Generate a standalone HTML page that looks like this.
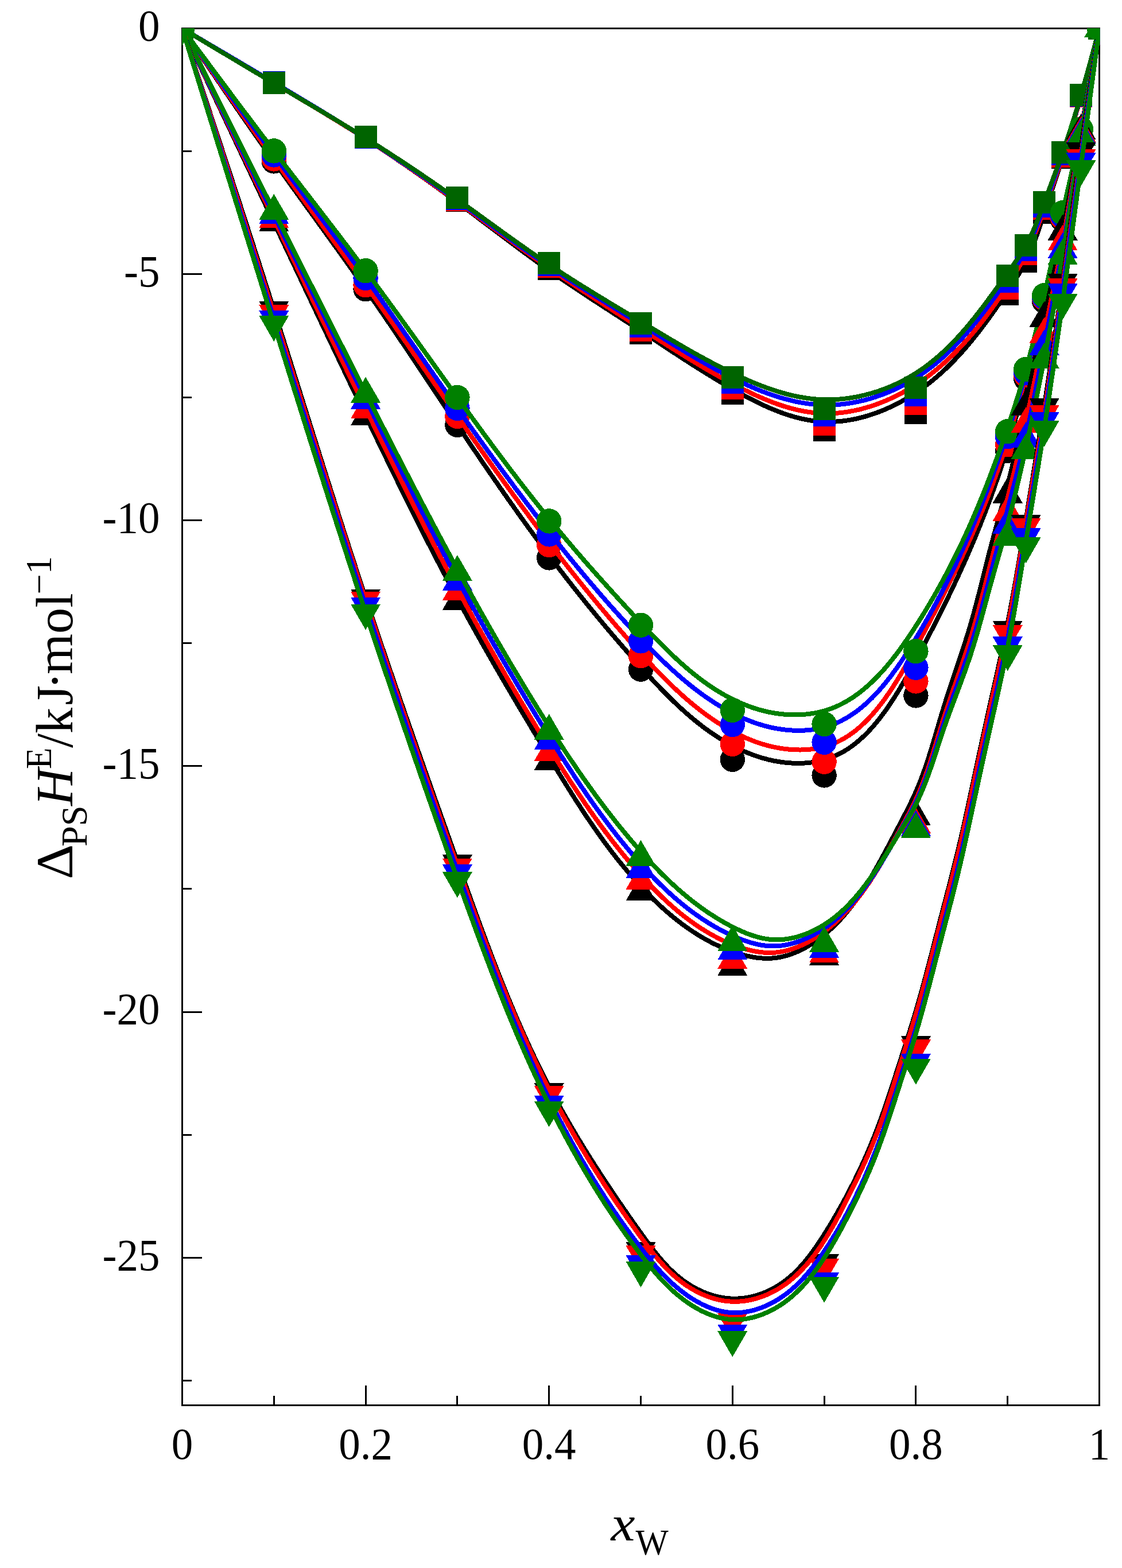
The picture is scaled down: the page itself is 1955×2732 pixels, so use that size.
<!DOCTYPE html>
<html lang="en"><head><meta charset="utf-8"><title>Excess enthalpy plot</title>
<style>html,body{margin:0;padding:0;background:#fff}body{width:1955px;height:2732px;overflow:hidden}svg{display:block}text{font-family:"Liberation Serif","DejaVu Serif",serif;fill:#000}</style></head><body>
<svg role="img" aria-label="Excess enthalpy versus mole fraction of water" width="1955" height="2732" viewBox="0 0 1955 2732">
<rect x="0" y="0" width="1955" height="2732" fill="#fff"/>
<defs><clipPath id="plot"><rect x="317" y="49" width="1599.5" height="2400"/></clipPath></defs>
<g id="axes" stroke="#000" stroke-width="3" fill="none" shape-rendering="crispEdges">
<rect x="317.5" y="49.5" width="1598" height="2399"/>
<line x1="317.5" y1="263.7" x2="334.3" y2="263.7"/>
<line x1="317.5" y1="477.89" x2="352" y2="477.89"/>
<line x1="317.5" y1="692.09" x2="334.3" y2="692.09"/>
<line x1="317.5" y1="906.29" x2="352" y2="906.29"/>
<line x1="317.5" y1="1120.48" x2="334.3" y2="1120.48"/>
<line x1="317.5" y1="1334.68" x2="352" y2="1334.68"/>
<line x1="317.5" y1="1548.88" x2="334.3" y2="1548.88"/>
<line x1="317.5" y1="1763.07" x2="352" y2="1763.07"/>
<line x1="317.5" y1="1977.27" x2="334.3" y2="1977.27"/>
<line x1="317.5" y1="2191.46" x2="352" y2="2191.46"/>
<line x1="317.5" y1="2405.66" x2="334.3" y2="2405.66"/>
<line x1="477.3" y1="2448.5" x2="477.3" y2="2431.7"/>
<line x1="637.1" y1="2448.5" x2="637.1" y2="2414"/>
<line x1="796.9" y1="2448.5" x2="796.9" y2="2431.7"/>
<line x1="956.7" y1="2448.5" x2="956.7" y2="2414"/>
<line x1="1116.5" y1="2448.5" x2="1116.5" y2="2431.7"/>
<line x1="1276.3" y1="2448.5" x2="1276.3" y2="2414"/>
<line x1="1436.1" y1="2448.5" x2="1436.1" y2="2431.7"/>
<line x1="1595.9" y1="2448.5" x2="1595.9" y2="2414"/>
<line x1="1755.7" y1="2448.5" x2="1755.7" y2="2431.7"/>
</g>
<g id="yticks" font-size="78">
<text x="241" y="70.9" textLength="37.5" lengthAdjust="spacingAndGlyphs">0</text>
<text x="216.03" y="499.29" textLength="62.47" lengthAdjust="spacingAndGlyphs">-5</text>
<text x="178.53" y="927.69" textLength="99.97" lengthAdjust="spacingAndGlyphs">-10</text>
<text x="178.53" y="1356.08" textLength="99.97" lengthAdjust="spacingAndGlyphs">-15</text>
<text x="178.53" y="1784.47" textLength="99.97" lengthAdjust="spacingAndGlyphs">-20</text>
<text x="178.53" y="2212.86" textLength="99.97" lengthAdjust="spacingAndGlyphs">-25</text>
</g>
<g id="xticks" font-size="78">
<text x="298.75" y="2541.7" textLength="37.5" lengthAdjust="spacingAndGlyphs">0</text>
<text x="590.23" y="2541.7" textLength="93.75" lengthAdjust="spacingAndGlyphs">0.2</text>
<text x="909.83" y="2541.7" textLength="93.75" lengthAdjust="spacingAndGlyphs">0.4</text>
<text x="1229.43" y="2541.7" textLength="93.75" lengthAdjust="spacingAndGlyphs">0.6</text>
<text x="1549.03" y="2541.7" textLength="93.75" lengthAdjust="spacingAndGlyphs">0.8</text>
<text x="1896.75" y="2541.7" textLength="37.5" lengthAdjust="spacingAndGlyphs">1</text>
</g>
<g id="xlabel">
<text transform="translate(1064.6,2683.8) scale(1.1000,1)" font-size="86" font-style="italic">x</text>
<text transform="translate(1107.5,2708.8) scale(0.9700,1)" font-size="62.5">W</text>
</g>
<g id="ylabel" transform="translate(125.6,1528.5) rotate(-90)">
<text transform="translate(-3.6,0) scale(1.0300,1)" font-size="92">Δ</text>
<text transform="translate(53.4,25.3) scale(1.0300,1)" font-size="62.5">PS</text>
<text transform="translate(124.5,0) scale(0.9800,1)" font-size="92" font-style="italic">H</text>
<text transform="translate(188.5,-36.9) scale(0.9800,1)" font-size="62.5">E</text>
<text transform="translate(225.5,0) scale(0.9800,1)" font-size="92">/k</text>
<text transform="translate(300,0) scale(0.9600,1)" font-size="92">J</text>
<text transform="translate(327,0) scale(1.0000,1)" font-size="92">·</text>
<text transform="translate(353.5,0) scale(0.9900,1)" font-size="92">mol</text>
<text transform="translate(493,-36.9) scale(1.0000,1)" font-size="62.5">−1</text>
</g>
<g id="data" clip-path="url(#plot)" shape-rendering="crispEdges">
<g id="sq-K">
<polyline points="317.5,49.5 320.66,51.4 323.83,53.29 326.99,55.19 330.16,57.08 333.32,58.98 336.48,60.87 339.65,62.77 342.81,64.66 345.98,66.56 349.14,68.45 352.3,70.35 355.47,72.24 358.63,74.14 361.8,76.03 364.96,77.93 368.13,79.82 371.29,81.72 374.46,83.61 377.62,85.5 380.79,87.4 383.95,89.29 387.12,91.18 390.29,93.08 393.45,94.97 396.62,96.86 399.78,98.75 402.95,100.64 406.12,102.54 409.28,104.43 412.45,106.32 415.62,108.21 418.79,110.1 421.95,111.99 425.12,113.88 428.29,115.76 431.46,117.65 434.63,119.54 437.8,121.43 440.97,123.32 444.14,125.2 447.31,127.09 450.48,128.97 453.65,130.86 456.82,132.74 459.99,134.63 463.16,136.51 466.34,138.4 469.51,140.28 472.68,142.16 475.85,144.04 479.03,145.92 482.2,147.8 485.38,149.68 488.55,151.56 491.72,153.44 494.9,155.32 498.07,157.2 501.25,159.08 504.42,160.96 507.6,162.84 510.77,164.72 513.94,166.6 517.12,168.49 520.29,170.37 523.46,172.25 526.63,174.14 529.8,176.02 532.97,177.91 536.14,179.8 539.31,181.69 542.48,183.58 545.65,185.47 548.81,187.37 551.98,189.26 555.14,191.16 558.3,193.06 561.46,194.96 564.62,196.87 567.78,198.78 570.93,200.69 574.09,202.6 577.24,204.51 580.39,206.43 583.54,208.35 586.69,210.28 589.83,212.2 592.97,214.13 596.12,216.07 599.25,218 602.39,219.94 605.52,221.89 608.66,223.84 611.79,225.79 614.91,227.75 618.04,229.71 621.16,231.67 624.28,233.64 627.39,235.61 630.51,237.59 633.62,239.57 636.72,241.56 639.83,243.55 642.93,245.55 646.03,247.55 649.12,249.56 652.21,251.57 655.3,253.58 658.39,255.6 661.47,257.63 664.55,259.66 667.63,261.69 670.7,263.73 673.78,265.77 676.84,267.82 679.91,269.87 682.97,271.93 686.03,273.99 689.09,276.06 692.14,278.13 695.2,280.2 698.24,282.28 701.29,284.36 704.33,286.45 707.37,288.54 710.41,290.63 713.45,292.73 716.48,294.83 719.51,296.94 722.53,299.05 725.56,301.16 728.58,303.28 731.6,305.4 734.62,307.53 737.63,309.65 740.64,311.79 743.65,313.92 746.65,316.06 749.66,318.21 752.66,320.35 755.66,322.5 758.65,324.66 761.65,326.81 764.64,328.97 767.63,331.14 770.61,333.31 773.59,335.48 776.58,337.65 779.55,339.83 782.53,342.01 785.5,344.19 788.48,346.38 791.45,348.57 794.41,350.76 797.38,352.95 800.34,355.15 803.3,357.35 806.26,359.56 809.21,361.76 812.17,363.97 815.12,366.18 818.07,368.39 821.02,370.61 823.97,372.82 826.92,375.04 829.86,377.26 832.81,379.48 835.76,381.7 838.7,383.92 841.64,386.14 844.59,388.36 847.53,390.59 850.47,392.81 853.41,395.03 856.36,397.26 859.3,399.48 862.24,401.7 865.19,403.92 868.13,406.14 871.08,408.36 874.02,410.58 876.97,412.8 879.92,415.01 882.87,417.23 885.82,419.44 888.77,421.65 891.73,423.86 894.68,426.06 897.64,428.27 900.6,430.47 903.56,432.67 906.53,434.86 909.49,437.05 912.46,439.24 915.43,441.43 918.41,443.61 921.39,445.79 924.37,447.96 927.35,450.13 930.34,452.3 933.33,454.46 936.32,456.62 939.32,458.77 942.32,460.92 945.32,463.06 948.33,465.2 951.35,467.33 954.36,469.46 957.38,471.58 960.41,473.69 963.44,475.8 966.48,477.91 969.51,480.01 972.56,482.1 975.6,484.19 978.65,486.27 981.71,488.35 984.76,490.43 987.82,492.5 990.89,494.56 993.95,496.62 997.02,498.68 1000.09,500.74 1003.17,502.79 1006.25,504.83 1009.32,506.87 1012.41,508.91 1015.49,510.95 1018.57,512.98 1021.66,515.01 1024.75,517.04 1027.84,519.06 1030.93,521.08 1034.02,523.1 1037.12,525.12 1040.21,527.14 1043.31,529.15 1046.4,531.16 1049.5,533.17 1052.59,535.18 1055.69,537.18 1058.79,539.19 1061.88,541.19 1064.98,543.2 1068.08,545.2 1071.17,547.2 1074.27,549.2 1077.36,551.2 1080.46,553.2 1083.55,555.2 1086.64,557.2 1089.73,559.2 1092.82,561.2 1095.91,563.2 1098.99,565.2 1102.08,567.2 1105.16,569.21 1108.24,571.21 1111.32,573.22 1114.39,575.22 1117.46,577.23 1120.53,579.24 1123.6,581.25 1126.67,583.26 1129.73,585.27 1132.79,587.29 1135.86,589.3 1138.92,591.31 1141.98,593.33 1145.03,595.34 1148.09,597.36 1151.15,599.37 1154.21,601.38 1157.27,603.4 1160.33,605.41 1163.39,607.42 1166.46,609.43 1169.52,611.44 1172.59,613.45 1175.65,615.45 1178.72,617.46 1181.8,619.46 1184.87,621.46 1187.95,623.46 1191.03,625.46 1194.12,627.45 1197.21,629.44 1200.3,631.43 1203.4,633.42 1206.5,635.4 1209.61,637.38 1212.72,639.35 1215.84,641.32 1218.96,643.29 1222.09,645.25 1225.22,647.21 1228.37,649.17 1231.51,651.12 1234.67,653.06 1237.83,655.01 1241,656.94 1244.17,658.87 1247.36,660.8 1250.55,662.72 1253.75,664.63 1256.96,666.54 1260.18,668.45 1263.41,670.34 1266.64,672.23 1269.89,674.12 1273.15,675.99 1276.41,677.86 1279.69,679.73 1282.97,681.58 1286.27,683.43 1289.58,685.26 1292.9,687.08 1296.22,688.89 1299.56,690.69 1302.9,692.46 1306.26,694.22 1309.63,695.96 1313,697.68 1316.38,699.38 1319.78,701.06 1323.18,702.71 1326.59,704.33 1330.01,705.93 1333.44,707.5 1336.88,709.05 1340.32,710.56 1343.78,712.03 1347.24,713.48 1350.71,714.89 1354.19,716.26 1357.68,717.6 1361.17,718.9 1364.67,720.15 1368.18,721.37 1371.7,722.54 1375.23,723.67 1378.76,724.75 1382.3,725.79 1385.85,726.77 1389.41,727.71 1392.97,728.6 1396.54,729.44 1400.12,730.22 1403.7,730.95 1407.29,731.62 1410.89,732.23 1414.49,732.78 1418.1,733.28 1421.71,733.71 1425.34,734.08 1428.96,734.39 1432.6,734.63 1436.24,734.81 1439.88,734.91 1443.53,734.95 1447.19,734.92 1450.85,734.83 1454.51,734.68 1458.17,734.45 1461.84,734.17 1465.5,733.83 1469.17,733.42 1472.83,732.95 1476.49,732.42 1480.15,731.84 1483.81,731.19 1487.46,730.49 1491.11,729.74 1494.75,728.92 1498.39,728.06 1502.02,727.14 1505.64,726.16 1509.25,725.14 1512.86,724.06 1516.45,722.93 1520.03,721.76 1523.6,720.53 1527.16,719.26 1530.71,717.94 1534.24,716.57 1537.76,715.16 1541.26,713.7 1544.75,712.2 1548.22,710.66 1551.67,709.08 1555.11,707.45 1558.52,705.78 1561.92,704.08 1565.3,702.34 1568.65,700.55 1571.98,698.73 1575.29,696.88 1578.58,694.99 1581.84,693.07 1585.08,691.11 1588.29,689.12 1591.47,687.09 1594.63,685.04 1597.76,682.96 1600.86,680.84 1603.93,678.7 1606.98,676.53 1610,674.33 1612.99,672.1 1615.96,669.85 1618.9,667.56 1621.82,665.26 1624.71,662.92 1627.57,660.56 1630.41,658.18 1633.23,655.77 1636.02,653.33 1638.79,650.88 1641.54,648.39 1644.26,645.89 1646.97,643.36 1649.65,640.81 1652.31,638.24 1654.94,635.65 1657.56,633.04 1660.16,630.41 1662.74,627.76 1665.29,625.09 1667.83,622.39 1670.35,619.69 1672.85,616.96 1675.33,614.21 1677.8,611.45 1680.25,608.68 1682.68,605.88 1685.09,603.07 1687.49,600.25 1689.87,597.4 1692.23,594.55 1694.58,591.68 1696.92,588.8 1699.24,585.9 1701.55,582.99 1703.84,580.07 1706.12,577.14 1708.39,574.2 1710.64,571.24 1712.89,568.28 1715.12,565.3 1717.33,562.32 1719.54,559.33 1721.74,556.33 1723.92,553.31 1726.1,550.3 1728.27,547.27 1730.42,544.24 1732.57,541.2 1734.71,538.16 1736.84,535.11 1738.97,532.05 1741.08,528.99 1743.19,525.93 1745.29,522.86 1747.39,519.79 1749.48,516.71 1751.56,513.64 1753.64,510.56 1755.71,507.48 1757.78,504.4 1759.84,501.32 1761.9,498.23 1763.94,495.14 1765.96,492.04 1767.97,488.93 1769.96,485.82 1771.93,482.69 1773.87,479.56 1775.79,476.41 1777.68,473.24 1779.54,470.06 1781.36,466.87 1783.15,463.66 1784.89,460.42 1786.6,457.17 1788.26,453.9 1789.88,450.6 1791.46,447.28 1793,443.94 1794.5,440.59 1795.96,437.21 1797.38,433.82 1798.78,430.41 1800.14,426.99 1801.48,423.55 1802.79,420.1 1804.07,416.64 1805.34,413.17 1806.58,409.68 1807.8,406.19 1809.01,402.7 1810.21,399.19 1811.39,395.68 1812.56,392.17 1813.72,388.65 1814.88,385.13 1816.03,381.61 1817.18,378.08 1818.32,374.56 1819.48,371.04 1820.63,367.53 1821.79,364.01 1822.95,360.5 1824.11,356.99 1825.28,353.49 1826.45,349.98 1827.62,346.48 1828.79,342.98 1829.96,339.48 1831.14,335.98 1832.31,332.48 1833.48,328.99 1834.66,325.49 1835.83,322 1837.01,318.5 1838.18,315.01 1839.35,311.52 1840.52,308.02 1841.68,304.53 1842.85,301.03 1844.01,297.53 1845.17,294.04 1846.32,290.54 1847.47,287.04 1848.62,283.54 1849.76,280.04 1850.89,276.53 1852.02,273.02 1853.15,269.51 1854.27,266 1855.38,262.49 1856.49,258.97 1857.6,255.46 1858.69,251.94 1859.79,248.42 1860.88,244.89 1861.96,241.37 1863.04,237.84 1864.12,234.31 1865.19,230.78 1866.25,227.25 1867.31,223.72 1868.37,220.18 1869.42,216.65 1870.47,213.11 1871.51,209.57 1872.55,206.03 1873.59,202.49 1874.62,198.94 1875.65,195.4 1876.67,191.85 1877.69,188.31 1878.71,184.76 1879.72,181.21 1880.73,177.66 1881.73,174.11 1882.74,170.56 1883.74,167.01 1884.73,163.45 1885.72,159.9 1886.71,156.34 1887.7,152.79 1888.69,149.23 1889.67,145.68 1890.65,142.12 1891.62,138.56 1892.6,135.01 1893.57,131.45 1894.54,127.89 1895.51,124.33 1896.47,120.77 1897.43,117.21 1898.4,113.65 1899.36,110.08 1900.31,106.52 1901.27,102.96 1902.23,99.4 1903.18,95.84 1904.13,92.27 1905.08,88.71 1906.03,85.15 1906.98,81.58 1907.93,78.02 1908.88,74.45 1909.83,70.89 1910.77,67.32 1911.72,63.76 1912.66,60.19 1913.61,56.63 1914.55,53.06 1915.5,49.5" fill="none" stroke="#000000" stroke-width="8" stroke-linejoin="round"/>
<rect x="298" y="30" width="39" height="39" fill="#000000"/>
<rect x="457.8" y="125.4" width="39" height="39" fill="#000000"/>
<rect x="617.6" y="220.3" width="39" height="39" fill="#000000"/>
<rect x="777.4" y="330.1" width="39" height="39" fill="#000000"/>
<rect x="937.2" y="449" width="39" height="39" fill="#000000"/>
<rect x="1097" y="560.6" width="39" height="39" fill="#000000"/>
<rect x="1256.8" y="665.9" width="39" height="39" fill="#000000"/>
<rect x="1416.6" y="730.3" width="39" height="39" fill="#000000"/>
<rect x="1576.4" y="699.7" width="39" height="39" fill="#000000"/>
<rect x="1736.2" y="493" width="39" height="39" fill="#000000"/>
<rect x="1768.16" y="435.6" width="39" height="39" fill="#000000"/>
<rect x="1800.12" y="351.1" width="39" height="39" fill="#000000"/>
<rect x="1832.08" y="254.9" width="39" height="39" fill="#000000"/>
<rect x="1864.04" y="148.2" width="39" height="39" fill="#000000"/>
<rect x="1896" y="30" width="39" height="39" fill="#000000"/>
</g>
<g id="sq-R">
<polyline points="317.5,49.5 320.64,51.38 323.77,53.26 326.91,55.14 330.04,57.01 333.18,58.89 336.32,60.77 339.45,62.65 342.59,64.53 345.73,66.41 348.86,68.28 352,70.16 355.13,72.04 358.27,73.92 361.41,75.8 364.54,77.67 367.68,79.55 370.82,81.43 373.96,83.3 377.09,85.18 380.23,87.06 383.37,88.93 386.51,90.81 389.64,92.69 392.78,94.56 395.92,96.44 399.06,98.31 402.2,100.19 405.34,102.06 408.47,103.94 411.61,105.81 414.75,107.68 417.89,109.56 421.03,111.43 424.17,113.3 427.31,115.17 430.45,117.05 433.59,118.92 436.73,120.79 439.88,122.66 443.02,124.53 446.16,126.4 449.3,128.27 452.44,130.14 455.59,132.01 458.73,133.88 461.87,135.74 465.02,137.61 468.16,139.48 471.3,141.34 474.45,143.21 477.59,145.07 480.74,146.94 483.89,148.8 487.03,150.67 490.18,152.53 493.32,154.39 496.47,156.26 499.62,158.12 502.76,159.99 505.91,161.85 509.05,163.71 512.2,165.58 515.34,167.44 518.49,169.31 521.63,171.18 524.78,173.05 527.92,174.91 531.06,176.78 534.2,178.66 537.34,180.53 540.48,182.4 543.62,184.28 546.76,186.15 549.9,188.03 553.03,189.91 556.17,191.8 559.3,193.68 562.43,195.57 565.56,197.46 568.69,199.35 571.82,201.24 574.94,203.14 578.07,205.04 581.19,206.94 584.31,208.84 587.43,210.75 590.55,212.66 593.66,214.57 596.77,216.49 599.88,218.41 602.99,220.34 606.1,222.26 609.2,224.19 612.3,226.13 615.4,228.07 618.5,230.01 621.59,231.95 624.69,233.91 627.78,235.86 630.86,237.82 633.94,239.78 637.02,241.75 640.1,243.72 643.18,245.7 646.25,247.68 649.32,249.67 652.38,251.66 655.45,253.66 658.51,255.66 661.56,257.66 664.62,259.67 667.67,261.68 670.72,263.7 673.77,265.72 676.81,267.75 679.85,269.78 682.89,271.81 685.93,273.85 688.96,275.89 691.99,277.93 695.02,279.98 698.05,282.03 701.07,284.09 704.09,286.15 707.11,288.21 710.13,290.27 713.14,292.34 716.16,294.42 719.17,296.49 722.17,298.57 725.18,300.66 728.18,302.74 731.18,304.83 734.18,306.92 737.18,309.02 740.18,311.12 743.17,313.22 746.16,315.32 749.15,317.43 752.14,319.54 755.12,321.65 758.11,323.77 761.09,325.88 764.07,328 767.04,330.13 770.02,332.25 772.99,334.38 775.97,336.51 778.94,338.64 781.91,340.77 784.87,342.91 787.84,345.05 790.8,347.19 793.77,349.33 796.73,351.48 799.69,353.62 802.65,355.77 805.6,357.92 808.56,360.07 811.51,362.23 814.47,364.38 817.42,366.54 820.37,368.69 823.32,370.85 826.27,373.01 829.22,375.17 832.17,377.33 835.12,379.49 838.07,381.65 841.01,383.81 843.96,385.97 846.91,388.13 849.86,390.3 852.8,392.46 855.75,394.62 858.7,396.78 861.65,398.94 864.6,401.1 867.55,403.26 870.5,405.42 873.45,407.57 876.4,409.73 879.35,411.88 882.31,414.04 885.26,416.19 888.22,418.34 891.17,420.49 894.13,422.64 897.09,424.78 900.05,426.93 903.02,429.07 905.98,431.21 908.95,433.34 911.92,435.48 914.89,437.61 917.86,439.74 920.83,441.87 923.81,443.99 926.79,446.11 929.77,448.23 932.76,450.34 935.74,452.45 938.73,454.56 941.72,456.66 944.72,458.76 947.72,460.86 950.72,462.95 953.72,465.04 956.73,467.12 959.74,469.2 962.76,471.28 965.77,473.35 968.79,475.42 971.82,477.48 974.84,479.54 977.87,481.59 980.9,483.65 983.94,485.69 986.98,487.74 990.01,489.78 993.06,491.82 996.1,493.85 999.15,495.88 1002.19,497.91 1005.24,499.94 1008.3,501.96 1011.35,503.98 1014.41,505.99 1017.46,508.01 1020.52,510.02 1023.58,512.03 1026.65,514.03 1029.71,516.03 1032.77,518.04 1035.84,520.03 1038.9,522.03 1041.97,524.02 1045.04,526.02 1048.11,528.01 1051.18,530 1054.25,531.98 1057.32,533.97 1060.39,535.95 1063.46,537.93 1066.54,539.91 1069.61,541.89 1072.68,543.87 1075.75,545.84 1078.83,547.82 1081.9,549.79 1084.97,551.77 1088.04,553.74 1091.11,555.71 1094.18,557.68 1097.25,559.65 1100.32,561.62 1103.39,563.59 1106.46,565.56 1109.53,567.52 1112.59,569.49 1115.66,571.46 1118.72,573.42 1121.78,575.39 1124.84,577.36 1127.9,579.32 1130.96,581.29 1134.02,583.25 1137.08,585.22 1140.14,587.18 1143.2,589.14 1146.27,591.1 1149.33,593.06 1152.39,595.01 1155.46,596.97 1158.52,598.92 1161.59,600.87 1164.66,602.81 1167.73,604.75 1170.81,606.7 1173.89,608.63 1176.97,610.57 1180.05,612.5 1183.14,614.42 1186.23,616.35 1189.33,618.27 1192.42,620.18 1195.53,622.09 1198.63,624 1201.75,625.9 1204.86,627.8 1207.99,629.69 1211.11,631.58 1214.25,633.46 1217.39,635.34 1220.53,637.21 1223.68,639.07 1226.84,640.93 1230.01,642.78 1233.18,644.63 1236.36,646.47 1239.54,648.31 1242.74,650.13 1245.94,651.95 1249.15,653.76 1252.37,655.57 1255.59,657.37 1258.83,659.16 1262.07,660.94 1265.33,662.71 1268.59,664.48 1271.86,666.24 1275.14,667.99 1278.44,669.73 1281.74,671.46 1285.05,673.18 1288.37,674.89 1291.71,676.58 1295.05,678.27 1298.4,679.93 1301.76,681.58 1305.13,683.21 1308.51,684.83 1311.89,686.42 1315.29,687.99 1318.69,689.54 1322.11,691.06 1325.53,692.56 1328.96,694.04 1332.4,695.48 1335.84,696.9 1339.3,698.29 1342.76,699.65 1346.23,700.98 1349.7,702.27 1353.19,703.53 1356.68,704.75 1360.18,705.94 1363.68,707.08 1367.19,708.19 1370.71,709.26 1374.24,710.29 1377.77,711.28 1381.31,712.22 1384.85,713.11 1388.4,713.96 1391.96,714.77 1395.52,715.52 1399.09,716.22 1402.66,716.88 1406.24,717.48 1409.82,718.03 1413.41,718.52 1417.01,718.96 1420.6,719.34 1424.21,719.66 1427.82,719.93 1431.43,720.13 1435.04,720.27 1438.67,720.35 1442.29,720.37 1445.92,720.32 1449.55,720.21 1453.18,720.05 1456.81,719.82 1460.45,719.54 1464.08,719.19 1467.71,718.79 1471.34,718.33 1474.97,717.82 1478.6,717.25 1482.22,716.63 1485.84,715.95 1489.45,715.22 1493.06,714.44 1496.66,713.61 1500.26,712.73 1503.85,711.79 1507.43,710.81 1511,709.78 1514.56,708.7 1518.12,707.57 1521.66,706.4 1525.19,705.18 1528.71,703.92 1532.21,702.61 1535.71,701.26 1539.19,699.87 1542.65,698.43 1546.1,696.96 1549.54,695.44 1552.95,693.89 1556.35,692.29 1559.74,690.66 1563.1,688.99 1566.45,687.28 1569.77,685.54 1573.08,683.76 1576.36,681.95 1579.62,680.11 1582.86,678.23 1586.08,676.32 1589.28,674.38 1592.44,672.4 1595.59,670.4 1598.71,668.37 1601.8,666.31 1604.87,664.22 1607.92,662.1 1610.93,659.96 1613.93,657.79 1616.9,655.59 1619.85,653.36 1622.77,651.11 1625.67,648.83 1628.55,646.53 1631.4,644.21 1634.23,641.85 1637.04,639.48 1639.83,637.08 1642.6,634.66 1645.34,632.21 1648.06,629.74 1650.76,627.26 1653.44,624.74 1656.1,622.21 1658.74,619.66 1661.36,617.08 1663.96,614.49 1666.54,611.88 1669.1,609.24 1671.65,606.59 1674.17,603.92 1676.67,601.23 1679.16,598.53 1681.63,595.8 1684.08,593.06 1686.51,590.3 1688.93,587.53 1691.33,584.74 1693.71,581.94 1696.07,579.12 1698.42,576.28 1700.76,573.43 1703.07,570.57 1705.38,567.7 1707.66,564.81 1709.93,561.91 1712.19,558.99 1714.43,556.07 1716.66,553.13 1718.87,550.18 1721.08,547.22 1723.26,544.25 1725.44,541.27 1727.6,538.29 1729.74,535.29 1731.88,532.28 1734,529.27 1736.11,526.25 1738.21,523.22 1740.3,520.18 1742.38,517.14 1744.45,514.09 1746.5,511.03 1748.55,507.97 1750.58,504.9 1752.6,501.83 1754.62,498.76 1756.63,495.68 1758.62,492.59 1760.61,489.5 1762.58,486.41 1764.53,483.31 1766.48,480.2 1768.4,477.08 1770.31,473.96 1772.19,470.83 1774.06,467.68 1775.9,464.52 1777.72,461.36 1779.51,458.18 1781.27,454.98 1783.01,451.77 1784.71,448.55 1786.39,445.31 1788.03,442.06 1789.64,438.78 1791.22,435.5 1792.76,432.19 1794.28,428.87 1795.77,425.54 1797.23,422.19 1798.67,418.84 1800.08,415.47 1801.47,412.09 1802.85,408.69 1804.2,405.29 1805.53,401.89 1806.85,398.47 1808.15,395.05 1809.44,391.62 1810.72,388.18 1811.99,384.75 1813.25,381.3 1814.5,377.86 1815.74,374.41 1816.98,370.96 1818.22,367.51 1819.46,364.06 1820.69,360.61 1821.92,357.16 1823.16,353.71 1824.39,350.27 1825.62,346.82 1826.85,343.37 1828.08,339.93 1829.31,336.48 1830.53,333.03 1831.75,329.59 1832.97,326.14 1834.19,322.7 1835.41,319.25 1836.62,315.8 1837.83,312.35 1839.03,308.9 1840.23,305.45 1841.43,302 1842.62,298.55 1843.81,295.09 1844.99,291.64 1846.17,288.18 1847.35,284.72 1848.52,281.26 1849.68,277.8 1850.84,274.33 1851.99,270.86 1853.14,267.39 1854.28,263.92 1855.41,260.45 1856.54,256.97 1857.66,253.49 1858.78,250.01 1859.89,246.53 1860.99,243.05 1862.09,239.56 1863.19,236.07 1864.27,232.58 1865.36,229.09 1866.44,225.6 1867.51,222.1 1868.58,218.6 1869.64,215.1 1870.7,211.6 1871.75,208.1 1872.8,204.6 1873.84,201.09 1874.88,197.59 1875.92,194.08 1876.95,190.57 1877.97,187.06 1878.99,183.55 1880.01,180.03 1881.02,176.52 1882.03,173 1883.03,169.49 1884.03,165.97 1885.03,162.45 1886.02,158.93 1887.01,155.41 1887.99,151.89 1888.97,148.37 1889.95,144.84 1890.92,141.32 1891.89,137.79 1892.86,134.27 1893.83,130.74 1894.79,127.21 1895.75,123.69 1896.71,120.16 1897.66,116.63 1898.61,113.1 1899.56,109.57 1900.51,106.04 1901.46,102.51 1902.4,98.98 1903.34,95.44 1904.29,91.91 1905.23,88.38 1906.16,84.84 1907.1,81.31 1908.04,77.78 1908.97,74.24 1909.91,70.71 1910.84,67.17 1911.77,63.64 1912.7,60.1 1913.64,56.57 1914.57,53.03 1915.5,49.5" fill="none" stroke="#ff0000" stroke-width="8" stroke-linejoin="round"/>
<rect x="298" y="30" width="39" height="39" fill="#ff0000"/>
<rect x="457.8" y="125.4" width="39" height="39" fill="#ff0000"/>
<rect x="617.6" y="220.3" width="39" height="39" fill="#ff0000"/>
<rect x="777.4" y="329.1" width="39" height="39" fill="#ff0000"/>
<rect x="937.2" y="445" width="39" height="39" fill="#ff0000"/>
<rect x="1097" y="556" width="39" height="39" fill="#ff0000"/>
<rect x="1256.8" y="656.7" width="39" height="39" fill="#ff0000"/>
<rect x="1416.6" y="719.5" width="39" height="39" fill="#ff0000"/>
<rect x="1576.4" y="683.7" width="39" height="39" fill="#ff0000"/>
<rect x="1736.2" y="482.6" width="39" height="39" fill="#ff0000"/>
<rect x="1768.16" y="423.3" width="39" height="39" fill="#ff0000"/>
<rect x="1800.12" y="344.1" width="39" height="39" fill="#ff0000"/>
<rect x="1832.08" y="252.6" width="39" height="39" fill="#ff0000"/>
<rect x="1864.04" y="148.2" width="39" height="39" fill="#ff0000"/>
<rect x="1896" y="30" width="39" height="39" fill="#ff0000"/>
</g>
<g id="sq-B">
<polyline points="317.5,49.5 320.62,51.34 323.75,53.18 326.87,55.02 329.99,56.86 333.12,58.7 336.24,60.54 339.36,62.38 342.49,64.22 345.61,66.07 348.73,67.91 351.85,69.75 354.98,71.59 358.1,73.43 361.22,75.27 364.35,77.11 367.47,78.95 370.59,80.79 373.71,82.64 376.84,84.48 379.96,86.32 383.08,88.16 386.2,90 389.33,91.85 392.45,93.69 395.57,95.53 398.69,97.38 401.81,99.22 404.94,101.06 408.06,102.91 411.18,104.75 414.3,106.59 417.42,108.44 420.54,110.28 423.66,112.13 426.78,113.97 429.9,115.82 433.02,117.66 436.15,119.51 439.27,121.36 442.39,123.2 445.5,125.05 448.62,126.9 451.74,128.75 454.86,130.59 457.98,132.44 461.1,134.29 464.22,136.14 467.34,137.99 470.46,139.84 473.57,141.69 476.69,143.54 479.81,145.39 482.93,147.24 486.04,149.09 489.16,150.95 492.28,152.8 495.39,154.65 498.51,156.51 501.62,158.36 504.74,160.22 507.85,162.08 510.97,163.93 514.08,165.79 517.19,167.65 520.3,169.51 523.41,171.38 526.52,173.24 529.63,175.11 532.74,176.97 535.85,178.84 538.95,180.71 542.06,182.58 545.17,184.45 548.27,186.33 551.37,188.2 554.47,190.08 557.57,191.96 560.67,193.84 563.77,195.73 566.87,197.61 569.96,199.5 573.06,201.39 576.15,203.28 579.24,205.17 582.33,207.07 585.42,208.97 588.51,210.87 591.59,212.77 594.68,214.68 597.76,216.59 600.84,218.5 603.92,220.41 606.99,222.33 610.07,224.25 613.14,226.17 616.22,228.1 619.28,230.02 622.35,231.96 625.42,233.89 628.48,235.83 631.55,237.77 634.61,239.71 637.66,241.66 640.72,243.61 643.77,245.56 646.82,247.52 649.87,249.48 652.92,251.45 655.97,253.41 659.01,255.38 662.05,257.36 665.09,259.34 668.13,261.32 671.16,263.3 674.19,265.29 677.22,267.28 680.25,269.27 683.28,271.27 686.3,273.27 689.32,275.27 692.34,277.28 695.36,279.29 698.38,281.3 701.39,283.32 704.4,285.34 707.41,287.36 710.42,289.38 713.42,291.41 716.43,293.45 719.43,295.48 722.43,297.52 725.42,299.56 728.42,301.61 731.41,303.65 734.4,305.7 737.39,307.76 740.37,309.81 743.36,311.87 746.34,313.94 749.32,316 752.3,318.07 755.27,320.14 758.25,322.22 761.22,324.3 764.19,326.38 767.16,328.46 770.12,330.55 773.08,332.64 776.05,334.73 779,336.83 781.96,338.93 784.92,341.03 787.87,343.13 790.82,345.24 793.77,347.35 796.71,349.47 799.66,351.58 802.6,353.7 805.54,355.82 808.48,357.95 811.42,360.07 814.35,362.2 817.29,364.33 820.22,366.46 823.15,368.6 826.08,370.73 829.01,372.87 831.94,375.01 834.87,377.14 837.8,379.28 840.72,381.42 843.65,383.56 846.58,385.7 849.51,387.84 852.43,389.98 855.36,392.12 858.29,394.26 861.21,396.4 864.14,398.54 867.07,400.68 870,402.81 872.93,404.95 875.86,407.08 878.8,409.21 881.73,411.34 884.67,413.47 887.6,415.59 890.54,417.72 893.48,419.84 896.42,421.96 899.37,424.07 902.31,426.18 905.26,428.29 908.21,430.4 911.16,432.5 914.12,434.6 917.08,436.7 920.04,438.79 923,440.88 925.97,442.96 928.94,445.04 931.91,447.11 934.89,449.18 937.87,451.24 940.85,453.3 943.84,455.36 946.83,457.4 949.83,459.45 952.83,461.48 955.83,463.51 958.84,465.54 961.85,467.56 964.87,469.57 967.89,471.58 970.91,473.58 973.94,475.58 976.97,477.57 980.01,479.55 983.05,481.53 986.09,483.51 989.14,485.48 992.18,487.44 995.24,489.41 998.29,491.36 1001.35,493.32 1004.41,495.27 1007.47,497.21 1010.53,499.16 1013.6,501.1 1016.67,503.03 1019.74,504.96 1022.81,506.89 1025.89,508.82 1028.96,510.74 1032.04,512.66 1035.12,514.58 1038.2,516.5 1041.28,518.41 1044.36,520.33 1047.45,522.24 1050.53,524.15 1053.62,526.05 1056.7,527.96 1059.79,529.87 1062.87,531.77 1065.96,533.67 1069.04,535.57 1072.13,537.48 1075.22,539.38 1078.3,541.28 1081.39,543.18 1084.47,545.08 1087.56,546.98 1090.64,548.88 1093.72,550.79 1096.8,552.69 1099.88,554.59 1102.96,556.5 1106.04,558.4 1109.11,560.31 1112.19,562.22 1115.26,564.13 1118.33,566.04 1121.4,567.95 1124.47,569.87 1127.53,571.78 1130.6,573.7 1133.66,575.62 1136.72,577.53 1139.79,579.45 1142.85,581.37 1145.91,583.28 1148.98,585.2 1152.04,587.11 1155.11,589.02 1158.17,590.94 1161.24,592.84 1164.31,594.75 1167.38,596.65 1170.45,598.56 1173.53,600.45 1176.61,602.35 1179.69,604.24 1182.77,606.13 1185.86,608.01 1188.95,609.89 1192.04,611.76 1195.14,613.63 1198.24,615.49 1201.35,617.35 1204.46,619.2 1207.58,621.04 1210.7,622.88 1213.83,624.71 1216.96,626.54 1220.1,628.35 1223.24,630.16 1226.4,631.97 1229.56,633.76 1232.72,635.54 1235.89,637.32 1239.07,639.09 1242.26,640.85 1245.46,642.59 1248.66,644.33 1251.87,646.06 1255.09,647.78 1258.32,649.49 1261.56,651.18 1264.81,652.87 1268.06,654.54 1271.33,656.21 1274.61,657.86 1277.9,659.49 1281.19,661.12 1284.5,662.73 1287.82,664.32 1291.15,665.9 1294.49,667.47 1297.83,669.01 1301.19,670.54 1304.56,672.05 1307.93,673.54 1311.32,675 1314.71,676.44 1318.12,677.86 1321.53,679.26 1324.95,680.63 1328.38,681.98 1331.81,683.29 1335.26,684.58 1338.71,685.85 1342.17,687.08 1345.64,688.28 1349.12,689.45 1352.6,690.58 1356.09,691.69 1359.59,692.75 1363.09,693.79 1366.6,694.78 1370.12,695.74 1373.65,696.66 1377.18,697.54 1380.72,698.39 1384.26,699.19 1387.81,699.95 1391.37,700.66 1394.93,701.33 1398.5,701.96 1402.07,702.54 1405.65,703.08 1409.24,703.56 1412.83,704 1416.42,704.39 1420.02,704.73 1423.62,705.02 1427.23,705.25 1430.85,705.43 1434.46,705.56 1438.08,705.63 1441.71,705.65 1445.34,705.61 1448.97,705.52 1452.6,705.38 1456.23,705.18 1459.87,704.93 1463.5,704.62 1467.13,704.27 1470.76,703.86 1474.39,703.4 1478.01,702.89 1481.63,702.34 1485.25,701.73 1488.86,701.07 1492.47,700.37 1496.07,699.62 1499.66,698.82 1503.25,697.97 1506.82,697.08 1510.39,696.14 1513.95,695.16 1517.49,694.13 1521.03,693.05 1524.55,691.94 1528.06,690.78 1531.56,689.57 1535.05,688.33 1538.51,687.04 1541.97,685.71 1545.41,684.34 1548.83,682.93 1552.23,681.48 1555.62,679.99 1558.99,678.46 1562.34,676.89 1565.67,675.29 1568.98,673.64 1572.26,671.96 1575.53,670.25 1578.77,668.49 1581.99,666.7 1585.18,664.88 1588.35,663.02 1591.5,661.13 1594.62,659.21 1597.71,657.25 1600.78,655.26 1603.82,653.23 1606.83,651.18 1609.82,649.09 1612.78,646.98 1615.71,644.83 1618.63,642.65 1621.51,640.45 1624.38,638.22 1627.22,635.96 1630.03,633.67 1632.83,631.35 1635.6,629.01 1638.35,626.64 1641.07,624.25 1643.78,621.83 1646.46,619.39 1649.13,616.92 1651.77,614.43 1654.39,611.92 1656.99,609.39 1659.58,606.83 1662.14,604.25 1664.68,601.65 1667.21,599.04 1669.72,596.4 1672.21,593.74 1674.68,591.06 1677.14,588.37 1679.58,585.66 1682,582.93 1684.41,580.18 1686.8,577.42 1689.17,574.64 1691.53,571.85 1693.88,569.04 1696.21,566.22 1698.53,563.39 1700.83,560.54 1703.12,557.68 1705.4,554.81 1707.66,551.92 1709.92,549.03 1712.16,546.12 1714.39,543.21 1716.61,540.28 1718.81,537.35 1721.01,534.41 1723.2,531.46 1725.37,528.5 1727.54,525.53 1729.7,522.56 1731.85,519.59 1733.99,516.61 1736.12,513.62 1738.25,510.63 1740.36,507.63 1742.47,504.63 1744.58,501.63 1746.67,498.63 1748.77,495.63 1750.85,492.62 1752.93,489.61 1755.01,486.61 1757.08,483.6 1759.14,480.59 1761.2,477.58 1763.24,474.57 1765.28,471.56 1767.3,468.53 1769.3,465.5 1771.29,462.47 1773.25,459.42 1775.19,456.36 1777.11,453.29 1779,450.2 1780.86,447.1 1782.69,443.99 1784.48,440.85 1786.24,437.7 1787.97,434.53 1789.65,431.33 1791.3,428.12 1792.91,424.88 1794.49,421.63 1796.03,418.36 1797.55,415.07 1799.03,411.76 1800.49,408.45 1801.92,405.12 1803.33,401.77 1804.72,398.42 1806.08,395.05 1807.43,391.67 1808.75,388.29 1810.06,384.9 1811.36,381.5 1812.64,378.09 1813.91,374.68 1815.18,371.27 1816.43,367.86 1817.68,364.44 1818.92,361.02 1820.16,357.6 1821.4,354.18 1822.64,350.77 1823.87,347.35 1825.1,343.93 1826.33,340.52 1827.56,337.1 1828.78,333.68 1830,330.27 1831.22,326.85 1832.43,323.44 1833.64,320.02 1834.85,316.6 1836.06,313.19 1837.26,309.77 1838.46,306.35 1839.66,302.93 1840.85,299.51 1842.04,296.09 1843.22,292.67 1844.41,289.25 1845.59,285.82 1846.76,282.4 1847.93,278.97 1849.1,275.54 1850.26,272.11 1851.42,268.68 1852.57,265.24 1853.72,261.81 1854.87,258.37 1856.01,254.93 1857.15,251.49 1858.28,248.05 1859.41,244.6 1860.54,241.16 1861.66,237.71 1862.77,234.26 1863.88,230.81 1864.99,227.36 1866.09,223.9 1867.19,220.45 1868.28,216.99 1869.37,213.53 1870.45,210.07 1871.53,206.61 1872.6,203.14 1873.67,199.67 1874.73,196.21 1875.79,192.74 1876.84,189.27 1877.88,185.8 1878.93,182.32 1879.96,178.85 1880.99,175.37 1882.02,171.89 1883.04,168.41 1884.06,164.93 1885.06,161.45 1886.07,157.96 1887.07,154.48 1888.06,150.99 1889.05,147.5 1890.04,144.01 1891.02,140.52 1891.99,137.03 1892.97,133.54 1893.93,130.05 1894.9,126.55 1895.86,123.06 1896.82,119.56 1897.77,116.06 1898.72,112.56 1899.67,109.06 1900.62,105.56 1901.56,102.06 1902.5,98.56 1903.44,95.06 1904.37,91.56 1905.31,88.05 1906.24,84.55 1907.17,81.05 1908.1,77.54 1909.03,74.04 1909.95,70.53 1910.88,67.03 1911.81,63.52 1912.73,60.02 1913.65,56.51 1914.58,53.01 1915.5,49.5" fill="none" stroke="#0000ff" stroke-width="8" stroke-linejoin="round"/>
<rect x="298" y="30" width="39" height="39" fill="#0000ff"/>
<rect x="457.8" y="124.4" width="39" height="39" fill="#0000ff"/>
<rect x="617.6" y="219.8" width="39" height="39" fill="#0000ff"/>
<rect x="777.4" y="327.1" width="39" height="39" fill="#0000ff"/>
<rect x="937.2" y="442" width="39" height="39" fill="#0000ff"/>
<rect x="1097" y="548.9" width="39" height="39" fill="#0000ff"/>
<rect x="1256.8" y="646.8" width="39" height="39" fill="#0000ff"/>
<rect x="1416.6" y="704.1" width="39" height="39" fill="#0000ff"/>
<rect x="1576.4" y="668.9" width="39" height="39" fill="#0000ff"/>
<rect x="1736.2" y="471.1" width="39" height="39" fill="#0000ff"/>
<rect x="1768.16" y="415.6" width="39" height="39" fill="#0000ff"/>
<rect x="1800.12" y="339.6" width="39" height="39" fill="#0000ff"/>
<rect x="1832.08" y="248.7" width="39" height="39" fill="#0000ff"/>
<rect x="1864.04" y="147.2" width="39" height="39" fill="#0000ff"/>
<rect x="1896" y="30" width="39" height="39" fill="#0000ff"/>
</g>
<g id="sq-G">
<polyline points="317.5,49.5 320.59,51.35 323.68,53.21 326.77,55.06 329.86,56.91 332.95,58.77 336.04,60.62 339.13,62.47 342.23,64.33 345.32,66.18 348.41,68.03 351.5,69.88 354.59,71.74 357.68,73.59 360.77,75.44 363.86,77.29 366.96,79.15 370.05,81 373.14,82.85 376.23,84.7 379.32,86.55 382.42,88.4 385.51,90.25 388.6,92.1 391.69,93.95 394.79,95.8 397.88,97.65 400.97,99.5 404.07,101.35 407.16,103.19 410.26,105.04 413.35,106.89 416.45,108.73 419.54,110.58 422.64,112.43 425.73,114.27 428.83,116.12 431.92,117.96 435.02,119.8 438.12,121.65 441.21,123.49 444.31,125.33 447.41,127.17 450.51,129.02 453.61,130.86 456.71,132.7 459.81,134.53 462.9,136.37 466.01,138.21 469.11,140.05 472.21,141.89 475.31,143.72 478.41,145.56 481.51,147.39 484.61,149.23 487.72,151.06 490.82,152.89 493.92,154.72 497.03,156.56 500.13,158.39 503.24,160.22 506.34,162.05 509.44,163.89 512.55,165.72 515.65,167.55 518.75,169.38 521.86,171.22 524.96,173.05 528.06,174.89 531.16,176.72 534.26,178.56 537.37,180.39 540.47,182.23 543.57,184.07 546.66,185.91 549.76,187.75 552.86,189.59 555.96,191.44 559.05,193.28 562.15,195.13 565.24,196.98 568.34,198.83 571.43,200.68 574.52,202.53 577.61,204.39 580.7,206.25 583.78,208.11 586.87,209.97 589.95,211.83 593.04,213.7 596.12,215.57 599.2,217.44 602.27,219.31 605.35,221.19 608.43,223.07 611.5,224.95 614.57,226.83 617.64,228.72 620.71,230.61 623.77,232.51 626.84,234.41 629.9,236.31 632.96,238.21 636.01,240.12 639.07,242.03 642.12,243.95 645.17,245.87 648.22,247.79 651.27,249.72 654.31,251.65 657.35,253.58 660.39,255.52 663.43,257.46 666.46,259.4 669.49,261.35 672.52,263.3 675.55,265.25 678.58,267.21 681.6,269.17 684.62,271.14 687.64,273.11 690.66,275.08 693.67,277.05 696.69,279.03 699.7,281.01 702.71,283 705.71,284.99 708.72,286.98 711.72,288.98 714.72,290.98 717.71,292.98 720.71,294.98 723.7,296.99 726.69,299 729.68,301.02 732.67,303.04 735.65,305.06 738.63,307.09 741.61,309.11 744.59,311.15 747.57,313.18 750.54,315.22 753.51,317.26 756.48,319.3 759.44,321.35 762.41,323.4 765.37,325.46 768.33,327.51 771.29,329.57 774.25,331.64 777.2,333.7 780.15,335.77 783.1,337.84 786.05,339.92 788.99,342 791.94,344.08 794.88,346.16 797.82,348.25 800.75,350.34 803.69,352.43 806.62,354.53 809.55,356.63 812.48,358.73 815.41,360.83 818.33,362.93 821.26,365.04 824.18,367.15 827.11,369.26 830.03,371.37 832.95,373.48 835.87,375.59 838.79,377.7 841.71,379.82 844.63,381.93 847.55,384.05 850.47,386.16 853.39,388.28 856.3,390.39 859.22,392.5 862.14,394.62 865.06,396.73 867.98,398.84 870.91,400.95 873.83,403.06 876.75,405.17 879.68,407.28 882.6,409.38 885.53,411.48 888.46,413.58 891.39,415.68 894.32,417.78 897.25,419.87 900.19,421.96 903.12,424.05 906.06,426.14 909,428.22 911.95,430.3 914.89,432.37 917.84,434.44 920.79,436.51 923.75,438.57 926.71,440.63 929.67,442.68 932.63,444.73 935.6,446.78 938.57,448.82 941.54,450.85 944.52,452.88 947.5,454.91 950.49,456.93 953.48,458.94 956.47,460.95 959.47,462.95 962.47,464.94 965.48,466.93 968.49,468.92 971.5,470.89 974.52,472.87 977.54,474.83 980.57,476.8 983.59,478.75 986.63,480.71 989.66,482.65 992.7,484.59 995.74,486.53 998.78,488.47 1001.83,490.39 1004.88,492.32 1007.93,494.24 1010.99,496.16 1014.05,498.07 1017.11,499.98 1020.17,501.88 1023.23,503.78 1026.3,505.68 1029.37,507.58 1032.44,509.47 1035.51,511.36 1038.59,513.24 1041.66,515.13 1044.74,517.01 1047.82,518.89 1050.9,520.76 1053.98,522.63 1057.06,524.5 1060.14,526.37 1063.22,528.24 1066.31,530.11 1069.39,531.97 1072.48,533.83 1075.56,535.69 1078.65,537.55 1081.74,539.41 1084.82,541.27 1087.91,543.12 1091,544.98 1094.08,546.83 1097.17,548.69 1100.26,550.54 1103.34,552.39 1106.43,554.25 1109.51,556.1 1112.59,557.95 1115.68,559.81 1118.76,561.66 1121.84,563.51 1124.92,565.37 1128,567.22 1131.08,569.07 1134.16,570.92 1137.24,572.77 1140.32,574.62 1143.4,576.47 1146.48,578.32 1149.56,580.16 1152.65,582.01 1155.73,583.85 1158.82,585.68 1161.91,587.52 1165,589.35 1168.09,591.18 1171.18,593.01 1174.28,594.83 1177.38,596.65 1180.48,598.46 1183.59,600.27 1186.7,602.08 1189.81,603.88 1192.93,605.67 1196.05,607.46 1199.17,609.25 1202.3,611.03 1205.43,612.8 1208.57,614.57 1211.71,616.33 1214.86,618.09 1218.01,619.83 1221.17,621.57 1224.33,623.31 1227.5,625.03 1230.68,626.75 1233.86,628.46 1237.05,630.17 1240.24,631.86 1243.44,633.55 1246.65,635.23 1249.87,636.89 1253.09,638.55 1256.32,640.2 1259.56,641.84 1262.8,643.47 1266.06,645.1 1269.32,646.71 1272.59,648.31 1275.87,649.89 1279.16,651.47 1282.46,653.04 1285.77,654.59 1289.08,656.13 1292.41,657.66 1295.74,659.17 1299.08,660.66 1302.43,662.14 1305.79,663.59 1309.16,665.03 1312.53,666.45 1315.91,667.85 1319.3,669.22 1322.7,670.58 1326.11,671.91 1329.52,673.21 1332.94,674.49 1336.37,675.74 1339.81,676.97 1343.25,678.16 1346.7,679.33 1350.16,680.47 1353.62,681.57 1357.09,682.64 1360.57,683.69 1364.06,684.69 1367.55,685.66 1371.05,686.6 1374.56,687.5 1378.07,688.36 1381.59,689.18 1385.11,689.97 1388.64,690.71 1392.18,691.41 1395.72,692.07 1399.27,692.69 1402.82,693.26 1406.38,693.79 1409.95,694.27 1413.52,694.7 1417.1,695.09 1420.68,695.43 1424.27,695.71 1427.86,695.95 1431.46,696.14 1435.06,696.27 1438.67,696.35 1442.28,696.38 1445.9,696.35 1449.52,696.28 1453.14,696.14 1456.76,695.96 1460.39,695.73 1464.01,695.45 1467.63,695.11 1471.26,694.73 1474.87,694.29 1478.49,693.81 1482.1,693.28 1485.71,692.7 1489.32,692.07 1492.91,691.39 1496.51,690.67 1500.09,689.9 1503.67,689.08 1507.23,688.22 1510.79,687.31 1514.34,686.36 1517.88,685.37 1521.4,684.32 1524.92,683.24 1528.42,682.11 1531.9,680.94 1535.37,679.72 1538.83,678.47 1542.27,677.17 1545.7,675.83 1549.1,674.45 1552.49,673.03 1555.86,671.57 1559.21,670.06 1562.54,668.52 1565.85,666.94 1569.14,665.33 1572.4,663.67 1575.64,661.98 1578.86,660.25 1582.05,658.48 1585.22,656.67 1588.36,654.83 1591.47,652.96 1594.56,651.05 1597.62,649.1 1600.65,647.12 1603.65,645.11 1606.62,643.06 1609.57,640.98 1612.49,638.87 1615.39,636.73 1618.25,634.55 1621.1,632.35 1623.92,630.11 1626.71,627.85 1629.48,625.56 1632.23,623.24 1634.95,620.9 1637.65,618.52 1640.33,616.13 1642.98,613.7 1645.62,611.25 1648.23,608.78 1650.83,606.28 1653.4,603.76 1655.95,601.22 1658.49,598.66 1661,596.07 1663.5,593.46 1665.98,590.84 1668.44,588.19 1670.89,585.52 1673.31,582.84 1675.73,580.14 1678.12,577.42 1680.5,574.68 1682.87,571.93 1685.22,569.16 1687.56,566.38 1689.88,563.58 1692.19,560.77 1694.49,557.95 1696.78,555.11 1699.05,552.27 1701.31,549.41 1703.56,546.54 1705.81,543.66 1708.04,540.77 1710.26,537.87 1712.47,534.96 1714.67,532.04 1716.87,529.12 1719.06,526.19 1721.24,523.26 1723.41,520.31 1725.58,517.37 1727.74,514.42 1729.89,511.46 1732.04,508.51 1734.19,505.55 1736.33,502.58 1738.46,499.62 1740.59,496.66 1742.72,493.69 1744.85,490.73 1746.97,487.77 1749.1,484.8 1751.22,481.85 1753.34,478.89 1755.46,475.94 1757.58,472.99 1759.7,470.04 1761.81,467.09 1763.91,464.14 1766,461.19 1768.08,458.23 1770.14,455.27 1772.18,452.3 1774.2,449.31 1776.2,446.31 1778.16,443.3 1780.09,440.27 1781.99,437.23 1783.86,434.16 1785.68,431.07 1787.46,427.96 1789.19,424.82 1790.88,421.66 1792.53,418.47 1794.14,415.26 1795.71,412.03 1797.25,408.78 1798.75,405.51 1800.22,402.22 1801.66,398.92 1803.07,395.6 1804.46,392.27 1805.83,388.93 1807.17,385.57 1808.5,382.21 1809.81,378.84 1811.1,375.46 1812.39,372.07 1813.66,368.68 1814.93,365.29 1816.19,361.89 1817.44,358.5 1818.7,355.1 1819.95,351.71 1821.21,348.32 1822.46,344.93 1823.72,341.54 1824.98,338.16 1826.25,334.77 1827.51,331.39 1828.77,328.01 1830.03,324.63 1831.29,321.25 1832.55,317.88 1833.8,314.5 1835.06,311.12 1836.31,307.75 1837.56,304.37 1838.81,300.99 1840.05,297.61 1841.29,294.24 1842.53,290.86 1843.76,287.47 1844.99,284.09 1846.21,280.71 1847.42,277.32 1848.63,273.93 1849.84,270.54 1851.04,267.15 1852.23,263.75 1853.41,260.35 1854.59,256.95 1855.76,253.54 1856.92,250.13 1858.08,246.72 1859.23,243.31 1860.37,239.89 1861.51,236.47 1862.64,233.05 1863.77,229.62 1864.88,226.2 1865.99,222.77 1867.1,219.34 1868.2,215.9 1869.29,212.47 1870.38,209.03 1871.46,205.59 1872.53,202.15 1873.6,198.71 1874.67,195.26 1875.72,191.81 1876.78,188.36 1877.82,184.91 1878.86,181.46 1879.9,178.01 1880.93,174.55 1881.95,171.09 1882.97,167.64 1883.99,164.18 1884.99,160.71 1886,157.25 1887,153.79 1887.99,150.32 1888.98,146.86 1889.97,143.39 1890.95,139.92 1891.93,136.45 1892.9,132.98 1893.87,129.51 1894.84,126.04 1895.8,122.57 1896.76,119.09 1897.71,115.62 1898.67,112.14 1899.62,108.67 1900.57,105.19 1901.51,101.71 1902.45,98.23 1903.4,94.75 1904.33,91.28 1905.27,87.8 1906.21,84.32 1907.14,80.84 1908.07,77.35 1909,73.87 1909.93,70.39 1910.86,66.91 1911.79,63.43 1912.72,59.95 1913.65,56.46 1914.57,52.98 1915.5,49.5" fill="none" stroke="#006400" stroke-width="8" stroke-linejoin="round"/>
<rect x="298" y="30" width="39" height="39" fill="#006400"/>
<rect x="457.8" y="125.4" width="39" height="39" fill="#006400"/>
<rect x="617.6" y="219.3" width="39" height="39" fill="#006400"/>
<rect x="777.4" y="325.1" width="39" height="39" fill="#006400"/>
<rect x="937.2" y="439" width="39" height="39" fill="#006400"/>
<rect x="1097" y="544.3" width="39" height="39" fill="#006400"/>
<rect x="1256.8" y="638.2" width="39" height="39" fill="#006400"/>
<rect x="1416.6" y="693.3" width="39" height="39" fill="#006400"/>
<rect x="1576.4" y="655.7" width="39" height="39" fill="#006400"/>
<rect x="1736.2" y="461.1" width="39" height="39" fill="#006400"/>
<rect x="1768.16" y="408.1" width="39" height="39" fill="#006400"/>
<rect x="1800.12" y="333.1" width="39" height="39" fill="#006400"/>
<rect x="1832.08" y="246.1" width="39" height="39" fill="#006400"/>
<rect x="1864.04" y="146.2" width="39" height="39" fill="#006400"/>
<rect x="1896" y="30" width="39" height="39" fill="#006400"/>
</g>
<g id="ci-K">
<polyline points="317.5,49.5 320.44,53.82 323.38,58.15 326.33,62.47 329.27,66.8 332.21,71.12 335.16,75.44 338.1,79.77 341.04,84.09 343.99,88.41 346.93,92.73 349.88,97.06 352.82,101.38 355.77,105.7 358.72,110.02 361.67,114.34 364.62,118.66 367.57,122.97 370.52,127.29 373.47,131.61 376.43,135.92 379.38,140.24 382.34,144.55 385.3,148.87 388.26,153.18 391.22,157.49 394.18,161.8 397.14,166.11 400.11,170.42 403.08,174.72 406.04,179.03 409.01,183.33 411.99,187.64 414.96,191.94 417.94,196.24 420.92,200.54 423.9,204.83 426.88,209.13 429.87,213.42 432.86,217.72 435.85,222.01 438.84,226.3 441.83,230.58 444.83,234.87 447.83,239.15 450.84,243.44 453.84,247.72 456.85,251.99 459.86,256.27 462.88,260.54 465.89,264.81 468.92,269.08 471.94,273.35 474.97,277.62 478,281.88 481.03,286.14 484.07,290.4 487.11,294.66 490.15,298.91 493.2,303.16 496.24,307.41 499.29,311.66 502.35,315.91 505.4,320.16 508.46,324.4 511.51,328.65 514.57,332.89 517.63,337.13 520.7,341.37 523.76,345.61 526.83,349.85 529.89,354.09 532.96,358.33 536.02,362.56 539.09,366.8 542.16,371.04 545.22,375.28 548.29,379.51 551.36,383.75 554.42,387.99 557.49,392.23 560.56,396.46 563.62,400.7 566.68,404.94 569.75,409.18 572.81,413.42 575.87,417.66 578.92,421.91 581.98,426.15 585.03,430.4 588.09,434.64 591.14,438.89 594.18,443.14 597.23,447.39 600.27,451.65 603.31,455.9 606.35,460.16 609.38,464.42 612.41,468.68 615.44,472.94 618.46,477.21 621.48,481.48 624.5,485.75 627.51,490.02 630.51,494.3 633.52,498.58 636.51,502.86 639.51,507.15 642.5,511.44 645.48,515.73 648.46,520.02 651.44,524.32 654.41,528.62 657.38,532.93 660.34,537.23 663.3,541.54 666.26,545.85 669.21,550.17 672.16,554.48 675.11,558.8 678.05,563.12 680.99,567.44 683.93,571.77 686.86,576.09 689.79,580.42 692.72,584.75 695.65,589.08 698.57,593.42 701.5,597.75 704.42,602.09 707.33,606.43 710.25,610.77 713.17,615.11 716.08,619.45 718.99,623.8 721.9,628.14 724.81,632.49 727.72,636.83 730.62,641.18 733.53,645.53 736.43,649.88 739.34,654.23 742.24,658.58 745.15,662.93 748.05,667.28 750.95,671.64 753.86,675.99 756.76,680.34 759.66,684.69 762.57,689.05 765.47,693.4 768.37,697.75 771.28,702.1 774.19,706.46 777.09,710.81 780,715.16 782.91,719.51 785.82,723.86 788.73,728.21 791.65,732.56 794.56,736.91 797.48,741.26 800.4,745.61 803.32,749.95 806.24,754.3 809.16,758.64 812.09,762.99 815.02,767.33 817.95,771.67 820.88,776.01 823.82,780.34 826.76,784.68 829.7,789.01 832.65,793.34 835.59,797.67 838.54,802 841.5,806.32 844.45,810.65 847.41,814.97 850.38,819.28 853.34,823.6 856.31,827.91 859.29,832.22 862.26,836.53 865.25,840.83 868.23,845.13 871.22,849.43 874.21,853.72 877.21,858.01 880.21,862.3 883.21,866.59 886.22,870.87 889.24,875.14 892.26,879.41 895.28,883.68 898.31,887.95 901.34,892.21 904.37,896.46 907.42,900.71 910.46,904.96 913.52,909.2 916.57,913.44 919.64,917.67 922.7,921.9 925.78,926.13 928.85,930.34 931.94,934.56 935.03,938.76 938.12,942.97 941.23,947.16 944.33,951.36 947.45,955.54 950.57,959.72 953.69,963.9 956.82,968.06 959.96,972.23 963.11,976.38 966.26,980.53 969.42,984.68 972.58,988.82 975.75,992.95 978.93,997.08 982.12,1001.2 985.31,1005.32 988.51,1009.43 991.71,1013.53 994.93,1017.63 998.15,1021.73 1001.38,1025.81 1004.61,1029.9 1007.86,1033.98 1011.11,1038.05 1014.37,1042.12 1017.64,1046.18 1020.91,1050.24 1024.2,1054.29 1027.49,1058.33 1030.79,1062.38 1034.1,1066.41 1037.42,1070.45 1040.74,1074.47 1044.08,1078.5 1047.42,1082.51 1050.78,1086.53 1054.14,1090.54 1057.51,1094.54 1060.89,1098.54 1064.28,1102.54 1067.67,1106.53 1071.08,1110.51 1074.5,1114.49 1077.93,1118.47 1081.36,1122.45 1084.81,1126.41 1088.26,1130.38 1091.73,1134.34 1095.21,1138.3 1098.69,1142.25 1102.19,1146.2 1105.7,1150.14 1109.21,1154.08 1112.74,1158.02 1116.28,1161.95 1119.83,1165.88 1123.39,1169.81 1126.96,1173.72 1130.55,1177.63 1134.14,1181.53 1137.76,1185.42 1141.39,1189.29 1145.03,1193.15 1148.69,1196.99 1152.37,1200.81 1156.07,1204.61 1159.79,1208.39 1163.53,1212.14 1167.28,1215.87 1171.06,1219.58 1174.87,1223.25 1178.69,1226.9 1182.54,1230.51 1186.41,1234.09 1190.31,1237.63 1194.24,1241.14 1198.19,1244.6 1202.17,1248.03 1206.18,1251.42 1210.21,1254.76 1214.28,1258.06 1218.38,1261.3 1222.51,1264.51 1226.67,1267.66 1230.87,1270.75 1235.1,1273.8 1239.36,1276.79 1243.66,1279.72 1248,1282.6 1252.37,1285.41 1256.78,1288.16 1261.23,1290.85 1265.72,1293.47 1270.25,1296.03 1274.82,1298.52 1279.43,1300.93 1284.09,1303.28 1288.78,1305.54 1293.52,1307.73 1298.3,1309.84 1303.13,1311.85 1307.99,1313.78 1312.9,1315.62 1317.84,1317.36 1322.84,1319 1327.87,1320.54 1332.94,1321.97 1338.06,1323.3 1343.22,1324.51 1348.42,1325.61 1353.66,1326.58 1358.94,1327.44 1364.24,1328.17 1369.57,1328.77 1374.9,1329.24 1380.25,1329.58 1385.58,1329.78 1390.91,1329.84 1396.23,1329.76 1401.52,1329.53 1406.77,1329.15 1411.99,1328.62 1417.16,1327.93 1422.28,1327.09 1427.33,1326.08 1432.32,1324.91 1437.23,1323.57 1442.06,1322.07 1446.82,1320.4 1451.49,1318.56 1456.08,1316.58 1460.61,1314.43 1465.05,1312.14 1469.43,1309.71 1473.73,1307.13 1477.96,1304.42 1482.13,1301.57 1486.22,1298.6 1490.26,1295.5 1494.23,1292.28 1498.13,1288.95 1501.98,1285.5 1505.76,1281.94 1509.49,1278.28 1513.16,1274.52 1516.77,1270.66 1520.34,1266.7 1523.84,1262.66 1527.3,1258.54 1530.71,1254.33 1534.07,1250.05 1537.38,1245.7 1540.65,1241.28 1543.88,1236.79 1547.06,1232.24 1550.2,1227.64 1553.3,1222.98 1556.36,1218.28 1559.39,1213.53 1562.38,1208.74 1565.34,1203.92 1568.27,1199.06 1571.16,1194.17 1574.03,1189.27 1576.86,1184.34 1579.67,1179.39 1582.46,1174.43 1585.22,1169.47 1587.96,1164.5 1590.68,1159.52 1593.38,1154.56 1596.06,1149.6 1598.73,1144.65 1601.38,1139.72 1604.01,1134.79 1606.62,1129.88 1609.22,1124.97 1611.81,1120.08 1614.37,1115.2 1616.92,1110.32 1619.46,1105.46 1621.97,1100.6 1624.48,1095.76 1626.96,1090.92 1629.43,1086.09 1631.88,1081.27 1634.32,1076.45 1636.74,1071.64 1639.14,1066.84 1641.53,1062.05 1643.91,1057.26 1646.26,1052.48 1648.6,1047.7 1650.93,1042.93 1653.24,1038.16 1655.53,1033.4 1657.81,1028.64 1660.07,1023.89 1662.32,1019.14 1664.55,1014.39 1666.76,1009.65 1668.96,1004.91 1671.14,1000.17 1673.31,995.43 1675.47,990.7 1677.6,985.97 1679.72,981.24 1681.83,976.51 1683.92,971.78 1686,967.05 1688.06,962.32 1690.1,957.59 1692.13,952.86 1694.14,948.14 1696.14,943.4 1698.13,938.67 1700.09,933.94 1702.05,929.2 1703.99,924.46 1705.91,919.72 1707.82,914.98 1709.71,910.23 1711.59,905.48 1713.45,900.72 1715.3,895.97 1717.13,891.2 1718.95,886.43 1720.76,881.66 1722.55,876.88 1724.32,872.1 1726.08,867.31 1727.83,862.51 1729.56,857.71 1731.27,852.9 1732.97,848.08 1734.66,843.25 1736.33,838.42 1737.99,833.58 1739.63,828.73 1741.26,823.87 1742.88,819 1744.48,814.13 1746.06,809.24 1747.63,804.34 1749.19,799.44 1750.73,794.52 1752.26,789.59 1753.78,784.65 1755.28,779.7 1756.76,774.74 1758.24,769.77 1759.7,764.78 1761.14,759.78 1762.58,754.78 1764,749.76 1765.41,744.74 1766.8,739.71 1768.19,734.67 1769.56,729.62 1770.93,724.57 1772.28,719.51 1773.63,714.44 1774.96,709.37 1776.29,704.3 1777.61,699.22 1778.92,694.14 1780.22,689.05 1781.51,683.96 1782.8,678.87 1784.08,673.78 1785.35,668.69 1786.62,663.6 1787.88,658.51 1789.14,653.41 1790.39,648.32 1791.63,643.23 1792.88,638.14 1794.11,633.06 1795.34,627.97 1796.57,622.88 1797.8,617.79 1799.01,612.7 1800.23,607.62 1801.44,602.53 1802.65,597.44 1803.86,592.36 1805.06,587.27 1806.26,582.18 1807.45,577.09 1808.65,572.01 1809.84,566.92 1811.03,561.83 1812.21,556.74 1813.4,551.66 1814.58,546.57 1815.76,541.48 1816.94,536.39 1818.12,531.3 1819.3,526.21 1820.47,521.11 1821.65,516.02 1822.82,510.93 1823.99,505.83 1825.16,500.74 1826.33,495.64 1827.5,490.55 1828.67,485.45 1829.83,480.35 1831,475.25 1832.16,470.15 1833.32,465.05 1834.47,459.95 1835.63,454.85 1836.78,449.75 1837.92,444.64 1839.07,439.54 1840.21,434.43 1841.35,429.33 1842.49,424.22 1843.62,419.11 1844.75,414.01 1845.87,408.9 1847,403.79 1848.11,398.68 1849.23,393.57 1850.34,388.45 1851.44,383.34 1852.54,378.23 1853.64,373.11 1854.73,368 1855.82,362.88 1856.9,357.76 1857.98,352.64 1859.06,347.53 1860.13,342.41 1861.2,337.29 1862.26,332.16 1863.32,327.04 1864.37,321.92 1865.42,316.8 1866.47,311.67 1867.51,306.55 1868.55,301.42 1869.58,296.29 1870.61,291.17 1871.64,286.04 1872.66,280.91 1873.68,275.78 1874.69,270.65 1875.7,265.52 1876.71,260.39 1877.71,255.25 1878.71,250.12 1879.7,244.99 1880.69,239.85 1881.68,234.72 1882.67,229.58 1883.65,224.44 1884.62,219.3 1885.6,214.17 1886.57,209.03 1887.53,203.89 1888.49,198.75 1889.45,193.61 1890.41,188.46 1891.36,183.32 1892.32,178.18 1893.26,173.04 1894.21,167.89 1895.15,162.75 1896.09,157.6 1897.03,152.46 1897.97,147.31 1898.9,142.17 1899.84,137.02 1900.77,131.88 1901.7,126.73 1902.62,121.58 1903.55,116.43 1904.48,111.29 1905.4,106.14 1906.32,100.99 1907.24,95.84 1908.16,90.69 1909.08,85.54 1910,80.4 1910.92,75.25 1911.83,70.1 1912.75,64.95 1913.67,59.8 1914.58,54.65 1915.5,49.5" fill="none" stroke="#000000" stroke-width="8" stroke-linejoin="round"/>
<circle cx="317.5" cy="49.5" r="21.7" fill="#000000"/>
<circle cx="477.3" cy="280.9" r="21.7" fill="#000000"/>
<circle cx="637.1" cy="503.7" r="21.7" fill="#000000"/>
<circle cx="796.9" cy="740.4" r="21.7" fill="#000000"/>
<circle cx="956.7" cy="971.9" r="21.7" fill="#000000"/>
<circle cx="1116.5" cy="1166.2" r="21.7" fill="#000000"/>
<circle cx="1276.3" cy="1323.3" r="21.7" fill="#000000"/>
<circle cx="1436.1" cy="1350.9" r="21.7" fill="#000000"/>
<circle cx="1595.9" cy="1211.9" r="21.7" fill="#000000"/>
<circle cx="1755.7" cy="785.3" r="21.7" fill="#000000"/>
<circle cx="1787.66" cy="659.4" r="21.7" fill="#000000"/>
<circle cx="1819.62" cy="524.8" r="21.7" fill="#000000"/>
<circle cx="1851.58" cy="382.7" r="21.7" fill="#000000"/>
<circle cx="1883.54" cy="225" r="21.7" fill="#000000"/>
<circle cx="1915.5" cy="49.5" r="21.7" fill="#000000"/>
</g>
<g id="ci-R">
<polyline points="317.5,49.5 320.44,53.74 323.39,57.98 326.33,62.22 329.27,66.46 332.22,70.7 335.16,74.94 338.1,79.18 341.05,83.42 343.99,87.66 346.94,91.9 349.88,96.13 352.83,100.37 355.78,104.61 358.73,108.85 361.67,113.08 364.62,117.32 367.57,121.56 370.52,125.79 373.48,130.02 376.43,134.26 379.38,138.49 382.34,142.72 385.29,146.95 388.25,151.18 391.21,155.41 394.17,159.64 397.13,163.87 400.09,168.1 403.05,172.32 406.02,176.55 408.99,180.77 411.95,184.99 414.92,189.21 417.89,193.43 420.87,197.65 423.84,201.87 426.82,206.09 429.8,210.3 432.78,214.52 435.76,218.73 438.75,222.94 441.73,227.15 444.72,231.36 447.71,235.56 450.71,239.77 453.7,243.97 456.7,248.17 459.7,252.37 462.7,256.57 465.71,260.77 468.72,264.96 471.73,269.15 474.74,273.34 477.76,277.53 480.77,281.72 483.8,285.9 486.82,290.09 489.84,294.27 492.87,298.45 495.9,302.63 498.94,306.81 501.97,310.98 505.01,315.16 508.04,319.33 511.08,323.5 514.12,327.67 517.17,331.84 520.21,336.01 523.25,340.18 526.3,344.35 529.34,348.52 532.39,352.68 535.44,356.85 538.49,361.01 541.53,365.18 544.58,369.35 547.63,373.51 550.68,377.68 553.73,381.84 556.78,386.01 559.83,390.17 562.88,394.34 565.92,398.5 568.97,402.67 572.02,406.84 575.06,411 578.1,415.17 581.15,419.34 584.19,423.51 587.23,427.68 590.27,431.85 593.31,436.03 596.34,440.2 599.38,444.38 602.41,448.55 605.44,452.73 608.47,456.91 611.49,461.09 614.51,465.27 617.53,469.46 620.55,473.64 623.57,477.83 626.58,482.02 629.59,486.21 632.6,490.4 635.6,494.6 638.6,498.8 641.6,503 644.59,507.2 647.58,511.41 650.57,515.61 653.55,519.82 656.53,524.04 659.51,528.25 662.49,532.46 665.46,536.68 668.43,540.9 671.4,545.12 674.37,549.34 677.33,553.56 680.29,557.79 683.25,562.01 686.21,566.24 689.17,570.47 692.12,574.7 695.08,578.93 698.03,583.16 700.98,587.4 703.93,591.63 706.88,595.87 709.82,600.1 712.77,604.34 715.71,608.58 718.66,612.82 721.6,617.06 724.54,621.29 727.49,625.53 730.43,629.78 733.37,634.02 736.31,638.26 739.25,642.5 742.2,646.74 745.14,650.98 748.08,655.22 751.02,659.47 753.96,663.71 756.91,667.95 759.85,672.19 762.8,676.43 765.74,680.67 768.69,684.91 771.63,689.15 774.58,693.39 777.53,697.63 780.48,701.87 783.43,706.11 786.39,710.34 789.34,714.58 792.3,718.81 795.26,723.05 798.22,727.28 801.18,731.51 804.14,735.75 807.11,739.98 810.08,744.2 813.05,748.43 816.02,752.66 818.99,756.88 821.97,761.11 824.95,765.33 827.93,769.55 830.92,773.77 833.9,777.98 836.89,782.2 839.88,786.41 842.88,790.62 845.87,794.83 848.87,799.04 851.88,803.24 854.88,807.44 857.89,811.64 860.9,815.84 863.91,820.04 866.93,824.23 869.95,828.42 872.97,832.61 876,836.79 879.03,840.97 882.06,845.15 885.09,849.33 888.13,853.5 891.17,857.67 894.22,861.84 897.27,866.01 900.32,870.17 903.38,874.33 906.44,878.48 909.5,882.63 912.57,886.78 915.64,890.93 918.71,895.07 921.79,899.21 924.87,903.34 927.95,907.47 931.04,911.6 934.14,915.72 937.24,919.84 940.34,923.95 943.44,928.06 946.55,932.17 949.67,936.27 952.79,940.37 955.91,944.46 959.04,948.55 962.17,952.64 965.3,956.72 968.44,960.79 971.59,964.87 974.74,968.93 977.9,973 981.06,977.05 984.23,981.11 987.4,985.16 990.58,989.2 993.76,993.24 996.95,997.27 1000.15,1001.3 1003.36,1005.33 1006.57,1009.35 1009.78,1013.37 1013.01,1017.38 1016.24,1021.39 1019.48,1025.39 1022.72,1029.39 1025.97,1033.38 1029.24,1037.36 1032.5,1041.35 1035.78,1045.33 1039.07,1049.3 1042.36,1053.27 1045.66,1057.23 1048.97,1061.19 1052.29,1065.14 1055.62,1069.09 1058.95,1073.03 1062.3,1076.97 1065.65,1080.9 1069.02,1084.83 1072.39,1088.75 1075.78,1092.67 1079.17,1096.58 1082.57,1100.49 1085.99,1104.39 1089.41,1108.29 1092.85,1112.18 1096.29,1116.06 1099.75,1119.94 1103.22,1123.82 1106.7,1127.69 1110.19,1131.55 1113.69,1135.41 1117.2,1139.27 1120.73,1143.12 1124.26,1146.96 1127.81,1150.79 1131.38,1154.61 1134.96,1158.42 1138.55,1162.22 1142.16,1166 1145.79,1169.77 1149.43,1173.52 1153.09,1177.25 1156.77,1180.96 1160.47,1184.65 1164.19,1188.32 1167.92,1191.96 1171.68,1195.58 1175.46,1199.17 1179.26,1202.72 1183.09,1206.25 1186.94,1209.75 1190.81,1213.21 1194.71,1216.64 1198.63,1220.04 1202.58,1223.39 1206.56,1226.71 1210.56,1229.98 1214.6,1233.21 1218.66,1236.4 1222.75,1239.55 1226.87,1242.65 1231.02,1245.7 1235.2,1248.7 1239.41,1251.65 1243.66,1254.55 1247.94,1257.39 1252.25,1260.18 1256.6,1262.91 1260.98,1265.58 1265.4,1268.2 1269.86,1270.75 1274.35,1273.25 1278.88,1275.67 1283.45,1278.03 1288.06,1280.32 1292.7,1282.54 1297.39,1284.69 1302.12,1286.75 1306.88,1288.73 1311.69,1290.62 1316.54,1292.43 1321.43,1294.14 1326.36,1295.75 1331.33,1297.27 1336.35,1298.68 1341.41,1299.99 1346.51,1301.19 1351.66,1302.28 1356.84,1303.25 1362.06,1304.1 1367.3,1304.83 1372.56,1305.43 1377.83,1305.9 1383.1,1306.25 1388.36,1306.45 1393.62,1306.52 1398.85,1306.44 1404.06,1306.22 1409.24,1305.85 1414.37,1305.33 1419.46,1304.66 1424.49,1303.82 1429.46,1302.82 1434.36,1301.66 1439.18,1300.33 1443.92,1298.83 1448.58,1297.17 1453.17,1295.35 1457.68,1293.37 1462.12,1291.24 1466.49,1288.97 1470.78,1286.55 1475.01,1283.99 1479.17,1281.3 1483.26,1278.47 1487.29,1275.52 1491.26,1272.45 1495.16,1269.25 1499,1265.95 1502.79,1262.53 1506.51,1259 1510.18,1255.37 1513.79,1251.64 1517.35,1247.81 1520.86,1243.9 1524.32,1239.89 1527.73,1235.8 1531.09,1231.64 1534.4,1227.4 1537.67,1223.09 1540.9,1218.71 1544.08,1214.26 1547.23,1209.76 1550.33,1205.2 1553.4,1200.6 1556.43,1195.94 1559.42,1191.24 1562.38,1186.5 1565.31,1181.73 1568.21,1176.93 1571.08,1172.1 1573.92,1167.24 1576.73,1162.37 1579.52,1157.48 1582.29,1152.58 1585.03,1147.68 1587.76,1142.77 1590.46,1137.86 1593.14,1132.95 1595.81,1128.06 1598.47,1123.18 1601.11,1118.31 1603.73,1113.45 1606.34,1108.6 1608.93,1103.77 1611.51,1098.95 1614.08,1094.14 1616.63,1089.34 1619.16,1084.55 1621.68,1079.76 1624.18,1074.99 1626.67,1070.23 1629.15,1065.48 1631.61,1060.74 1634.05,1056 1636.48,1051.28 1638.9,1046.56 1641.3,1041.84 1643.68,1037.14 1646.05,1032.44 1648.4,1027.75 1650.74,1023.06 1653.07,1018.38 1655.38,1013.71 1657.68,1009.04 1659.96,1004.37 1662.22,999.71 1664.47,995.05 1666.71,990.4 1668.93,985.75 1671.14,981.1 1673.33,976.46 1675.5,971.82 1677.67,967.18 1679.81,962.54 1681.95,957.9 1684.06,953.26 1686.17,948.63 1688.25,943.99 1690.33,939.36 1692.38,934.72 1694.43,930.08 1696.46,925.44 1698.47,920.8 1700.47,916.16 1702.45,911.52 1704.42,906.87 1706.38,902.22 1708.32,897.57 1710.24,892.92 1712.15,888.26 1714.05,883.6 1715.93,878.93 1717.8,874.26 1719.65,869.58 1721.49,864.9 1723.31,860.21 1725.12,855.51 1726.91,850.81 1728.69,846.1 1730.45,841.39 1732.2,836.66 1733.93,831.93 1735.65,827.19 1737.36,822.45 1739.05,817.69 1740.72,812.92 1742.38,808.15 1744.03,803.36 1745.66,798.57 1747.28,793.76 1748.88,788.95 1750.47,784.12 1752.04,779.28 1753.6,774.43 1755.14,769.56 1756.67,764.69 1758.19,759.8 1759.69,754.9 1761.18,749.99 1762.65,745.07 1764.11,740.14 1765.56,735.19 1766.99,730.24 1768.41,725.28 1769.82,720.32 1771.22,715.34 1772.61,710.36 1773.98,705.38 1775.35,700.38 1776.7,695.38 1778.05,690.38 1779.38,685.38 1780.7,680.37 1782.02,675.35 1783.32,670.34 1784.62,665.32 1785.9,660.3 1787.18,655.29 1788.45,650.27 1789.71,645.25 1790.97,640.23 1792.22,635.21 1793.46,630.19 1794.69,625.18 1795.92,620.16 1797.14,615.14 1798.36,610.12 1799.57,605.1 1800.78,600.08 1801.98,595.06 1803.17,590.05 1804.37,585.03 1805.56,580.01 1806.74,574.99 1807.92,569.97 1809.1,564.95 1810.28,559.93 1811.45,554.91 1812.62,549.89 1813.79,544.87 1814.96,539.84 1816.13,534.82 1817.3,529.8 1818.46,524.78 1819.63,519.75 1820.8,514.73 1821.96,509.71 1823.13,504.68 1824.29,499.66 1825.46,494.63 1826.62,489.6 1827.79,484.58 1828.95,479.55 1830.11,474.52 1831.27,469.49 1832.43,464.46 1833.59,459.43 1834.74,454.4 1835.9,449.37 1837.05,444.34 1838.2,439.3 1839.35,434.27 1840.49,429.24 1841.63,424.2 1842.77,419.17 1843.91,414.13 1845.04,409.09 1846.17,404.05 1847.3,399.02 1848.42,393.98 1849.54,388.94 1850.65,383.9 1851.77,378.85 1852.87,373.81 1853.98,368.77 1855.07,363.72 1856.17,358.68 1857.26,353.63 1858.35,348.59 1859.43,343.54 1860.5,338.49 1861.58,333.44 1862.65,328.39 1863.71,323.34 1864.77,318.29 1865.83,313.24 1866.88,308.19 1867.93,303.13 1868.97,298.08 1870.01,293.02 1871.04,287.96 1872.07,282.91 1873.1,277.85 1874.12,272.79 1875.14,267.73 1876.15,262.67 1877.16,257.61 1878.16,252.55 1879.16,247.48 1880.15,242.42 1881.15,237.35 1882.13,232.29 1883.11,227.22 1884.09,222.15 1885.06,217.08 1886.03,212.01 1886.99,206.94 1887.95,201.87 1888.91,196.8 1889.86,191.73 1890.81,186.65 1891.75,181.58 1892.69,176.51 1893.63,171.43 1894.57,166.36 1895.5,161.28 1896.43,156.2 1897.35,151.12 1898.28,146.05 1899.2,140.97 1900.12,135.89 1901.03,130.81 1901.95,125.73 1902.86,120.65 1903.77,115.57 1904.68,110.49 1905.59,105.41 1906.49,100.32 1907.4,95.24 1908.3,90.16 1909.2,85.08 1910.1,80 1911,74.91 1911.9,69.83 1912.8,64.75 1913.7,59.67 1914.6,54.58 1915.5,49.5" fill="none" stroke="#ff0000" stroke-width="8" stroke-linejoin="round"/>
<circle cx="317.5" cy="49.5" r="21.7" fill="#ff0000"/>
<circle cx="477.3" cy="276.9" r="21.7" fill="#ff0000"/>
<circle cx="637.1" cy="496.7" r="21.7" fill="#ff0000"/>
<circle cx="796.9" cy="725.4" r="21.7" fill="#ff0000"/>
<circle cx="956.7" cy="949.5" r="21.7" fill="#ff0000"/>
<circle cx="1116.5" cy="1142.5" r="21.7" fill="#ff0000"/>
<circle cx="1276.3" cy="1296.3" r="21.7" fill="#ff0000"/>
<circle cx="1436.1" cy="1327.2" r="21.7" fill="#ff0000"/>
<circle cx="1595.9" cy="1186.9" r="21.7" fill="#ff0000"/>
<circle cx="1755.7" cy="774.8" r="21.7" fill="#ff0000"/>
<circle cx="1787.66" cy="653.4" r="21.7" fill="#ff0000"/>
<circle cx="1819.62" cy="519.8" r="21.7" fill="#ff0000"/>
<circle cx="1851.58" cy="379.7" r="21.7" fill="#ff0000"/>
<circle cx="1883.54" cy="225" r="21.7" fill="#ff0000"/>
<circle cx="1915.5" cy="49.5" r="21.7" fill="#ff0000"/>
</g>
<g id="ci-B">
<polyline points="317.5,49.5 320.46,53.62 323.41,57.75 326.37,61.87 329.32,65.99 332.28,70.12 335.23,74.24 338.19,78.36 341.14,82.48 344.1,86.61 347.06,90.73 350.02,94.85 352.97,98.97 355.93,103.09 358.89,107.21 361.85,111.33 364.81,115.45 367.77,119.57 370.74,123.69 373.7,127.81 376.66,131.92 379.63,136.04 382.59,140.16 385.56,144.27 388.53,148.38 391.5,152.5 394.47,156.61 397.44,160.72 400.41,164.83 403.39,168.94 406.36,173.05 409.34,177.16 412.32,181.26 415.3,185.37 418.28,189.47 421.26,193.58 424.25,197.68 427.24,201.78 430.22,205.88 433.21,209.98 436.21,214.07 439.2,218.17 442.2,222.26 445.19,226.36 448.19,230.45 451.2,234.54 454.2,238.62 457.21,242.71 460.22,246.8 463.23,250.88 466.24,254.96 469.26,259.04 472.27,263.12 475.29,267.19 478.32,271.27 481.34,275.34 484.37,279.41 487.4,283.48 490.43,287.55 493.47,291.62 496.5,295.68 499.54,299.75 502.58,303.81 505.62,307.87 508.66,311.93 511.7,315.99 514.75,320.05 517.79,324.11 520.84,328.16 523.89,332.22 526.93,336.28 529.98,340.33 533.03,344.39 536.08,348.45 539.13,352.5 542.17,356.56 545.22,360.62 548.27,364.67 551.32,368.73 554.36,372.79 557.41,376.84 560.45,380.9 563.5,384.96 566.54,389.02 569.58,393.08 572.62,397.14 575.66,401.21 578.69,405.27 581.73,409.34 584.76,413.4 587.79,417.47 590.82,421.54 593.84,425.61 596.87,429.68 599.89,433.76 602.91,437.83 605.92,441.91 608.94,445.99 611.94,450.08 614.95,454.16 617.95,458.25 620.95,462.34 623.95,466.43 626.94,470.53 629.93,474.63 632.91,478.73 635.89,482.83 638.87,486.94 641.84,491.05 644.8,495.16 647.77,499.28 650.72,503.39 653.68,507.52 656.63,511.64 659.58,515.77 662.52,519.89 665.47,524.03 668.4,528.16 671.34,532.29 674.27,536.43 677.2,540.57 680.13,544.71 683.05,548.86 685.98,553 688.9,557.15 691.81,561.29 694.73,565.44 697.64,569.6 700.56,573.75 703.47,577.9 706.38,582.06 709.29,586.21 712.19,590.37 715.1,594.52 718,598.68 720.91,602.84 723.81,607 726.72,611.16 729.62,615.32 732.52,619.48 735.42,623.64 738.33,627.8 741.23,631.97 744.13,636.13 747.03,640.29 749.94,644.45 752.84,648.61 755.75,652.77 758.65,656.93 761.56,661.09 764.47,665.25 767.38,669.41 770.29,673.56 773.2,677.72 776.11,681.88 779.03,686.03 781.95,690.18 784.87,694.34 787.79,698.49 790.71,702.64 793.64,706.79 796.57,710.93 799.5,715.08 802.44,719.22 805.37,723.36 808.31,727.5 811.26,731.64 814.2,735.78 817.15,739.91 820.1,744.04 823.06,748.17 826.02,752.3 828.98,756.42 831.94,760.55 834.91,764.67 837.88,768.79 840.86,772.9 843.83,777.02 846.82,781.13 849.8,785.24 852.79,789.34 855.78,793.44 858.77,797.54 861.77,801.64 864.77,805.74 867.78,809.83 870.79,813.91 873.8,818 876.82,822.08 879.84,826.16 882.86,830.24 885.89,834.31 888.92,838.38 891.96,842.44 895,846.5 898.04,850.56 901.09,854.62 904.15,858.67 907.2,862.71 910.26,866.76 913.33,870.8 916.4,874.83 919.47,878.86 922.55,882.89 925.63,886.91 928.72,890.93 931.81,894.95 934.91,898.96 938.01,902.97 941.11,906.97 944.22,910.96 947.34,914.96 950.45,918.95 953.58,922.93 956.71,926.91 959.84,930.88 962.98,934.85 966.12,938.82 969.27,942.78 972.43,946.73 975.59,950.68 978.75,954.63 981.92,958.57 985.1,962.5 988.29,966.43 991.48,970.36 994.67,974.28 997.88,978.19 1001.09,982.1 1004.3,986.01 1007.53,989.9 1010.76,993.8 1014,997.69 1017.24,1001.57 1020.5,1005.45 1023.76,1009.32 1027.03,1013.18 1030.31,1017.04 1033.59,1020.9 1036.89,1024.75 1040.19,1028.59 1043.5,1032.43 1046.82,1036.26 1050.15,1040.09 1053.49,1043.91 1056.84,1047.73 1060.19,1051.54 1063.56,1055.34 1066.94,1059.14 1070.32,1062.93 1073.72,1066.71 1077.13,1070.49 1080.54,1074.27 1083.97,1078.03 1087.41,1081.79 1090.86,1085.55 1094.32,1089.3 1097.79,1093.04 1101.27,1096.78 1104.76,1100.5 1108.27,1104.23 1111.78,1107.94 1115.31,1111.66 1118.85,1115.36 1122.4,1119.06 1125.97,1122.74 1129.55,1126.42 1133.14,1130.09 1136.75,1133.74 1140.37,1137.38 1144.01,1141 1147.67,1144.61 1151.34,1148.19 1155.03,1151.76 1158.74,1155.31 1162.47,1158.83 1166.21,1162.33 1169.98,1165.81 1173.77,1169.25 1177.57,1172.67 1181.4,1176.06 1185.25,1179.42 1189.13,1182.75 1193.03,1186.04 1196.95,1189.3 1200.89,1192.53 1204.87,1195.71 1208.86,1198.86 1212.89,1201.96 1216.94,1205.02 1221.01,1208.04 1225.12,1211.02 1229.25,1213.95 1233.42,1216.83 1237.61,1219.67 1241.83,1222.45 1246.09,1225.18 1250.37,1227.86 1254.69,1230.48 1259.04,1233.05 1263.42,1235.56 1267.84,1238.02 1272.29,1240.41 1276.78,1242.75 1281.3,1245.02 1285.86,1247.22 1290.45,1249.35 1295.08,1251.42 1299.75,1253.41 1304.45,1255.32 1309.18,1257.14 1313.96,1258.89 1318.77,1260.54 1323.62,1262.11 1328.5,1263.58 1333.42,1264.96 1338.38,1266.23 1343.37,1267.4 1348.4,1268.47 1353.47,1269.42 1358.57,1270.27 1363.69,1271 1368.83,1271.61 1373.99,1272.1 1379.15,1272.47 1384.32,1272.71 1389.48,1272.83 1394.63,1272.81 1399.76,1272.67 1404.87,1272.38 1409.95,1271.96 1415,1271.39 1420,1270.68 1424.96,1269.83 1429.86,1268.82 1434.71,1267.66 1439.49,1266.35 1444.21,1264.89 1448.86,1263.27 1453.45,1261.51 1457.97,1259.61 1462.44,1257.56 1466.84,1255.39 1471.18,1253.08 1475.46,1250.64 1479.69,1248.08 1483.85,1245.4 1487.96,1242.61 1492.02,1239.69 1496.02,1236.67 1499.96,1233.55 1503.86,1230.32 1507.7,1226.99 1511.49,1223.57 1515.23,1220.06 1518.93,1216.45 1522.57,1212.77 1526.17,1209 1529.72,1205.16 1533.23,1201.24 1536.69,1197.25 1540.11,1193.2 1543.49,1189.08 1546.83,1184.91 1550.13,1180.68 1553.38,1176.4 1556.6,1172.07 1559.78,1167.69 1562.93,1163.28 1566.04,1158.83 1569.11,1154.34 1572.15,1149.83 1575.16,1145.29 1578.14,1140.72 1581.08,1136.14 1584,1131.54 1586.88,1126.93 1589.74,1122.31 1592.57,1117.69 1595.38,1113.06 1598.16,1108.44 1600.91,1103.82 1603.65,1099.21 1606.35,1094.6 1609.03,1089.99 1611.69,1085.38 1614.33,1080.78 1616.94,1076.17 1619.53,1071.57 1622.1,1066.98 1624.64,1062.38 1627.16,1057.79 1629.66,1053.2 1632.14,1048.61 1634.59,1044.02 1637.03,1039.43 1639.44,1034.84 1641.83,1030.26 1644.2,1025.67 1646.55,1021.09 1648.89,1016.5 1651.2,1011.92 1653.49,1007.34 1655.76,1002.76 1658.01,998.17 1660.25,993.59 1662.46,989.01 1664.66,984.43 1666.84,979.84 1669,975.26 1671.14,970.67 1673.27,966.09 1675.38,961.5 1677.47,956.91 1679.54,952.32 1681.6,947.73 1683.64,943.13 1685.67,938.54 1687.68,933.94 1689.68,929.34 1691.66,924.74 1693.62,920.14 1695.57,915.53 1697.51,910.92 1699.43,906.31 1701.33,901.69 1703.23,897.08 1705.11,892.45 1706.97,887.83 1708.83,883.2 1710.67,878.57 1712.5,873.93 1714.31,869.29 1716.12,864.65 1717.91,860 1719.69,855.35 1721.46,850.69 1723.22,846.03 1724.96,841.36 1726.7,836.69 1728.43,832.02 1730.14,827.33 1731.85,822.65 1733.55,817.95 1735.23,813.26 1736.91,808.55 1738.58,803.84 1740.24,799.13 1741.9,794.4 1743.54,789.67 1745.18,784.94 1746.8,780.2 1748.43,775.45 1750.04,770.69 1751.65,765.93 1753.25,761.16 1754.84,756.38 1756.43,751.6 1758.01,746.81 1759.59,742.01 1761.15,737.2 1762.71,732.39 1764.26,727.57 1765.81,722.74 1767.34,717.91 1768.87,713.07 1770.38,708.22 1771.88,703.37 1773.37,698.52 1774.85,693.66 1776.32,688.79 1777.78,683.92 1779.22,679.04 1780.65,674.16 1782.07,669.28 1783.47,664.39 1784.85,659.5 1786.22,654.6 1787.58,649.71 1788.91,644.8 1790.24,639.9 1791.54,634.99 1792.83,630.08 1794.11,625.17 1795.38,620.25 1796.63,615.33 1797.87,610.41 1799.09,605.49 1800.31,600.56 1801.52,595.63 1802.71,590.71 1803.9,585.77 1805.08,580.84 1806.25,575.91 1807.41,570.97 1808.57,566.03 1809.72,561.09 1810.86,556.15 1812,551.21 1813.14,546.27 1814.27,541.33 1815.4,536.38 1816.52,531.44 1817.65,526.49 1818.77,521.55 1819.89,516.6 1821.01,511.66 1822.13,506.71 1823.26,501.76 1824.38,496.82 1825.5,491.87 1826.62,486.92 1827.74,481.98 1828.86,477.03 1829.98,472.08 1831.09,467.13 1832.21,462.18 1833.33,457.24 1834.44,452.29 1835.56,447.34 1836.67,442.39 1837.79,437.44 1838.9,432.49 1840.01,427.54 1841.12,422.59 1842.23,417.64 1843.34,412.69 1844.45,407.74 1845.55,402.78 1846.66,397.83 1847.76,392.88 1848.86,387.93 1849.96,382.98 1851.06,378.02 1852.16,373.07 1853.26,368.12 1854.36,363.16 1855.45,358.21 1856.54,353.25 1857.63,348.3 1858.72,343.34 1859.8,338.38 1860.88,333.43 1861.96,328.47 1863.04,323.51 1864.11,318.55 1865.18,313.6 1866.25,308.64 1867.31,303.67 1868.37,298.71 1869.43,293.75 1870.48,288.79 1871.52,283.82 1872.57,278.86 1873.6,273.89 1874.64,268.93 1875.67,263.96 1876.69,258.99 1877.71,254.02 1878.72,249.05 1879.73,244.08 1880.73,239.11 1881.73,234.13 1882.72,229.16 1883.7,224.18 1884.68,219.21 1885.65,214.23 1886.62,209.25 1887.58,204.27 1888.53,199.29 1889.48,194.3 1890.43,189.32 1891.37,184.33 1892.3,179.35 1893.23,174.36 1894.16,169.37 1895.08,164.38 1895.99,159.4 1896.91,154.41 1897.82,149.41 1898.72,144.42 1899.63,139.43 1900.53,134.44 1901.42,129.45 1902.32,124.45 1903.21,119.46 1904.1,114.46 1904.98,109.47 1905.87,104.47 1906.75,99.47 1907.63,94.48 1908.51,89.48 1909.38,84.48 1910.26,79.49 1911.13,74.49 1912.01,69.49 1912.88,64.49 1913.76,59.5 1914.63,54.5 1915.5,49.5" fill="none" stroke="#0000ff" stroke-width="8" stroke-linejoin="round"/>
<circle cx="317.5" cy="49.5" r="21.7" fill="#0000ff"/>
<circle cx="477.3" cy="269.9" r="21.7" fill="#0000ff"/>
<circle cx="637.1" cy="484.5" r="21.7" fill="#0000ff"/>
<circle cx="796.9" cy="711.4" r="21.7" fill="#0000ff"/>
<circle cx="956.7" cy="930.9" r="21.7" fill="#0000ff"/>
<circle cx="1116.5" cy="1116.9" r="21.7" fill="#0000ff"/>
<circle cx="1276.3" cy="1262.5" r="21.7" fill="#0000ff"/>
<circle cx="1436.1" cy="1293.3" r="21.7" fill="#0000ff"/>
<circle cx="1595.9" cy="1163.2" r="21.7" fill="#0000ff"/>
<circle cx="1755.7" cy="760.8" r="21.7" fill="#0000ff"/>
<circle cx="1787.66" cy="649.4" r="21.7" fill="#0000ff"/>
<circle cx="1819.62" cy="517.8" r="21.7" fill="#0000ff"/>
<circle cx="1851.58" cy="375.7" r="21.7" fill="#0000ff"/>
<circle cx="1883.54" cy="225" r="21.7" fill="#0000ff"/>
<circle cx="1915.5" cy="49.5" r="21.7" fill="#0000ff"/>
</g>
<g id="ci-G">
<polyline points="317.5,49.5 320.48,53.51 323.45,57.53 326.43,61.54 329.4,65.56 332.38,69.57 335.36,73.58 338.33,77.6 341.31,81.61 344.29,85.62 347.27,89.64 350.25,93.65 353.22,97.66 356.2,101.67 359.18,105.68 362.16,109.69 365.14,113.7 368.13,117.71 371.11,121.72 374.09,125.73 377.07,129.74 380.06,133.75 383.04,137.76 386.03,141.76 389.02,145.77 392.01,149.77 395,153.78 397.99,157.78 400.98,161.78 403.97,165.79 406.96,169.79 409.96,173.79 412.95,177.79 415.95,181.78 418.95,185.78 421.95,189.78 424.95,193.77 427.96,197.77 430.96,201.76 433.97,205.75 436.97,209.74 439.98,213.73 442.99,217.72 446.01,221.71 449.02,225.69 452.04,229.68 455.05,233.66 458.07,237.64 461.1,241.62 464.12,245.6 467.14,249.58 470.17,253.56 473.2,257.53 476.23,261.5 479.27,265.48 482.3,269.45 485.34,273.41 488.38,277.38 491.42,281.35 494.47,285.31 497.51,289.27 500.56,293.24 503.6,297.2 506.65,301.16 509.7,305.12 512.75,309.08 515.8,313.04 518.86,316.99 521.91,320.95 524.96,324.91 528.02,328.87 531.07,332.82 534.12,336.78 537.18,340.74 540.23,344.69 543.28,348.65 546.34,352.61 549.39,356.56 552.44,360.52 555.49,364.48 558.54,368.44 561.59,372.4 564.64,376.36 567.69,380.32 570.73,384.28 573.78,388.24 576.82,392.2 579.86,396.17 582.9,400.14 585.94,404.1 588.98,408.07 592.01,412.04 595.04,416.01 598.07,419.99 601.1,423.96 604.12,427.94 607.15,431.92 610.16,435.9 613.18,439.88 616.19,443.86 619.2,447.85 622.21,451.84 625.21,455.83 628.21,459.83 631.21,463.82 634.2,467.82 637.19,471.82 640.18,475.83 643.16,479.84 646.14,483.85 649.11,487.86 652.08,491.87 655.05,495.89 658.01,499.91 660.97,503.93 663.93,507.96 666.88,511.99 669.83,516.02 672.78,520.05 675.73,524.08 678.67,528.11 681.61,532.15 684.55,536.19 687.49,540.23 690.42,544.27 693.35,548.32 696.28,552.36 699.21,556.41 702.14,560.46 705.06,564.51 707.99,568.56 710.91,572.61 713.83,576.67 716.75,580.72 719.66,584.78 722.58,588.83 725.5,592.89 728.41,596.95 731.32,601.01 734.24,605.07 737.15,609.13 740.06,613.19 742.98,617.25 745.89,621.31 748.8,625.38 751.71,629.44 754.62,633.5 757.53,637.57 760.45,641.63 763.36,645.69 766.27,649.76 769.18,653.82 772.1,657.88 775.01,661.95 777.93,666.01 780.85,670.07 783.76,674.14 786.68,678.2 789.6,682.26 792.52,686.32 795.45,690.38 798.37,694.44 801.3,698.5 804.23,702.56 807.16,706.62 810.09,710.67 813.02,714.73 815.96,718.78 818.9,722.83 821.84,726.88 824.78,730.93 827.73,734.98 830.68,739.03 833.63,743.07 836.58,747.11 839.54,751.15 842.5,755.18 845.46,759.22 848.43,763.25 851.4,767.28 854.37,771.3 857.34,775.33 860.32,779.35 863.31,783.36 866.3,787.37 869.29,791.38 872.28,795.39 875.28,799.39 878.28,803.39 881.29,807.39 884.3,811.38 887.32,815.36 890.34,819.35 893.37,823.32 896.4,827.3 899.43,831.27 902.47,835.23 905.52,839.19 908.57,843.15 911.62,847.1 914.68,851.04 917.75,854.98 920.82,858.91 923.9,862.84 926.98,866.76 930.07,870.68 933.16,874.59 936.26,878.5 939.37,882.4 942.48,886.29 945.6,890.18 948.72,894.06 951.85,897.93 954.99,901.8 958.13,905.66 961.28,909.51 964.44,913.36 967.61,917.2 970.78,921.03 973.95,924.86 977.14,928.68 980.33,932.5 983.53,936.31 986.73,940.11 989.94,943.91 993.16,947.71 996.38,951.49 999.61,955.28 1002.85,959.06 1006.09,962.83 1009.34,966.6 1012.6,970.36 1015.86,974.12 1019.13,977.88 1022.41,981.63 1025.69,985.38 1028.98,989.12 1032.28,992.86 1035.58,996.6 1038.89,1000.33 1042.21,1004.06 1045.53,1007.78 1048.86,1011.51 1052.19,1015.23 1055.54,1018.95 1058.89,1022.66 1062.24,1026.37 1065.6,1030.08 1068.97,1033.79 1072.35,1037.5 1075.73,1041.2 1079.12,1044.9 1082.51,1048.6 1085.91,1052.3 1089.32,1056 1092.74,1059.69 1096.16,1063.39 1099.58,1067.08 1103.02,1070.78 1106.46,1074.47 1109.91,1078.16 1113.36,1081.85 1116.82,1085.54 1120.29,1089.23 1123.76,1092.92 1127.24,1096.61 1130.74,1100.28 1134.24,1103.96 1137.75,1107.62 1141.27,1111.27 1144.81,1114.91 1148.36,1118.54 1151.93,1122.15 1155.5,1125.75 1159.1,1129.32 1162.71,1132.88 1166.34,1136.41 1169.99,1139.92 1173.65,1143.4 1177.34,1146.85 1181.04,1150.28 1184.77,1153.67 1188.52,1157.04 1192.3,1160.36 1196.1,1163.66 1199.92,1166.91 1203.77,1170.12 1207.65,1173.3 1211.55,1176.43 1215.48,1179.52 1219.44,1182.56 1223.43,1185.55 1227.45,1188.49 1231.51,1191.39 1235.59,1194.23 1239.71,1197.01 1243.86,1199.74 1248.05,1202.41 1252.28,1205.02 1256.54,1207.57 1260.83,1210.06 1265.17,1212.48 1269.55,1214.84 1273.96,1217.12 1278.42,1219.34 1282.91,1221.49 1287.45,1223.56 1292.03,1225.55 1296.64,1227.47 1301.3,1229.3 1305.99,1231.05 1310.71,1232.71 1315.47,1234.28 1320.27,1235.75 1325.1,1237.14 1329.96,1238.42 1334.86,1239.61 1339.79,1240.69 1344.74,1241.66 1349.73,1242.53 1354.75,1243.29 1359.79,1243.93 1364.84,1244.47 1369.91,1244.88 1374.99,1245.18 1380.07,1245.36 1385.15,1245.42 1390.22,1245.36 1395.28,1245.17 1400.32,1244.86 1405.34,1244.42 1410.33,1243.85 1415.28,1243.15 1420.2,1242.31 1425.08,1241.34 1429.9,1240.24 1434.68,1239 1439.4,1237.62 1444.05,1236.1 1448.65,1234.45 1453.19,1232.66 1457.68,1230.75 1462.1,1228.71 1466.48,1226.55 1470.79,1224.27 1475.06,1221.88 1479.27,1219.37 1483.42,1216.76 1487.53,1214.04 1491.58,1211.21 1495.59,1208.29 1499.54,1205.27 1503.45,1202.16 1507.31,1198.95 1511.12,1195.66 1514.89,1192.29 1518.61,1188.83 1522.28,1185.3 1525.91,1181.7 1529.5,1178.02 1533.05,1174.28 1536.55,1170.47 1540.02,1166.6 1543.44,1162.67 1546.82,1158.69 1550.17,1154.66 1553.47,1150.57 1556.74,1146.44 1559.98,1142.27 1563.17,1138.07 1566.34,1133.82 1569.47,1129.54 1572.56,1125.23 1575.62,1120.9 1578.66,1116.54 1581.66,1112.17 1584.63,1107.78 1587.57,1103.37 1590.48,1098.95 1593.36,1094.53 1596.22,1090.1 1599.05,1085.67 1601.86,1081.24 1604.64,1076.81 1607.39,1072.37 1610.12,1067.94 1612.82,1063.5 1615.5,1059.07 1618.15,1054.63 1620.78,1050.19 1623.38,1045.74 1625.96,1041.3 1628.52,1036.85 1631.05,1032.41 1633.57,1027.96 1636.05,1023.5 1638.52,1019.05 1640.96,1014.59 1643.39,1010.13 1645.79,1005.67 1648.17,1001.21 1650.52,996.74 1652.86,992.28 1655.18,987.8 1657.47,983.33 1659.75,978.85 1662.01,974.38 1664.24,969.89 1666.46,965.41 1668.66,960.92 1670.84,956.43 1673,951.94 1675.14,947.44 1677.27,942.94 1679.38,938.43 1681.47,933.93 1683.54,929.42 1685.6,924.9 1687.64,920.38 1689.66,915.86 1691.67,911.34 1693.66,906.81 1695.64,902.27 1697.6,897.74 1699.55,893.2 1701.48,888.65 1703.39,884.1 1705.3,879.55 1707.19,874.99 1709.06,870.43 1710.92,865.86 1712.77,861.29 1714.61,856.72 1716.43,852.14 1718.24,847.55 1720.04,842.96 1721.83,838.37 1723.6,833.77 1725.37,829.16 1727.12,824.55 1728.86,819.94 1730.6,815.32 1732.32,810.7 1734.03,806.07 1735.73,801.43 1737.43,796.79 1739.11,792.14 1740.79,787.49 1742.45,782.83 1744.11,778.17 1745.76,773.5 1747.4,768.83 1749.04,764.15 1750.67,759.46 1752.29,754.77 1753.9,750.07 1755.51,745.36 1757.11,740.65 1758.7,735.93 1760.29,731.21 1761.87,726.48 1763.44,721.75 1765.01,717.01 1766.56,712.26 1768.11,707.51 1769.64,702.75 1771.17,697.99 1772.68,693.22 1774.18,688.45 1775.68,683.67 1777.15,678.89 1778.62,674.11 1780.07,669.32 1781.51,664.52 1782.94,659.72 1784.35,654.92 1785.74,650.11 1787.12,645.3 1788.48,640.49 1789.83,635.67 1791.16,630.85 1792.48,626.03 1793.78,621.2 1795.07,616.37 1796.34,611.53 1797.6,606.7 1798.85,601.86 1800.08,597.01 1801.31,592.17 1802.52,587.32 1803.72,582.47 1804.92,577.62 1806.1,572.76 1807.27,567.91 1808.44,563.05 1809.59,558.19 1810.74,553.33 1811.89,548.46 1813.02,543.6 1814.15,538.73 1815.27,533.86 1816.39,528.99 1817.5,524.12 1818.61,519.25 1819.72,514.38 1820.82,509.51 1821.91,504.63 1823.01,499.76 1824.1,494.88 1825.19,490 1826.28,485.13 1827.37,480.25 1828.45,475.37 1829.53,470.49 1830.61,465.62 1831.69,460.74 1832.77,455.86 1833.84,450.98 1834.92,446.1 1835.99,441.22 1837.07,436.34 1838.14,431.46 1839.22,426.58 1840.29,421.7 1841.37,416.82 1842.44,411.94 1843.52,407.05 1844.59,402.17 1845.67,397.3 1846.75,392.42 1847.83,387.54 1848.92,382.66 1850,377.78 1851.09,372.9 1852.18,368.02 1853.27,363.15 1854.36,358.27 1855.46,353.39 1856.55,348.52 1857.65,343.64 1858.75,338.77 1859.85,333.89 1860.94,329.01 1862.04,324.14 1863.13,319.26 1864.23,314.39 1865.32,309.51 1866.41,304.63 1867.49,299.75 1868.58,294.88 1869.66,290 1870.74,285.12 1871.81,280.24 1872.88,275.36 1873.94,270.47 1875,265.59 1876.05,260.71 1877.1,255.82 1878.14,250.93 1879.18,246.04 1880.2,241.15 1881.22,236.26 1882.23,231.37 1883.24,226.48 1884.23,221.58 1885.22,216.68 1886.2,211.78 1887.17,206.88 1888.14,201.98 1889.09,197.08 1890.04,192.17 1890.98,187.26 1891.92,182.36 1892.85,177.45 1893.77,172.54 1894.68,167.62 1895.6,162.71 1896.5,157.8 1897.4,152.88 1898.29,147.97 1899.18,143.05 1900.07,138.13 1900.95,133.21 1901.83,128.29 1902.7,123.37 1903.57,118.45 1904.44,113.53 1905.3,108.6 1906.16,103.68 1907.02,98.76 1907.87,93.83 1908.73,88.91 1909.58,83.98 1910.43,79.06 1911.27,74.13 1912.12,69.21 1912.97,64.28 1913.81,59.35 1914.66,54.43 1915.5,49.5" fill="none" stroke="#008000" stroke-width="8" stroke-linejoin="round"/>
<circle cx="317.5" cy="49.5" r="21.7" fill="#008000"/>
<circle cx="477.3" cy="262.9" r="21.7" fill="#008000"/>
<circle cx="637.1" cy="471.7" r="21.7" fill="#008000"/>
<circle cx="796.9" cy="692.4" r="21.7" fill="#008000"/>
<circle cx="956.7" cy="907.9" r="21.7" fill="#008000"/>
<circle cx="1116.5" cy="1089.2" r="21.7" fill="#008000"/>
<circle cx="1276.3" cy="1237.3" r="21.7" fill="#008000"/>
<circle cx="1436.1" cy="1261.6" r="21.7" fill="#008000"/>
<circle cx="1595.9" cy="1134.6" r="21.7" fill="#008000"/>
<circle cx="1755.7" cy="751.8" r="21.7" fill="#008000"/>
<circle cx="1787.66" cy="643.4" r="21.7" fill="#008000"/>
<circle cx="1819.62" cy="514.8" r="21.7" fill="#008000"/>
<circle cx="1851.58" cy="370.7" r="21.7" fill="#008000"/>
<circle cx="1883.54" cy="225" r="21.7" fill="#008000"/>
<circle cx="1915.5" cy="49.5" r="21.7" fill="#008000"/>
</g>
<g id="ut-K">
<polyline points="317.5,49.5 320.16,55.13 322.82,60.77 325.48,66.4 328.14,72.03 330.79,77.67 333.45,83.3 336.11,88.93 338.77,94.57 341.43,100.2 344.09,105.83 346.75,111.46 349.41,117.1 352.07,122.73 354.72,128.36 357.38,134 360.04,139.63 362.7,145.26 365.36,150.9 368.02,156.53 370.68,162.16 373.34,167.79 376,173.43 378.66,179.06 381.32,184.69 383.97,190.33 386.63,195.96 389.29,201.59 391.95,207.22 394.61,212.86 397.27,218.49 399.93,224.12 402.59,229.75 405.25,235.39 407.91,241.02 410.57,246.65 413.23,252.28 415.89,257.92 418.55,263.55 421.21,269.18 423.87,274.81 426.53,280.44 429.19,286.08 431.85,291.71 434.51,297.34 437.17,302.97 439.83,308.6 442.49,314.24 445.15,319.87 447.81,325.5 450.47,331.13 453.13,336.76 455.79,342.39 458.46,348.03 461.12,353.66 463.78,359.29 466.44,364.92 469.1,370.55 471.76,376.18 474.42,381.81 477.08,387.44 479.75,393.07 482.41,398.71 485.07,404.34 487.73,409.97 490.39,415.6 493.06,421.23 495.72,426.86 498.38,432.49 501.04,438.12 503.71,443.75 506.37,449.38 509.03,455.01 511.7,460.64 514.36,466.27 517.03,471.9 519.69,477.53 522.36,483.15 525.02,488.78 527.69,494.41 530.36,500.04 533.02,505.67 535.69,511.3 538.36,516.93 541.03,522.55 543.69,528.18 546.36,533.81 549.03,539.44 551.7,545.06 554.37,550.69 557.05,556.32 559.72,561.94 562.39,567.57 565.06,573.19 567.74,578.82 570.41,584.44 573.09,590.07 575.76,595.69 578.44,601.32 581.12,606.94 583.79,612.57 586.47,618.19 589.15,623.81 591.83,629.44 594.51,635.06 597.19,640.68 599.88,646.31 602.56,651.93 605.24,657.55 607.93,663.17 610.61,668.79 613.3,674.41 615.99,680.03 618.68,685.65 621.37,691.27 624.06,696.89 626.75,702.51 629.44,708.13 632.13,713.75 634.83,719.37 637.52,724.98 640.22,730.6 642.92,736.22 645.62,741.83 648.32,747.45 651.02,753.06 653.72,758.68 656.43,764.29 659.14,769.9 661.85,775.51 664.56,781.12 667.27,786.73 669.99,792.34 672.71,797.95 675.43,803.55 678.15,809.16 680.88,814.76 683.61,820.36 686.35,825.96 689.08,831.56 691.82,837.16 694.57,842.75 697.31,848.34 700.07,853.93 702.82,859.52 705.58,865.11 708.34,870.69 711.11,876.27 713.88,881.85 716.66,887.43 719.44,893 722.23,898.58 725.02,904.15 727.82,909.71 730.62,915.28 733.42,920.84 736.24,926.4 739.05,931.95 741.88,937.5 744.7,943.05 747.54,948.6 750.38,954.14 753.23,959.68 756.08,965.22 758.94,970.75 761.8,976.28 764.68,981.8 767.56,987.32 770.44,992.84 773.34,998.36 776.24,1003.87 779.14,1009.37 782.06,1014.87 784.98,1020.37 787.91,1025.86 790.85,1031.35 793.8,1036.84 796.75,1042.32 799.71,1047.8 802.68,1053.27 805.66,1058.74 808.64,1064.2 811.64,1069.66 814.64,1075.11 817.65,1080.56 820.66,1086.01 823.68,1091.45 826.71,1096.89 829.75,1102.32 832.79,1107.76 835.85,1113.18 838.9,1118.61 841.97,1124.03 845.04,1129.44 848.12,1134.86 851.2,1140.27 854.29,1145.67 857.38,1151.08 860.49,1156.48 863.59,1161.87 866.71,1167.27 869.83,1172.66 872.95,1178.04 876.08,1183.43 879.22,1188.81 882.36,1194.19 885.5,1199.57 888.65,1204.94 891.81,1210.31 894.97,1215.68 898.14,1221.05 901.31,1226.41 904.48,1231.77 907.66,1237.13 910.84,1242.49 914.03,1247.85 917.22,1253.2 920.42,1258.55 923.61,1263.9 926.82,1269.25 930.02,1274.59 933.23,1279.94 936.45,1285.28 939.66,1290.62 942.88,1295.96 946.11,1301.3 949.33,1306.64 952.56,1311.97 955.79,1317.31 959.03,1322.64 962.27,1327.97 965.51,1333.3 968.76,1338.62 972.01,1343.95 975.27,1349.26 978.54,1354.58 981.82,1359.88 985.1,1365.18 988.4,1370.48 991.71,1375.76 995.04,1381.04 998.37,1386.31 1001.72,1391.56 1005.09,1396.81 1008.47,1402.05 1011.87,1407.27 1015.29,1412.48 1018.73,1417.68 1022.19,1422.86 1025.67,1428.03 1029.17,1433.19 1032.7,1438.32 1036.25,1443.44 1039.82,1448.55 1043.42,1453.63 1047.05,1458.7 1050.7,1463.75 1054.39,1468.77 1058.1,1473.78 1061.84,1478.76 1065.62,1483.73 1069.42,1488.67 1073.27,1493.58 1077.14,1498.47 1081.05,1503.34 1085,1508.18 1088.98,1513 1093.01,1517.78 1097.07,1522.54 1101.17,1527.27 1105.31,1531.98 1109.5,1536.65 1113.72,1541.29 1117.99,1545.9 1122.31,1550.48 1126.67,1555.02 1131.08,1559.53 1135.53,1563.99 1140.03,1568.41 1144.58,1572.78 1149.17,1577.1 1153.82,1581.36 1158.51,1585.57 1163.25,1589.72 1168.05,1593.81 1172.89,1597.83 1177.79,1601.78 1182.74,1605.66 1187.74,1609.46 1192.8,1613.19 1197.91,1616.84 1203.08,1620.4 1208.3,1623.88 1213.57,1627.26 1218.91,1630.55 1224.3,1633.75 1229.74,1636.85 1235.25,1639.84 1240.82,1642.74 1246.44,1645.52 1252.13,1648.19 1257.87,1650.75 1263.68,1653.19 1269.55,1655.51 1275.48,1657.71 1281.47,1659.78 1287.52,1661.71 1293.62,1663.47 1299.76,1665.06 1305.93,1666.46 1312.12,1667.64 1318.32,1668.59 1324.54,1669.28 1330.75,1669.72 1336.95,1669.86 1343.13,1669.7 1349.29,1669.22 1355.41,1668.41 1361.5,1667.28 1367.53,1665.84 1373.52,1664.11 1379.45,1662.11 1385.31,1659.85 1391.11,1657.35 1396.83,1654.61 1402.47,1651.66 1408.03,1648.51 1413.49,1645.17 1418.85,1641.66 1424.11,1637.99 1429.26,1634.19 1434.3,1630.26 1439.21,1626.21 1444.01,1622.07 1448.69,1617.82 1453.25,1613.48 1457.7,1609.05 1462.05,1604.53 1466.3,1599.93 1470.45,1595.25 1474.5,1590.49 1478.47,1585.66 1482.35,1580.76 1486.14,1575.8 1489.86,1570.78 1493.5,1565.71 1497.07,1560.58 1500.58,1555.41 1504.02,1550.19 1507.4,1544.93 1510.72,1539.64 1513.99,1534.31 1517.22,1528.96 1520.39,1523.58 1523.53,1518.19 1526.63,1512.77 1529.7,1507.34 1532.74,1501.9 1535.75,1496.45 1538.73,1490.98 1541.69,1485.5 1544.64,1480.02 1547.56,1474.52 1550.48,1469.02 1553.38,1463.52 1556.28,1458.01 1559.18,1452.49 1562.07,1446.98 1564.97,1441.46 1567.87,1435.94 1570.77,1430.42 1573.66,1424.89 1576.54,1419.36 1579.38,1413.81 1582.2,1408.25 1584.98,1402.67 1587.71,1397.07 1590.38,1391.45 1592.99,1385.81 1595.53,1380.13 1598,1374.43 1600.39,1368.69 1602.71,1362.93 1604.96,1357.14 1607.15,1351.32 1609.28,1345.48 1611.36,1339.62 1613.39,1333.73 1615.37,1327.83 1617.32,1321.92 1619.22,1315.98 1621.09,1310.04 1622.94,1304.08 1624.76,1298.11 1626.56,1292.14 1628.34,1286.15 1630.11,1280.16 1631.88,1274.17 1633.64,1268.18 1635.4,1262.19 1637.17,1256.19 1638.95,1250.21 1640.74,1244.22 1642.55,1238.25 1644.38,1232.28 1646.24,1226.32 1648.12,1220.37 1650.03,1214.43 1651.95,1208.5 1653.89,1202.57 1655.84,1196.65 1657.81,1190.73 1659.78,1184.82 1661.76,1178.91 1663.75,1173.01 1665.73,1167.1 1667.72,1161.2 1669.7,1155.29 1671.68,1149.39 1673.64,1143.48 1675.6,1137.57 1677.54,1131.66 1679.47,1125.74 1681.37,1119.82 1683.26,1113.89 1685.12,1107.95 1686.96,1102.01 1688.76,1096.05 1690.54,1090.09 1692.28,1084.12 1693.99,1078.13 1695.67,1072.14 1697.32,1066.14 1698.95,1060.13 1700.56,1054.12 1702.15,1048.1 1703.72,1042.07 1705.27,1036.04 1706.82,1030 1708.35,1023.96 1709.87,1017.92 1711.39,1011.88 1712.9,1005.83 1714.41,999.78 1715.92,993.74 1717.44,987.69 1718.96,981.65 1720.49,975.61 1722.03,969.57 1723.59,963.53 1725.15,957.5 1726.74,951.47 1728.34,945.45 1729.95,939.43 1731.58,933.42 1733.22,927.41 1734.87,921.4 1736.52,915.39 1738.17,909.39 1739.83,903.38 1741.49,897.38 1743.14,891.38 1744.79,885.37 1746.43,879.36 1748.06,873.35 1749.69,867.34 1751.3,861.32 1752.89,855.3 1754.46,849.28 1756.02,843.25 1757.56,837.21 1759.07,831.17 1760.57,825.13 1762.05,819.08 1763.51,813.03 1764.95,806.97 1766.37,800.9 1767.79,794.84 1769.18,788.77 1770.57,782.69 1771.94,776.62 1773.3,770.54 1774.65,764.45 1775.99,758.37 1777.31,752.28 1778.64,746.19 1779.95,740.1 1781.25,734.01 1782.56,727.92 1783.85,721.82 1785.14,715.73 1786.43,709.63 1787.72,703.54 1789,697.44 1790.28,691.34 1791.56,685.25 1792.84,679.15 1794.12,673.05 1795.4,666.96 1796.68,660.86 1797.96,654.76 1799.24,648.67 1800.52,642.57 1801.8,636.48 1803.08,630.38 1804.36,624.29 1805.65,618.19 1806.93,612.1 1808.22,606 1809.51,599.91 1810.8,593.82 1812.1,587.73 1813.4,581.63 1814.7,575.54 1816.01,569.45 1817.32,563.36 1818.63,557.28 1819.95,551.19 1821.27,545.1 1822.6,539.01 1823.92,532.93 1825.26,526.84 1826.59,520.76 1827.92,514.67 1829.25,508.59 1830.59,502.5 1831.92,496.42 1833.25,490.33 1834.58,484.25 1835.9,478.16 1837.22,472.07 1838.54,465.98 1839.85,459.89 1841.15,453.8 1842.45,447.71 1843.74,441.62 1845.02,435.52 1846.3,429.43 1847.56,423.33 1848.82,417.23 1850.06,411.12 1851.3,405.02 1852.52,398.91 1853.72,392.8 1854.92,386.69 1856.11,380.58 1857.28,374.46 1858.45,368.34 1859.61,362.22 1860.76,356.1 1861.9,349.98 1863.03,343.85 1864.15,337.73 1865.27,331.6 1866.38,325.47 1867.49,319.34 1868.59,313.21 1869.68,307.07 1870.77,300.94 1871.86,294.81 1872.94,288.67 1874.02,282.54 1875.1,276.4 1876.18,270.27 1877.25,264.13 1878.32,257.99 1879.4,251.86 1880.47,245.72 1881.54,239.59 1882.62,233.45 1883.7,227.31 1884.77,221.18 1885.85,215.04 1886.94,208.91 1888.02,202.77 1889.11,196.64 1890.19,190.51 1891.28,184.37 1892.37,178.24 1893.47,172.11 1894.56,165.98 1895.65,159.85 1896.75,153.71 1897.85,147.58 1898.94,141.45 1900.04,135.32 1901.14,129.19 1902.24,123.06 1903.35,116.93 1904.45,110.8 1905.55,104.67 1906.66,98.54 1907.76,92.41 1908.86,86.28 1909.97,80.15 1911.08,74.02 1912.18,67.89 1913.29,61.76 1914.39,55.63 1915.5,49.5" fill="none" stroke="#000000" stroke-width="8" stroke-linejoin="round"/>
<polygon points="317.5,19.5 343.5,64.5 291.5,64.5" fill="#000000"/>
<polygon points="477.3,357.9 503.3,402.9 451.3,402.9" fill="#000000"/>
<polygon points="637.1,696.1 663.1,741.1 611.1,741.1" fill="#000000"/>
<polygon points="796.9,1017.6 822.9,1062.6 770.9,1062.6" fill="#000000"/>
<polygon points="956.7,1296.8 982.7,1341.8 930.7,1341.8" fill="#000000"/>
<polygon points="1116.5,1524.3 1142.5,1569.3 1090.5,1569.3" fill="#000000"/>
<polygon points="1276.3,1655 1302.3,1700 1250.3,1700" fill="#000000"/>
<polygon points="1436.1,1636.8 1462.1,1681.8 1410.1,1681.8" fill="#000000"/>
<polygon points="1595.9,1393.3 1621.9,1438.3 1569.9,1438.3" fill="#000000"/>
<polygon points="1755.7,831.5 1781.7,876.5 1729.7,876.5" fill="#000000"/>
<polygon points="1787.66,678.8 1813.66,723.8 1761.66,723.8" fill="#000000"/>
<polygon points="1819.62,524.7 1845.62,569.7 1793.62,569.7" fill="#000000"/>
<polygon points="1851.58,373.6 1877.58,418.6 1825.58,418.6" fill="#000000"/>
<polygon points="1883.54,198.2 1909.54,243.2 1857.54,243.2" fill="#000000"/>
<polygon points="1915.5,19.5 1941.5,64.5 1889.5,64.5" fill="#000000"/>
</g>
<g id="ut-R">
<polyline points="317.5,49.5 320.19,55.09 322.88,60.68 325.56,66.27 328.25,71.86 330.94,77.45 333.63,83.04 336.31,88.63 339,94.22 341.69,99.81 344.38,105.39 347.07,110.98 349.75,116.57 352.44,122.16 355.13,127.75 357.82,133.34 360.5,138.93 363.19,144.52 365.88,150.11 368.57,155.7 371.25,161.29 373.94,166.88 376.63,172.47 379.32,178.06 382.01,183.65 384.69,189.24 387.38,194.83 390.07,200.42 392.75,206.01 395.44,211.6 398.13,217.19 400.82,222.78 403.5,228.36 406.19,233.95 408.88,239.54 411.57,245.13 414.25,250.72 416.94,256.31 419.63,261.9 422.31,267.49 425,273.08 427.69,278.67 430.38,284.26 433.06,289.85 435.75,295.44 438.44,301.03 441.12,306.62 443.81,312.21 446.5,317.8 449.18,323.39 451.87,328.98 454.56,334.57 457.24,340.16 459.93,345.75 462.62,351.34 465.3,356.93 467.99,362.52 470.67,368.11 473.36,373.7 476.05,379.29 478.73,384.88 481.42,390.47 484.11,396.06 486.79,401.65 489.48,407.24 492.16,412.83 494.85,418.42 497.54,424.01 500.22,429.6 502.91,435.19 505.6,440.78 508.28,446.37 510.97,451.96 513.66,457.55 516.35,463.14 519.03,468.73 521.72,474.32 524.41,479.91 527.1,485.5 529.79,491.09 532.48,496.67 535.17,502.26 537.86,507.85 540.56,513.44 543.25,519.02 545.94,524.61 548.64,530.2 551.33,535.78 554.03,541.37 556.72,546.95 559.42,552.54 562.12,558.12 564.81,563.71 567.51,569.29 570.21,574.88 572.91,580.46 575.62,586.04 578.32,591.62 581.02,597.2 583.73,602.79 586.43,608.37 589.14,613.95 591.85,619.53 594.56,625.11 597.27,630.68 599.98,636.26 602.69,641.84 605.41,647.42 608.12,652.99 610.84,658.57 613.55,664.14 616.27,669.72 618.99,675.29 621.72,680.87 624.44,686.44 627.16,692.01 629.89,697.58 632.62,703.15 635.35,708.72 638.08,714.29 640.81,719.86 643.54,725.43 646.28,730.99 649.02,736.56 651.75,742.12 654.5,747.69 657.24,753.25 659.98,758.81 662.73,764.37 665.48,769.93 668.23,775.49 670.99,781.05 673.75,786.6 676.51,792.16 679.27,797.71 682.03,803.26 684.8,808.81 687.57,814.36 690.35,819.91 693.12,825.46 695.9,831 698.69,836.54 701.47,842.09 704.26,847.63 707.06,853.16 709.85,858.7 712.65,864.23 715.46,869.77 718.26,875.3 721.08,880.82 723.89,886.35 726.71,891.88 729.53,897.4 732.36,902.92 735.19,908.44 738.03,913.95 740.87,919.47 743.71,924.98 746.56,930.49 749.41,936 752.27,941.5 755.13,947 758,952.5 760.87,958 763.75,963.49 766.63,968.99 769.52,974.48 772.41,979.96 775.31,985.45 778.21,990.93 781.12,996.41 784.04,1001.88 786.96,1007.36 789.88,1012.83 792.81,1018.29 795.75,1023.76 798.69,1029.22 801.64,1034.68 804.59,1040.13 807.55,1045.58 810.52,1051.03 813.49,1056.48 816.47,1061.92 819.45,1067.36 822.44,1072.8 825.43,1078.23 828.43,1083.66 831.44,1089.08 834.46,1094.51 837.48,1099.93 840.5,1105.34 843.53,1110.76 846.57,1116.16 849.62,1121.57 852.67,1126.97 855.72,1132.37 858.79,1137.77 861.85,1143.16 864.93,1148.55 868.01,1153.93 871.1,1159.31 874.19,1164.69 877.29,1170.06 880.4,1175.43 883.51,1180.8 886.63,1186.16 889.76,1191.52 892.89,1196.87 896.03,1202.22 899.17,1207.57 902.32,1212.91 905.48,1218.25 908.64,1223.59 911.82,1228.92 914.99,1234.24 918.18,1239.57 921.37,1244.89 924.56,1250.2 927.77,1255.51 930.98,1260.82 934.19,1266.12 937.42,1271.42 940.65,1276.71 943.88,1282 947.13,1287.29 950.38,1292.57 953.63,1297.85 956.9,1303.12 960.17,1308.39 963.45,1313.65 966.73,1318.91 970.03,1324.16 973.33,1329.41 976.64,1334.64 979.97,1339.88 983.3,1345.1 986.65,1350.32 990.01,1355.53 993.39,1360.73 996.77,1365.92 1000.18,1371.1 1003.6,1376.27 1007.03,1381.43 1010.48,1386.58 1013.95,1391.72 1017.43,1396.85 1020.93,1401.96 1024.46,1407.06 1028,1412.15 1031.56,1417.22 1035.15,1422.28 1038.75,1427.33 1042.38,1432.36 1046.03,1437.37 1049.71,1442.37 1053.41,1447.36 1057.13,1452.32 1060.88,1457.27 1064.66,1462.21 1068.46,1467.12 1072.29,1472.02 1076.15,1476.89 1080.04,1481.75 1083.95,1486.59 1087.9,1491.4 1091.88,1496.2 1095.89,1500.98 1099.93,1505.73 1104,1510.46 1108.11,1515.17 1112.25,1519.86 1116.43,1524.52 1120.64,1529.16 1124.89,1533.77 1129.18,1538.36 1133.5,1542.91 1137.86,1547.42 1142.27,1551.9 1146.71,1556.33 1151.2,1560.72 1155.73,1565.07 1160.31,1569.36 1164.93,1573.6 1169.59,1577.78 1174.31,1581.9 1179.07,1585.96 1183.88,1589.96 1188.75,1593.88 1193.66,1597.74 1198.63,1601.52 1203.65,1605.22 1208.72,1608.84 1213.85,1612.38 1219.04,1615.84 1224.28,1619.2 1229.58,1622.47 1234.94,1625.65 1240.37,1628.73 1245.85,1631.7 1251.4,1634.58 1257.01,1637.34 1262.68,1640 1268.42,1642.54 1274.22,1644.97 1280.1,1647.27 1286.03,1649.45 1292.02,1651.47 1298.06,1653.33 1304.14,1655 1310.25,1656.46 1316.39,1657.7 1322.54,1658.69 1328.71,1659.42 1334.87,1659.88 1341.03,1660.04 1347.18,1659.88 1353.3,1659.38 1359.4,1658.57 1365.46,1657.44 1371.49,1656.02 1377.47,1654.33 1383.4,1652.36 1389.27,1650.15 1395.08,1647.7 1400.82,1645.03 1406.49,1642.15 1412.07,1639.09 1417.57,1635.85 1422.97,1632.45 1428.28,1628.9 1433.48,1625.23 1438.57,1621.44 1443.54,1617.54 1448.41,1613.54 1453.17,1609.44 1457.83,1605.24 1462.38,1600.96 1466.84,1596.59 1471.2,1592.13 1475.47,1587.59 1479.64,1582.98 1483.74,1578.29 1487.74,1573.54 1491.67,1568.72 1495.52,1563.83 1499.29,1558.89 1502.99,1553.9 1506.62,1548.85 1510.19,1543.76 1513.69,1538.63 1517.13,1533.45 1520.51,1528.24 1523.84,1523 1527.11,1517.73 1530.34,1512.43 1533.52,1507.11 1536.67,1501.77 1539.78,1496.41 1542.87,1491.03 1545.93,1485.63 1548.96,1480.23 1551.99,1474.81 1555,1469.39 1558.01,1463.96 1561.01,1458.53 1564.02,1453.1 1567.04,1447.67 1570.06,1442.24 1573.07,1436.81 1576.07,1431.37 1579.04,1425.92 1581.98,1420.45 1584.88,1414.97 1587.73,1409.46 1590.51,1403.93 1593.23,1398.36 1595.87,1392.77 1598.42,1387.13 1600.9,1381.47 1603.29,1375.76 1605.61,1370.03 1607.86,1364.27 1610.05,1358.48 1612.18,1352.67 1614.26,1346.83 1616.29,1340.97 1618.27,1335.1 1620.21,1329.2 1622.12,1323.29 1624,1317.37 1625.86,1311.44 1627.69,1305.49 1629.51,1299.55 1631.32,1293.59 1633.12,1287.63 1634.92,1281.68 1636.73,1275.72 1638.54,1269.77 1640.37,1263.82 1642.22,1257.88 1644.09,1251.94 1645.98,1246.02 1647.91,1240.11 1649.85,1234.21 1651.82,1228.32 1653.8,1222.44 1655.81,1216.56 1657.82,1210.69 1659.85,1204.82 1661.88,1198.96 1663.92,1193.1 1665.96,1187.24 1668,1181.39 1670.03,1175.53 1672.07,1169.67 1674.09,1163.82 1676.1,1157.95 1678.1,1152.09 1680.08,1146.22 1682.04,1140.34 1683.99,1134.46 1685.9,1128.57 1687.79,1122.67 1689.65,1116.76 1691.48,1110.84 1693.28,1104.91 1695.04,1098.98 1696.78,1093.03 1698.49,1087.07 1700.17,1081.1 1701.83,1075.13 1703.47,1069.15 1705.09,1063.16 1706.69,1057.17 1708.28,1051.17 1709.85,1045.17 1711.41,1039.16 1712.96,1033.15 1714.5,1027.14 1716.03,1021.13 1717.56,1015.11 1719.09,1009.1 1720.61,1003.08 1722.14,997.06 1723.67,991.05 1725.2,985.04 1726.74,979.02 1728.29,973.02 1729.84,967.01 1731.39,961 1732.95,955 1734.52,949 1736.08,942.99 1737.65,936.99 1739.22,930.99 1740.79,924.99 1742.36,918.99 1743.93,912.99 1745.49,906.99 1747.06,900.99 1748.62,894.99 1750.17,888.99 1751.73,882.99 1753.27,876.98 1754.81,870.98 1756.35,864.97 1757.87,858.96 1759.39,852.94 1760.9,846.93 1762.4,840.91 1763.9,834.89 1765.39,828.87 1766.87,822.85 1768.34,816.82 1769.8,810.79 1771.26,804.76 1772.7,798.73 1774.14,792.7 1775.57,786.66 1776.99,780.62 1778.4,774.58 1779.8,768.54 1781.19,762.5 1782.57,756.45 1783.94,750.4 1785.31,744.35 1786.66,738.3 1788,732.24 1789.34,726.19 1790.66,720.13 1791.98,714.07 1793.28,708 1794.58,701.94 1795.87,695.87 1797.16,689.81 1798.44,683.74 1799.71,677.67 1800.97,671.6 1802.24,665.52 1803.49,659.45 1804.75,653.38 1806,647.3 1807.25,641.23 1808.49,635.15 1809.73,629.07 1810.97,623 1812.22,616.92 1813.46,610.84 1814.7,604.77 1815.94,598.69 1817.18,592.61 1818.42,586.53 1819.67,580.46 1820.92,574.38 1822.17,568.31 1823.42,562.23 1824.67,556.16 1825.93,550.08 1827.18,544.01 1828.43,537.93 1829.68,531.86 1830.93,525.78 1832.18,519.71 1833.43,513.63 1834.67,507.55 1835.91,501.48 1837.14,495.4 1838.37,489.32 1839.59,483.24 1840.81,477.16 1842.02,471.07 1843.22,464.99 1844.42,458.9 1845.6,452.82 1846.78,446.73 1847.95,440.64 1849.11,434.55 1850.26,428.45 1851.4,422.36 1852.53,416.26 1853.65,410.16 1854.75,404.06 1855.85,397.95 1856.94,391.85 1858.01,385.74 1859.08,379.63 1860.14,373.52 1861.2,367.41 1862.24,361.3 1863.29,355.18 1864.32,349.07 1865.35,342.95 1866.37,336.84 1867.39,330.72 1868.41,324.6 1869.42,318.48 1870.43,312.36 1871.44,306.24 1872.45,300.12 1873.45,294 1874.46,287.88 1875.46,281.76 1876.46,275.64 1877.47,269.51 1878.47,263.39 1879.48,257.27 1880.49,251.15 1881.5,245.03 1882.52,238.92 1883.54,232.8 1884.56,226.68 1885.59,220.56 1886.63,214.45 1887.66,208.33 1888.7,202.22 1889.75,196.1 1890.79,189.99 1891.84,183.88 1892.9,177.77 1893.95,171.65 1895.01,165.54 1896.07,159.43 1897.14,153.32 1898.21,147.21 1899.28,141.1 1900.35,135 1901.42,128.89 1902.5,122.78 1903.58,116.67 1904.65,110.56 1905.73,104.46 1906.82,98.35 1907.9,92.24 1908.98,86.14 1910.07,80.03 1911.15,73.92 1912.24,67.82 1913.33,61.71 1914.41,55.61 1915.5,49.5" fill="none" stroke="#ff0000" stroke-width="8" stroke-linejoin="round"/>
<polygon points="317.5,19.5 343.5,64.5 291.5,64.5" fill="#ff0000"/>
<polygon points="477.3,351.9 503.3,396.9 451.3,396.9" fill="#ff0000"/>
<polygon points="637.1,684.3 663.1,729.3 611.1,729.3" fill="#ff0000"/>
<polygon points="796.9,1000.9 822.9,1045.9 770.9,1045.9" fill="#ff0000"/>
<polygon points="956.7,1280.8 982.7,1325.8 930.7,1325.8" fill="#ff0000"/>
<polygon points="1116.5,1504.6 1142.5,1549.6 1090.5,1549.6" fill="#ff0000"/>
<polygon points="1276.3,1642.8 1302.3,1687.8 1250.3,1687.8" fill="#ff0000"/>
<polygon points="1436.1,1632.3 1462.1,1677.3 1410.1,1677.3" fill="#ff0000"/>
<polygon points="1595.9,1406.7 1621.9,1451.7 1569.9,1451.7" fill="#ff0000"/>
<polygon points="1755.7,862.5 1781.7,907.5 1729.7,907.5" fill="#ff0000"/>
<polygon points="1787.66,708.8 1813.66,753.8 1761.66,753.8" fill="#ff0000"/>
<polygon points="1819.62,552.7 1845.62,597.7 1793.62,597.7" fill="#ff0000"/>
<polygon points="1851.58,391.4 1877.58,436.4 1825.58,436.4" fill="#ff0000"/>
<polygon points="1883.54,202.8 1909.54,247.8 1857.54,247.8" fill="#ff0000"/>
<polygon points="1915.5,19.5 1941.5,64.5 1889.5,64.5" fill="#ff0000"/>
</g>
<g id="ut-B">
<polyline points="317.5,49.5 320.21,55.04 322.92,60.59 325.63,66.13 328.34,71.67 331.05,77.21 333.76,82.76 336.47,88.3 339.18,93.84 341.89,99.38 344.6,104.93 347.32,110.47 350.03,116.01 352.74,121.55 355.45,127.09 358.16,132.64 360.87,138.18 363.59,143.72 366.3,149.26 369.01,154.8 371.73,160.34 374.44,165.88 377.15,171.42 379.87,176.96 382.58,182.5 385.3,188.04 388.01,193.58 390.73,199.12 393.45,204.66 396.16,210.2 398.88,215.74 401.6,221.28 404.32,226.82 407.03,232.36 409.75,237.9 412.47,243.43 415.19,248.97 417.92,254.51 420.64,260.04 423.36,265.58 426.08,271.12 428.81,276.65 431.53,282.19 434.25,287.72 436.98,293.26 439.71,298.79 442.43,304.33 445.16,309.86 447.89,315.39 450.62,320.93 453.35,326.46 456.08,331.99 458.81,337.52 461.54,343.05 464.28,348.58 467.01,354.11 469.75,359.64 472.48,365.17 475.22,370.7 477.96,376.23 480.7,381.76 483.44,387.29 486.18,392.81 488.92,398.34 491.66,403.87 494.41,409.39 497.15,414.92 499.9,420.44 502.64,425.97 505.39,431.49 508.14,437.01 510.88,442.54 513.63,448.06 516.38,453.58 519.13,459.11 521.88,464.63 524.63,470.15 527.38,475.67 530.13,481.19 532.89,486.72 535.64,492.24 538.39,497.76 541.14,503.28 543.9,508.8 546.65,514.32 549.41,519.84 552.16,525.36 554.92,530.88 557.67,536.4 560.43,541.92 563.18,547.44 565.94,552.96 568.69,558.48 571.45,564 574.21,569.52 576.96,575.04 579.72,580.56 582.47,586.08 585.23,591.6 587.99,597.12 590.74,602.64 593.5,608.16 596.25,613.68 599.01,619.2 601.76,624.72 604.52,630.24 607.27,635.76 610.03,641.28 612.78,646.81 615.54,652.33 618.29,657.85 621.04,663.37 623.8,668.89 626.55,674.42 629.3,679.94 632.05,685.46 634.8,690.98 637.55,696.51 640.3,702.03 643.05,707.56 645.8,713.08 648.55,718.61 651.3,724.13 654.05,729.65 656.8,735.18 659.55,740.7 662.3,746.23 665.05,751.75 667.8,757.27 670.55,762.8 673.31,768.32 676.06,773.84 678.82,779.36 681.58,784.88 684.34,790.4 687.1,795.92 689.86,801.44 692.63,806.96 695.39,812.47 698.16,817.99 700.93,823.5 703.71,829.01 706.48,834.52 709.26,840.03 712.05,845.54 714.83,851.04 717.62,856.55 720.41,862.05 723.21,867.55 726,873.05 728.81,878.55 731.61,884.04 734.42,889.53 737.24,895.02 740.05,900.51 742.88,906 745.7,911.48 748.53,916.96 751.37,922.44 754.21,927.92 757.06,933.39 759.91,938.86 762.76,944.33 765.63,949.79 768.49,955.26 771.37,960.72 774.24,966.17 777.13,971.62 780.02,977.07 782.92,982.52 785.82,987.96 788.73,993.4 791.64,998.84 794.56,1004.27 797.49,1009.7 800.43,1015.12 803.37,1020.54 806.32,1025.96 809.28,1031.38 812.24,1036.79 815.21,1042.19 818.19,1047.6 821.17,1052.99 824.16,1058.39 827.16,1063.78 830.16,1069.17 833.17,1074.55 836.19,1079.93 839.22,1085.31 842.25,1090.68 845.28,1096.05 848.33,1101.42 851.38,1106.78 854.44,1112.14 857.5,1117.49 860.57,1122.84 863.65,1128.19 866.73,1133.54 869.82,1138.88 872.92,1144.21 876.02,1149.55 879.13,1154.87 882.25,1160.2 885.37,1165.52 888.5,1170.84 891.64,1176.15 894.78,1181.47 897.93,1186.77 901.09,1192.08 904.25,1197.38 907.41,1202.67 910.59,1207.97 913.77,1213.26 916.96,1218.54 920.15,1223.82 923.35,1229.1 926.56,1234.38 929.77,1239.65 932.99,1244.91 936.21,1250.18 939.44,1255.44 942.68,1260.7 945.93,1265.95 949.18,1271.2 952.43,1276.44 955.69,1281.69 958.96,1286.92 962.24,1292.16 965.52,1297.39 968.81,1302.62 972.11,1307.84 975.42,1313.05 978.73,1318.26 982.06,1323.46 985.4,1328.65 988.75,1333.84 992.11,1339.02 995.49,1344.19 998.88,1349.35 1002.28,1354.5 1005.69,1359.64 1009.13,1364.77 1012.57,1369.89 1016.04,1375 1019.52,1380.1 1023.02,1385.18 1026.54,1390.25 1030.07,1395.31 1033.63,1400.36 1037.2,1405.39 1040.8,1410.4 1044.42,1415.4 1048.06,1420.39 1051.72,1425.36 1055.41,1430.31 1059.12,1435.24 1062.85,1440.16 1066.61,1445.06 1070.39,1449.94 1074.2,1454.8 1078.04,1459.65 1081.91,1464.47 1085.8,1469.27 1089.72,1474.05 1093.67,1478.81 1097.66,1483.55 1101.67,1488.27 1105.71,1492.96 1109.79,1497.64 1113.89,1502.28 1118.03,1506.91 1122.21,1511.5 1126.42,1516.07 1130.66,1520.62 1134.94,1525.12 1139.26,1529.6 1143.62,1534.04 1148.01,1538.43 1152.45,1542.79 1156.93,1547.1 1161.45,1551.37 1166.01,1555.59 1170.61,1559.76 1175.26,1563.88 1179.96,1567.94 1184.7,1571.94 1189.49,1575.89 1194.32,1579.77 1199.21,1583.59 1204.14,1587.34 1209.13,1591.02 1214.17,1594.63 1219.26,1598.17 1224.4,1601.63 1229.6,1605.02 1234.85,1608.32 1240.16,1611.54 1245.53,1614.68 1250.95,1617.73 1256.43,1620.69 1261.98,1623.56 1267.58,1626.33 1273.25,1629.01 1278.97,1631.59 1284.76,1634.06 1290.61,1636.4 1296.5,1638.59 1302.44,1640.61 1308.42,1642.45 1314.43,1644.08 1320.47,1645.48 1326.54,1646.64 1332.63,1647.53 1338.73,1648.13 1344.84,1648.43 1350.95,1648.4 1357.07,1648.04 1363.17,1647.37 1369.25,1646.4 1375.31,1645.13 1381.33,1643.6 1387.31,1641.79 1393.23,1639.75 1399.1,1637.47 1404.9,1634.96 1410.63,1632.26 1416.27,1629.36 1421.82,1626.28 1427.27,1623.03 1432.61,1619.64 1437.83,1616.11 1442.94,1612.45 1447.92,1608.66 1452.8,1604.77 1457.56,1600.76 1462.22,1596.64 1466.77,1592.42 1471.22,1588.1 1475.58,1583.69 1479.84,1579.2 1484.01,1574.62 1488.09,1569.96 1492.09,1565.23 1496.01,1560.43 1499.86,1555.57 1503.63,1550.65 1507.33,1545.68 1510.96,1540.66 1514.53,1535.59 1518.04,1530.49 1521.5,1525.35 1524.9,1520.18 1528.25,1514.99 1531.55,1509.78 1534.82,1504.54 1538.05,1499.29 1541.25,1494.01 1544.42,1488.73 1547.57,1483.43 1550.7,1478.12 1553.82,1472.8 1556.93,1467.47 1560.04,1462.14 1563.15,1456.8 1566.26,1451.47 1569.38,1446.13 1572.49,1440.79 1575.58,1435.45 1578.65,1430.08 1581.68,1424.7 1584.67,1419.3 1587.61,1413.88 1590.48,1408.42 1593.28,1402.94 1595.99,1397.41 1598.61,1391.85 1601.15,1386.25 1603.61,1380.61 1605.98,1374.93 1608.29,1369.23 1610.53,1363.49 1612.71,1357.73 1614.83,1351.95 1616.9,1346.14 1618.93,1340.31 1620.92,1334.46 1622.87,1328.6 1624.79,1322.72 1626.69,1316.83 1628.56,1310.94 1630.43,1305.03 1632.28,1299.13 1634.13,1293.22 1635.99,1287.31 1637.85,1281.4 1639.72,1275.5 1641.61,1269.6 1643.52,1263.72 1645.46,1257.84 1647.43,1251.98 1649.43,1246.13 1651.44,1240.29 1653.48,1234.45 1655.54,1228.63 1657.6,1222.81 1659.68,1217 1661.77,1211.19 1663.87,1205.38 1665.96,1199.58 1668.06,1193.78 1670.15,1187.98 1672.24,1182.18 1674.32,1176.37 1676.39,1170.56 1678.44,1164.75 1680.47,1158.93 1682.49,1153.11 1684.48,1147.28 1686.44,1141.44 1688.38,1135.59 1690.28,1129.73 1692.15,1123.86 1693.99,1117.98 1695.79,1112.08 1697.57,1106.18 1699.32,1100.27 1701.04,1094.34 1702.73,1088.41 1704.41,1082.48 1706.06,1076.53 1707.69,1070.58 1709.31,1064.62 1710.91,1058.66 1712.49,1052.7 1714.07,1046.73 1715.64,1040.75 1717.19,1034.78 1718.74,1028.8 1720.29,1022.82 1721.83,1016.84 1723.38,1010.87 1724.92,1004.89 1726.47,998.91 1728.02,992.94 1729.57,986.96 1731.12,980.99 1732.68,975.02 1734.24,969.05 1735.81,963.08 1737.37,957.12 1738.94,951.15 1740.51,945.18 1742.08,939.22 1743.65,933.25 1745.22,927.29 1746.79,921.32 1748.36,915.36 1749.93,909.39 1751.51,903.43 1753.08,897.46 1754.65,891.5 1756.22,885.53 1757.79,879.56 1759.35,873.6 1760.92,867.63 1762.48,861.66 1764.03,855.69 1765.58,849.71 1767.13,843.74 1768.67,837.76 1770.2,831.79 1771.72,825.81 1773.23,819.82 1774.73,813.84 1776.22,807.85 1777.7,801.86 1779.17,795.87 1780.62,789.87 1782.06,783.87 1783.48,777.87 1784.89,771.86 1786.28,765.85 1787.65,759.84 1789.01,753.82 1790.34,747.8 1791.67,741.77 1792.97,735.75 1794.26,729.71 1795.54,723.68 1796.8,717.64 1798.05,711.6 1799.29,705.56 1800.52,699.51 1801.74,693.46 1802.95,687.41 1804.15,681.36 1805.35,675.31 1806.54,669.25 1807.72,663.2 1808.9,657.14 1810.07,651.08 1811.25,645.02 1812.42,638.97 1813.59,632.91 1814.75,626.85 1815.92,620.79 1817.09,614.73 1818.27,608.67 1819.44,602.61 1820.62,596.55 1821.81,590.5 1822.99,584.44 1824.18,578.39 1825.37,572.33 1826.56,566.28 1827.75,560.22 1828.95,554.17 1830.14,548.12 1831.33,542.06 1832.52,536.01 1833.71,529.95 1834.89,523.9 1836.07,517.84 1837.25,511.79 1838.42,505.73 1839.59,499.67 1840.75,493.61 1841.91,487.55 1843.06,481.49 1844.2,475.43 1845.34,469.36 1846.46,463.3 1847.58,457.23 1848.68,451.16 1849.78,445.09 1850.87,439.02 1851.94,432.95 1853,426.87 1854.06,420.79 1855.1,414.71 1856.13,408.63 1857.15,402.55 1858.17,396.46 1859.17,390.38 1860.17,384.29 1861.16,378.2 1862.14,372.11 1863.12,366.02 1864.09,359.92 1865.06,353.83 1866.02,347.74 1866.98,341.64 1867.93,335.55 1868.89,329.45 1869.84,323.35 1870.78,317.26 1871.73,311.16 1872.68,305.06 1873.62,298.96 1874.57,292.87 1875.52,286.77 1876.47,280.67 1877.42,274.58 1878.37,268.48 1879.33,262.39 1880.29,256.29 1881.26,250.2 1882.23,244.1 1883.2,238.01 1884.18,231.92 1885.17,225.83 1886.16,219.74 1887.16,213.65 1888.16,207.56 1889.17,201.48 1890.19,195.39 1891.21,189.31 1892.23,183.22 1893.26,177.14 1894.29,171.06 1895.33,164.97 1896.37,158.89 1897.41,152.81 1898.46,146.73 1899.51,140.65 1900.56,134.57 1901.61,128.49 1902.67,122.42 1903.73,116.34 1904.8,110.26 1905.86,104.18 1906.93,98.11 1907.99,92.03 1909.06,85.95 1910.14,79.88 1911.21,73.8 1912.28,67.73 1913.35,61.65 1914.43,55.58 1915.5,49.5" fill="none" stroke="#0000ff" stroke-width="8" stroke-linejoin="round"/>
<polygon points="317.5,19.5 343.5,64.5 291.5,64.5" fill="#0000ff"/>
<polygon points="477.3,344.9 503.3,389.9 451.3,389.9" fill="#0000ff"/>
<polygon points="637.1,667.6 663.1,712.6 611.1,712.6" fill="#0000ff"/>
<polygon points="796.9,983.6 822.9,1028.6 770.9,1028.6" fill="#0000ff"/>
<polygon points="956.7,1261.3 982.7,1306.3 930.7,1306.3" fill="#0000ff"/>
<polygon points="1116.5,1485.2 1142.5,1530.2 1090.5,1530.2" fill="#0000ff"/>
<polygon points="1276.3,1627.4 1302.3,1672.4 1250.3,1672.4" fill="#0000ff"/>
<polygon points="1436.1,1623.7 1462.1,1668.7 1410.1,1668.7" fill="#0000ff"/>
<polygon points="1595.9,1411.6 1621.9,1456.6 1569.9,1456.6" fill="#0000ff"/>
<polygon points="1755.7,884.5 1781.7,929.5 1729.7,929.5" fill="#0000ff"/>
<polygon points="1787.66,734.8 1813.66,779.8 1761.66,779.8" fill="#0000ff"/>
<polygon points="1819.62,573.7 1845.62,618.7 1793.62,618.7" fill="#0000ff"/>
<polygon points="1851.58,405 1877.58,450 1825.58,450" fill="#0000ff"/>
<polygon points="1883.54,205.9 1909.54,250.9 1857.54,250.9" fill="#0000ff"/>
<polygon points="1915.5,19.5 1941.5,64.5 1889.5,64.5" fill="#0000ff"/>
</g>
<g id="ut-G">
<polyline points="317.5,49.5 320.25,54.99 323,60.47 325.75,65.96 328.5,71.45 331.26,76.93 334.01,82.42 336.76,87.91 339.51,93.39 342.26,98.88 345.01,104.36 347.76,109.85 350.52,115.34 353.27,120.82 356.02,126.31 358.77,131.8 361.52,137.28 364.27,142.77 367.03,148.25 369.78,153.74 372.53,159.23 375.28,164.71 378.03,170.2 380.78,175.68 383.54,181.17 386.29,186.66 389.04,192.14 391.79,197.63 394.55,203.11 397.3,208.6 400.05,214.09 402.8,219.57 405.56,225.06 408.31,230.54 411.06,236.03 413.82,241.51 416.57,247 419.32,252.48 422.08,257.97 424.83,263.45 427.58,268.94 430.34,274.42 433.09,279.91 435.85,285.39 438.6,290.88 441.36,296.36 444.11,301.85 446.86,307.33 449.62,312.82 452.37,318.3 455.13,323.79 457.89,329.27 460.64,334.75 463.4,340.24 466.15,345.72 468.91,351.21 471.66,356.69 474.42,362.17 477.18,367.66 479.93,373.14 482.69,378.62 485.45,384.11 488.21,389.59 490.96,395.07 493.72,400.56 496.48,406.04 499.24,411.52 502,417 504.76,422.49 507.51,427.97 510.27,433.45 513.03,438.93 515.79,444.42 518.55,449.9 521.31,455.38 524.07,460.86 526.83,466.34 529.6,471.82 532.36,477.3 535.12,482.79 537.88,488.27 540.64,493.75 543.41,499.23 546.17,504.71 548.93,510.19 551.69,515.67 554.46,521.15 557.22,526.63 559.99,532.11 562.75,537.59 565.52,543.07 568.28,548.55 571.05,554.03 573.81,559.51 576.58,564.98 579.35,570.46 582.11,575.94 584.88,581.42 587.65,586.9 590.42,592.37 593.19,597.85 595.96,603.33 598.73,608.81 601.5,614.28 604.27,619.76 607.04,625.24 609.81,630.71 612.58,636.19 615.35,641.67 618.12,647.14 620.9,652.62 623.67,658.09 626.44,663.57 629.22,669.05 631.99,674.52 634.77,680 637.54,685.47 640.32,690.94 643.09,696.42 645.87,701.89 648.65,707.37 651.43,712.84 654.21,718.31 656.99,723.78 659.77,729.25 662.55,734.73 665.33,740.2 668.12,745.67 670.91,751.14 673.69,756.6 676.48,762.07 679.27,767.54 682.07,773 684.86,778.47 687.66,783.93 690.45,789.4 693.25,794.86 696.06,800.32 698.86,805.78 701.67,811.24 704.48,816.69 707.29,822.15 710.1,827.61 712.92,833.06 715.74,838.51 718.56,843.96 721.38,849.41 724.21,854.86 727.04,860.31 729.87,865.75 732.71,871.19 735.55,876.64 738.39,882.07 741.24,887.51 744.09,892.95 746.94,898.38 749.8,903.82 752.66,909.25 755.52,914.67 758.39,920.1 761.26,925.52 764.13,930.95 767.01,936.37 769.9,941.78 772.79,947.2 775.68,952.61 778.58,958.02 781.48,963.43 784.38,968.84 787.29,974.24 790.21,979.64 793.13,985.04 796.05,990.44 798.98,995.83 801.92,1001.22 804.86,1006.61 807.8,1012 810.75,1017.38 813.71,1022.76 816.67,1028.14 819.64,1033.51 822.61,1038.88 825.59,1044.25 828.57,1049.61 831.56,1054.97 834.55,1060.33 837.56,1065.68 840.56,1071.04 843.58,1076.38 846.6,1081.73 849.62,1087.07 852.66,1092.4 855.7,1097.74 858.74,1103.07 861.79,1108.39 864.85,1113.71 867.92,1119.03 870.99,1124.34 874.07,1129.65 877.16,1134.96 880.26,1140.26 883.36,1145.56 886.47,1150.85 889.58,1156.14 892.71,1161.42 895.84,1166.7 898.98,1171.98 902.12,1177.25 905.28,1182.52 908.44,1187.78 911.61,1193.03 914.79,1198.29 917.98,1203.53 921.17,1208.78 924.38,1214.01 927.59,1219.24 930.81,1224.47 934.04,1229.69 937.28,1234.91 940.52,1240.12 943.78,1245.33 947.04,1250.53 950.32,1255.73 953.6,1260.92 956.89,1266.1 960.19,1271.28 963.5,1276.45 966.82,1281.62 970.16,1286.78 973.5,1291.93 976.85,1297.08 980.22,1302.22 983.59,1307.35 986.98,1312.47 990.39,1317.58 993.8,1322.69 997.23,1327.78 1000.68,1332.87 1004.13,1337.94 1007.61,1343.01 1011.1,1348.06 1014.6,1353.11 1018.12,1358.14 1021.66,1363.16 1025.21,1368.16 1028.79,1373.16 1032.38,1378.14 1035.98,1383.11 1039.61,1388.07 1043.26,1393.01 1046.92,1397.94 1050.61,1402.85 1054.31,1407.75 1058.04,1412.63 1061.78,1417.5 1065.55,1422.35 1069.34,1427.18 1073.16,1432 1076.99,1436.8 1080.85,1441.59 1084.73,1446.35 1088.64,1451.1 1092.57,1455.83 1096.52,1460.54 1100.5,1465.23 1104.51,1469.91 1108.54,1474.56 1112.6,1479.19 1116.68,1483.81 1120.8,1488.4 1124.94,1492.97 1129.11,1497.51 1133.31,1502.03 1137.54,1506.52 1141.8,1510.98 1146.1,1515.41 1150.43,1519.8 1154.79,1524.16 1159.19,1528.48 1163.63,1532.76 1168.11,1536.99 1172.62,1541.19 1177.18,1545.34 1181.77,1549.44 1186.41,1553.5 1191.09,1557.5 1195.82,1561.45 1200.59,1565.35 1205.4,1569.18 1210.27,1572.97 1215.18,1576.69 1220.13,1580.34 1225.14,1583.94 1230.2,1587.47 1235.31,1590.93 1240.48,1594.32 1245.69,1597.64 1250.97,1600.89 1256.29,1604.06 1261.68,1607.15 1267.12,1610.17 1272.62,1613.1 1278.18,1615.95 1283.8,1618.71 1289.47,1621.36 1295.2,1623.87 1300.98,1626.24 1306.8,1628.43 1312.67,1630.44 1318.58,1632.23 1324.53,1633.78 1330.52,1635.09 1336.54,1636.12 1342.58,1636.86 1348.66,1637.28 1354.75,1637.38 1360.86,1637.16 1366.97,1636.62 1373.08,1635.8 1379.16,1634.69 1385.22,1633.3 1391.24,1631.66 1397.21,1629.77 1403.13,1627.65 1408.97,1625.3 1414.73,1622.75 1420.41,1619.99 1425.98,1617.05 1431.44,1613.94 1436.78,1610.67 1442,1607.24 1447.09,1603.68 1452.06,1599.97 1456.91,1596.14 1461.65,1592.18 1466.28,1588.1 1470.8,1583.91 1475.22,1579.62 1479.55,1575.22 1483.78,1570.74 1487.93,1566.17 1491.99,1561.51 1495.97,1556.79 1499.87,1552 1503.7,1547.14 1507.46,1542.23 1511.16,1537.28 1514.8,1532.28 1518.38,1527.24 1521.9,1522.18 1525.38,1517.09 1528.82,1511.98 1532.21,1506.86 1535.57,1501.72 1538.9,1496.56 1542.2,1491.39 1545.47,1486.21 1548.73,1481.01 1551.97,1475.81 1555.2,1470.6 1558.42,1465.38 1561.64,1460.15 1564.86,1454.93 1568.08,1449.7 1571.3,1444.46 1574.5,1439.21 1577.68,1433.95 1580.82,1428.67 1583.92,1423.36 1586.96,1418.03 1589.93,1412.67 1592.83,1407.26 1595.64,1401.82 1598.35,1396.34 1600.97,1390.81 1603.5,1385.24 1605.95,1379.63 1608.32,1373.99 1610.63,1368.32 1612.87,1362.62 1615.05,1356.88 1617.17,1351.13 1619.25,1345.35 1621.29,1339.56 1623.29,1333.74 1625.26,1327.91 1627.21,1322.07 1629.14,1316.23 1631.06,1310.37 1632.97,1304.51 1634.87,1298.65 1636.79,1292.79 1638.71,1286.94 1640.65,1281.09 1642.61,1275.25 1644.6,1269.43 1646.62,1263.61 1648.67,1257.81 1650.74,1252.02 1652.84,1246.24 1654.95,1240.47 1657.09,1234.71 1659.23,1228.95 1661.39,1223.2 1663.55,1217.45 1665.71,1211.71 1667.87,1205.97 1670.03,1200.22 1672.18,1194.48 1674.32,1188.73 1676.45,1182.98 1678.56,1177.22 1680.65,1171.46 1682.71,1165.69 1684.75,1159.91 1686.75,1154.12 1688.73,1148.32 1690.66,1142.5 1692.56,1136.68 1694.42,1130.83 1696.25,1124.98 1698.04,1119.12 1699.8,1113.24 1701.54,1107.36 1703.25,1101.47 1704.93,1095.57 1706.6,1089.66 1708.25,1083.75 1709.89,1077.83 1711.51,1071.9 1713.13,1065.98 1714.74,1060.05 1716.34,1054.12 1717.94,1048.19 1719.54,1042.26 1721.14,1036.33 1722.75,1030.4 1724.37,1024.47 1726,1018.55 1727.64,1012.63 1729.29,1006.72 1730.95,1000.81 1732.62,994.9 1734.29,988.99 1735.96,983.08 1737.64,977.18 1739.32,971.28 1741,965.37 1742.67,959.47 1744.34,953.56 1746.01,947.66 1747.67,941.75 1749.32,935.84 1750.95,929.93 1752.58,924.01 1754.19,918.09 1755.79,912.17 1757.37,906.24 1758.93,900.3 1760.48,894.37 1762.01,888.42 1763.53,882.48 1765.03,876.53 1766.52,870.57 1767.99,864.61 1769.45,858.65 1770.9,852.69 1772.33,846.72 1773.76,840.75 1775.17,834.77 1776.57,828.8 1777.96,822.82 1779.34,816.83 1780.71,810.85 1782.07,804.86 1783.42,798.87 1784.76,792.88 1786.09,786.89 1787.42,780.9 1788.74,774.9 1790.05,768.9 1791.35,762.91 1792.65,756.91 1793.94,750.91 1795.23,744.9 1796.51,738.9 1797.78,732.9 1799.04,726.89 1800.3,720.88 1801.55,714.87 1802.8,708.86 1804.04,702.85 1805.27,696.84 1806.5,690.83 1807.72,684.81 1808.94,678.8 1810.15,672.78 1811.36,666.76 1812.56,660.74 1813.75,654.72 1814.94,648.7 1816.12,642.68 1817.3,636.66 1818.47,630.63 1819.64,624.61 1820.8,618.58 1821.96,612.55 1823.11,606.52 1824.26,600.49 1825.4,594.46 1826.54,588.43 1827.67,582.4 1828.79,576.37 1829.91,570.33 1831.03,564.29 1832.13,558.26 1833.24,552.22 1834.33,546.18 1835.43,540.14 1836.51,534.1 1837.59,528.06 1838.66,522.01 1839.73,515.97 1840.79,509.92 1841.84,503.88 1842.89,497.83 1843.93,491.78 1844.96,485.73 1845.99,479.68 1847.01,473.63 1848.03,467.57 1849.03,461.52 1850.03,455.46 1851.02,449.41 1852.01,443.35 1852.99,437.29 1853.96,431.23 1854.93,425.17 1855.89,419.11 1856.84,413.04 1857.79,406.98 1858.74,400.91 1859.68,394.85 1860.61,388.78 1861.55,382.72 1862.48,376.65 1863.4,370.58 1864.33,364.52 1865.25,358.45 1866.17,352.38 1867.09,346.31 1868.01,340.24 1868.93,334.17 1869.84,328.11 1870.76,322.04 1871.68,315.97 1872.6,309.9 1873.52,303.83 1874.44,297.76 1875.37,291.7 1876.29,285.63 1877.22,279.56 1878.15,273.5 1879.09,267.43 1880.03,261.36 1880.98,255.3 1881.93,249.24 1882.88,243.17 1883.84,237.11 1884.81,231.05 1885.78,224.99 1886.75,218.93 1887.73,212.87 1888.72,206.82 1889.71,200.76 1890.71,194.7 1891.71,188.65 1892.71,182.59 1893.72,176.54 1894.73,170.49 1895.75,164.43 1896.77,158.38 1897.79,152.33 1898.82,146.28 1899.84,140.23 1900.88,134.18 1901.91,128.13 1902.95,122.08 1903.98,116.03 1905.02,109.98 1906.07,103.93 1907.11,97.88 1908.16,91.83 1909.2,85.78 1910.25,79.74 1911.3,73.69 1912.35,67.64 1913.4,61.59 1914.45,55.55 1915.5,49.5" fill="none" stroke="#008000" stroke-width="8" stroke-linejoin="round"/>
<polygon points="317.5,19.5 343.5,64.5 291.5,64.5" fill="#008000"/>
<polygon points="477.3,337.9 503.3,382.9 451.3,382.9" fill="#008000"/>
<polygon points="637.1,656.6 663.1,701.6 611.1,701.6" fill="#008000"/>
<polygon points="796.9,967 822.9,1012 770.9,1012" fill="#008000"/>
<polygon points="956.7,1243.8 982.7,1288.8 930.7,1288.8" fill="#008000"/>
<polygon points="1116.5,1463.6 1142.5,1508.6 1090.5,1508.6" fill="#008000"/>
<polygon points="1276.3,1612 1302.3,1657 1250.3,1657" fill="#008000"/>
<polygon points="1436.1,1613.8 1462.1,1658.8 1410.1,1658.8" fill="#008000"/>
<polygon points="1595.9,1415.3 1621.9,1460.3 1569.9,1460.3" fill="#008000"/>
<polygon points="1755.7,905.5 1781.7,950.5 1729.7,950.5" fill="#008000"/>
<polygon points="1787.66,754.8 1813.66,799.8 1761.66,799.8" fill="#008000"/>
<polygon points="1819.62,596.7 1845.62,641.7 1793.62,641.7" fill="#008000"/>
<polygon points="1851.58,416 1877.58,461 1825.58,461" fill="#008000"/>
<polygon points="1883.54,209 1909.54,254 1857.54,254" fill="#008000"/>
<polygon points="1915.5,19.5 1941.5,64.5 1889.5,64.5" fill="#008000"/>
</g>
<g id="dt-K">
<polyline points="317.5,49.5 320.02,57.15 322.55,64.79 325.07,72.44 327.59,80.09 330.12,87.73 332.64,95.38 335.16,103.03 337.68,110.67 340.21,118.32 342.73,125.97 345.25,133.61 347.77,141.26 350.29,148.91 352.81,156.56 355.33,164.21 357.85,171.85 360.37,179.5 362.88,187.15 365.4,194.8 367.92,202.45 370.43,210.1 372.94,217.75 375.46,225.4 377.97,233.05 380.48,240.7 382.99,248.35 385.5,256 388.01,263.66 390.52,271.31 393.02,278.96 395.53,286.61 398.03,294.27 400.53,301.92 403.03,309.58 405.53,317.23 408.03,324.89 410.53,332.54 413.02,340.2 415.52,347.86 418.01,355.52 420.5,363.18 422.99,370.83 425.48,378.49 427.96,386.15 430.44,393.82 432.93,401.48 435.41,409.14 437.88,416.8 440.36,424.47 442.83,432.13 445.31,439.8 447.78,447.46 450.24,455.13 452.71,462.8 455.17,470.47 457.64,478.13 460.09,485.81 462.55,493.48 465.01,501.15 467.46,508.82 469.91,516.49 472.36,524.17 474.8,531.84 477.24,539.52 479.68,547.2 482.12,554.88 484.55,562.55 486.99,570.23 489.42,577.91 491.85,585.6 494.27,593.28 496.7,600.96 499.12,608.64 501.54,616.33 503.96,624.01 506.38,631.7 508.8,639.38 511.22,647.07 513.64,654.75 516.05,662.44 518.47,670.12 520.88,677.81 523.29,685.49 525.71,693.18 528.12,700.87 530.54,708.55 532.95,716.24 535.36,723.92 537.78,731.61 540.19,739.29 542.61,746.98 545.02,754.66 547.44,762.35 549.86,770.03 552.28,777.72 554.7,785.4 557.12,793.08 559.54,800.76 561.96,808.44 564.39,816.12 566.82,823.8 569.25,831.48 571.68,839.16 574.11,846.84 576.55,854.51 578.99,862.19 581.43,869.86 583.87,877.53 586.32,885.21 588.77,892.88 591.22,900.54 593.68,908.21 596.13,915.88 598.6,923.54 601.06,931.21 603.53,938.87 606,946.53 608.48,954.19 610.96,961.85 613.45,969.5 615.93,977.16 618.43,984.81 620.93,992.46 623.43,1000.11 625.93,1007.75 628.45,1015.4 630.96,1023.04 633.49,1030.68 636.01,1038.32 638.54,1045.95 641.08,1053.59 643.63,1061.22 646.17,1068.85 648.73,1076.48 651.28,1084.1 653.85,1091.73 656.42,1099.35 658.99,1106.97 661.56,1114.59 664.15,1122.21 666.73,1129.82 669.32,1137.44 671.92,1145.05 674.52,1152.66 677.12,1160.27 679.73,1167.88 682.34,1175.49 684.96,1183.09 687.58,1190.7 690.2,1198.3 692.83,1205.91 695.46,1213.51 698.09,1221.11 700.73,1228.71 703.37,1236.31 706.01,1243.91 708.66,1251.51 711.31,1259.11 713.96,1266.71 716.62,1274.31 719.28,1281.9 721.94,1289.5 724.6,1297.1 727.27,1304.69 729.94,1312.29 732.61,1319.89 735.29,1327.48 737.96,1335.08 740.64,1342.68 743.32,1350.27 746.01,1357.87 748.69,1365.47 751.38,1373.06 754.07,1380.66 756.76,1388.26 759.45,1395.86 762.15,1403.46 764.84,1411.06 767.54,1418.66 770.24,1426.26 772.93,1433.87 775.63,1441.47 778.34,1449.07 781.04,1456.68 783.74,1464.29 786.45,1471.89 789.15,1479.5 791.86,1487.11 794.56,1494.72 797.27,1502.34 799.98,1509.95 802.68,1517.57 805.39,1525.18 808.11,1532.8 810.82,1540.41 813.54,1548.03 816.27,1555.64 819,1563.25 821.74,1570.86 824.48,1578.47 827.23,1586.08 829.99,1593.68 832.76,1601.28 835.54,1608.87 838.32,1616.46 841.12,1624.04 843.93,1631.62 846.76,1639.2 849.59,1646.76 852.44,1654.32 855.31,1661.88 858.19,1669.42 861.08,1676.96 864,1684.49 866.93,1692.01 869.87,1699.52 872.84,1707.02 875.83,1714.52 878.83,1722 881.86,1729.47 884.91,1736.93 887.98,1744.37 891.08,1751.81 894.19,1759.23 897.34,1766.64 900.5,1774.04 903.7,1781.42 906.91,1788.79 910.16,1796.15 913.44,1803.49 916.74,1810.81 920.07,1818.12 923.43,1825.41 926.83,1832.68 930.25,1839.94 933.71,1847.18 937.2,1854.4 940.72,1861.61 944.27,1868.79 947.87,1875.95 951.49,1883.1 955.16,1890.23 958.86,1897.33 962.59,1904.42 966.37,1911.48 970.18,1918.52 974.02,1925.55 977.9,1932.56 981.82,1939.55 985.77,1946.52 989.75,1953.47 993.77,1960.41 997.81,1967.33 1001.89,1974.23 1006,1981.12 1010.15,1988 1014.32,1994.85 1018.52,2001.7 1022.75,2008.53 1027.02,2015.35 1031.31,2022.15 1035.62,2028.94 1039.97,2035.73 1044.34,2042.49 1048.74,2049.25 1053.16,2056 1057.61,2062.74 1062.09,2069.46 1066.59,2076.18 1071.11,2082.89 1075.66,2089.59 1080.23,2096.28 1084.82,2102.97 1089.44,2109.64 1094.07,2116.32 1098.73,2122.98 1103.41,2129.64 1108.11,2136.29 1112.82,2142.94 1117.56,2149.59 1122.32,2156.22 1127.12,2162.83 1131.97,2169.39 1136.89,2175.89 1141.9,2182.3 1147,2188.61 1152.22,2194.8 1157.58,2200.85 1163.08,2206.74 1168.75,2212.45 1174.59,2217.96 1180.63,2223.26 1186.88,2228.32 1193.36,2233.13 1200.08,2237.67 1207.03,2241.91 1214.2,2245.84 1221.57,2249.42 1229.11,2252.63 1236.79,2255.44 1244.61,2257.83 1252.53,2259.78 1260.54,2261.26 1268.61,2262.25 1276.72,2262.71 1284.85,2262.64 1292.97,2262.04 1301.05,2260.94 1309.07,2259.36 1317,2257.32 1324.82,2254.84 1332.48,2251.94 1339.98,2248.63 1347.27,2244.95 1354.34,2240.91 1361.15,2236.52 1367.71,2231.82 1374.03,2226.82 1380.11,2221.55 1385.98,2216.03 1391.65,2210.27 1397.13,2204.3 1402.42,2198.15 1407.55,2191.83 1412.53,2185.36 1417.37,2178.77 1422.08,2172.08 1426.68,2165.31 1431.17,2158.48 1435.58,2151.62 1439.91,2144.73 1444.17,2137.84 1448.36,2130.93 1452.48,2124 1456.54,2117.05 1460.53,2110.08 1464.47,2103.08 1468.36,2096.06 1472.19,2089 1475.97,2081.92 1479.7,2074.81 1483.38,2067.66 1487.02,2060.49 1490.6,2053.28 1494.14,2046.04 1497.62,2038.77 1501.04,2031.47 1504.41,2024.15 1507.72,2016.79 1510.98,2009.41 1514.17,2002.01 1517.3,1994.58 1520.37,1987.12 1523.37,1979.64 1526.31,1972.14 1529.19,1964.61 1532.01,1957.07 1534.78,1949.51 1537.5,1941.93 1540.18,1934.33 1542.82,1926.73 1545.42,1919.1 1547.99,1911.47 1550.53,1903.83 1553.05,1896.18 1555.56,1888.52 1558.04,1880.86 1560.52,1873.19 1562.99,1865.53 1565.46,1857.86 1567.93,1850.19 1570.4,1842.52 1572.88,1834.86 1575.35,1827.19 1577.81,1819.52 1580.26,1811.85 1582.7,1804.18 1585.13,1796.5 1587.53,1788.81 1589.91,1781.12 1592.26,1773.42 1594.59,1765.71 1596.88,1757.99 1599.13,1750.27 1601.36,1742.53 1603.55,1734.78 1605.72,1727.03 1607.86,1719.27 1609.98,1711.5 1612.07,1703.72 1614.15,1695.94 1616.21,1688.16 1618.26,1680.37 1620.29,1672.57 1622.31,1664.78 1624.33,1656.98 1626.33,1649.18 1628.34,1641.37 1630.34,1633.57 1632.34,1625.77 1634.34,1617.96 1636.35,1610.16 1638.37,1602.36 1640.39,1594.57 1642.42,1586.77 1644.45,1578.98 1646.49,1571.18 1648.52,1563.39 1650.55,1555.6 1652.58,1547.8 1654.59,1540.01 1656.6,1532.21 1658.6,1524.41 1660.58,1516.6 1662.55,1508.79 1664.5,1500.98 1666.42,1493.16 1668.33,1485.34 1670.21,1477.51 1672.06,1469.67 1673.88,1461.83 1675.69,1453.99 1677.47,1446.13 1679.24,1438.28 1680.98,1430.41 1682.72,1422.55 1684.43,1414.68 1686.14,1406.81 1687.84,1398.94 1689.53,1391.06 1691.22,1383.19 1692.9,1375.31 1694.58,1367.43 1696.26,1359.56 1697.94,1351.68 1699.63,1343.81 1701.32,1335.93 1703.02,1328.06 1704.72,1320.19 1706.42,1312.32 1708.13,1304.45 1709.84,1296.58 1711.56,1288.71 1713.28,1280.84 1715,1272.98 1716.73,1265.11 1718.46,1257.25 1720.2,1249.38 1721.94,1241.52 1723.68,1233.66 1725.43,1225.8 1727.18,1217.94 1728.93,1210.07 1730.69,1202.21 1732.44,1194.35 1734.19,1186.49 1735.93,1178.63 1737.67,1170.76 1739.41,1162.9 1741.13,1155.03 1742.84,1147.16 1744.55,1139.29 1746.24,1131.42 1747.91,1123.54 1749.57,1115.66 1751.21,1107.78 1752.83,1099.89 1754.44,1092 1756.02,1084.1 1757.58,1076.2 1759.11,1068.3 1760.63,1060.39 1762.12,1052.48 1763.6,1044.56 1765.06,1036.64 1766.5,1028.72 1767.92,1020.8 1769.33,1012.87 1770.73,1004.94 1772.11,997 1773.49,989.07 1774.85,981.13 1776.2,973.19 1777.54,965.25 1778.87,957.3 1780.2,949.36 1781.52,941.41 1782.84,933.47 1784.15,925.52 1785.46,917.57 1786.77,909.62 1788.07,901.68 1789.38,893.73 1790.69,885.78 1791.99,877.83 1793.3,869.89 1794.6,861.94 1795.9,853.99 1797.2,846.04 1798.5,838.1 1799.8,830.15 1801.1,822.2 1802.39,814.25 1803.68,806.3 1804.97,798.35 1806.26,790.41 1807.54,782.46 1808.82,774.51 1810.1,766.55 1811.38,758.6 1812.65,750.65 1813.92,742.7 1815.18,734.75 1816.44,726.79 1817.7,718.84 1818.95,710.88 1820.2,702.93 1821.44,694.97 1822.68,687.01 1823.91,679.06 1825.14,671.1 1826.36,663.14 1827.58,655.18 1828.8,647.22 1830.01,639.26 1831.21,631.29 1832.41,623.33 1833.61,615.37 1834.8,607.4 1835.98,599.44 1837.16,591.47 1838.34,583.5 1839.51,575.53 1840.67,567.57 1841.83,559.6 1842.99,551.63 1844.13,543.65 1845.28,535.68 1846.41,527.71 1847.55,519.74 1848.67,511.76 1849.79,503.79 1850.91,495.81 1852.02,487.84 1853.12,479.86 1854.22,471.88 1855.32,463.9 1856.41,455.92 1857.5,447.94 1858.58,439.96 1859.66,431.98 1860.74,424 1861.82,416.02 1862.9,408.04 1863.97,400.06 1865.05,392.08 1866.12,384.1 1867.2,376.12 1868.28,368.13 1869.36,360.15 1870.44,352.17 1871.52,344.19 1872.61,336.21 1873.7,328.24 1874.8,320.26 1875.9,312.28 1877,304.3 1878.11,296.33 1879.23,288.35 1880.35,280.38 1881.48,272.41 1882.62,264.43 1883.76,256.46 1884.91,248.49 1886.08,240.52 1887.24,232.56 1888.42,224.59 1889.6,216.62 1890.79,208.66 1891.99,200.7 1893.19,192.73 1894.4,184.77 1895.61,176.81 1896.83,168.85 1898.05,160.89 1899.28,152.93 1900.51,144.97 1901.75,137.01 1902.99,129.06 1904.23,121.1 1905.48,113.14 1906.72,105.19 1907.97,97.23 1909.22,89.28 1910.48,81.32 1911.73,73.36 1912.99,65.41 1914.24,57.45 1915.5,49.5" fill="none" stroke="#000000" stroke-width="8" stroke-linejoin="round"/>
<polygon points="317.5,79.5 343.5,34.5 291.5,34.5" fill="#000000"/>
<polygon points="477.3,569.7 503.3,524.7 451.3,524.7" fill="#000000"/>
<polygon points="637.1,1071.6 663.1,1026.6 611.1,1026.6" fill="#000000"/>
<polygon points="796.9,1534.3 822.9,1489.3 770.9,1489.3" fill="#000000"/>
<polygon points="956.7,1932.2 982.7,1887.2 930.7,1887.2" fill="#000000"/>
<polygon points="1116.5,2209.1 1142.5,2164.1 1090.5,2164.1" fill="#000000"/>
<polygon points="1276.3,2328.3 1302.3,2283.3 1250.3,2283.3" fill="#000000"/>
<polygon points="1436.1,2229.8 1462.1,2184.8 1410.1,2184.8" fill="#000000"/>
<polygon points="1595.9,1850.3 1621.9,1805.3 1569.9,1805.3" fill="#000000"/>
<polygon points="1755.7,1126.7 1781.7,1081.7 1729.7,1081.7" fill="#000000"/>
<polygon points="1787.66,942.2 1813.66,897.2 1761.66,897.2" fill="#000000"/>
<polygon points="1819.62,739.1 1845.62,694.1 1793.62,694.1" fill="#000000"/>
<polygon points="1851.58,522 1877.58,477 1825.58,477" fill="#000000"/>
<polygon points="1883.54,293 1909.54,248 1857.54,248" fill="#000000"/>
<polygon points="1915.5,79.5 1941.5,34.5 1889.5,34.5" fill="#000000"/>
</g>
<g id="dt-R">
<polyline points="317.5,49.5 319.99,57.18 322.47,64.86 324.96,72.54 327.44,80.22 329.93,87.9 332.41,95.57 334.9,103.25 337.38,110.93 339.87,118.61 342.35,126.29 344.83,133.97 347.32,141.65 349.8,149.33 352.29,157.01 354.77,164.69 357.25,172.37 359.74,180.05 362.22,187.73 364.7,195.41 367.18,203.09 369.66,210.77 372.14,218.45 374.62,226.13 377.1,233.82 379.58,241.5 382.06,249.18 384.54,256.86 387.02,264.54 389.5,272.22 391.97,279.91 394.45,287.59 396.92,295.27 399.4,302.96 401.87,310.64 404.35,318.32 406.82,326.01 409.29,333.69 411.76,341.37 414.24,349.06 416.71,356.74 419.18,364.43 421.64,372.12 424.11,379.8 426.58,387.49 429.04,395.17 431.51,402.86 433.97,410.55 436.44,418.24 438.9,425.92 441.36,433.61 443.82,441.3 446.28,448.99 448.74,456.68 451.2,464.37 453.65,472.06 456.11,479.75 458.56,487.44 461.02,495.13 463.47,502.83 465.92,510.52 468.37,518.21 470.82,525.9 473.26,533.6 475.71,541.29 478.15,548.99 480.6,556.68 483.04,564.38 485.48,572.07 487.92,579.77 490.36,587.47 492.8,595.17 495.24,602.86 497.67,610.56 500.11,618.26 502.55,625.96 504.98,633.66 507.42,641.35 509.85,649.05 512.29,656.75 514.72,664.45 517.16,672.15 519.59,679.85 522.03,687.54 524.46,695.24 526.9,702.94 529.33,710.64 531.77,718.34 534.21,726.04 536.64,733.73 539.08,741.43 541.52,749.13 543.96,756.82 546.4,764.52 548.84,772.21 551.29,779.91 553.73,787.6 556.17,795.3 558.62,802.99 561.07,810.68 563.52,818.38 565.97,826.07 568.42,833.76 570.88,841.45 573.34,849.14 575.79,856.83 578.25,864.51 580.72,872.2 583.18,879.89 585.65,887.57 588.12,895.26 590.59,902.94 593.06,910.62 595.54,918.3 598.02,925.98 600.5,933.66 602.99,941.34 605.48,949.02 607.97,956.69 610.46,964.37 612.96,972.04 615.46,979.71 617.96,987.38 620.47,995.05 622.98,1002.72 625.5,1010.38 628.01,1018.05 630.54,1025.71 633.06,1033.37 635.59,1041.03 638.12,1048.69 640.66,1056.35 643.2,1064 645.75,1071.66 648.3,1079.31 650.85,1086.96 653.4,1094.61 655.97,1102.26 658.53,1109.9 661.1,1117.55 663.67,1125.19 666.25,1132.83 668.82,1140.47 671.41,1148.11 673.99,1155.75 676.58,1163.39 679.18,1171.03 681.78,1178.66 684.38,1186.3 686.98,1193.93 689.59,1201.56 692.2,1209.19 694.82,1216.82 697.43,1224.45 700.06,1232.08 702.68,1239.71 705.31,1247.34 707.94,1254.96 710.58,1262.59 713.21,1270.21 715.86,1277.84 718.5,1285.46 721.15,1293.08 723.8,1300.7 726.45,1308.33 729.11,1315.95 731.77,1323.57 734.43,1331.19 737.1,1338.81 739.77,1346.43 742.44,1354.05 745.12,1361.66 747.8,1369.28 750.48,1376.9 753.16,1384.52 755.85,1392.14 758.54,1399.75 761.23,1407.37 763.92,1414.99 766.62,1422.61 769.32,1430.22 772.03,1437.84 774.73,1445.46 777.44,1453.07 780.15,1460.69 782.86,1468.31 785.58,1475.93 788.3,1483.55 791.02,1491.16 793.74,1498.78 796.47,1506.4 799.2,1514.02 801.93,1521.64 804.67,1529.26 807.4,1536.87 810.15,1544.49 812.9,1552.11 815.65,1559.72 818.41,1567.33 821.18,1574.94 823.96,1582.55 826.74,1590.15 829.53,1597.75 832.34,1605.35 835.15,1612.94 837.97,1620.53 840.81,1628.11 843.65,1635.69 846.51,1643.26 849.38,1650.83 852.27,1658.39 855.16,1665.94 858.08,1673.49 861.01,1681.03 863.95,1688.56 866.91,1696.08 869.89,1703.6 872.89,1711.11 875.9,1718.61 878.93,1726.1 881.99,1733.57 885.06,1741.04 888.15,1748.5 891.27,1755.95 894.4,1763.39 897.56,1770.81 900.74,1778.23 903.95,1785.63 907.18,1793.02 910.43,1800.4 913.71,1807.76 917.02,1815.11 920.35,1822.45 923.71,1829.77 927.1,1837.08 930.51,1844.37 933.96,1851.65 937.43,1858.91 940.93,1866.16 944.47,1873.39 948.03,1880.6 951.63,1887.8 955.26,1894.98 958.93,1902.14 962.62,1909.29 966.35,1916.41 970.11,1923.52 973.91,1930.62 977.74,1937.69 981.6,1944.75 985.49,1951.79 989.42,1958.81 993.37,1965.82 997.36,1972.81 1001.39,1979.79 1005.44,1986.74 1009.53,1993.69 1013.64,2000.61 1017.79,2007.52 1021.97,2014.41 1026.18,2021.29 1030.43,2028.15 1034.7,2035 1039.01,2041.83 1043.34,2048.65 1047.71,2055.45 1052.1,2062.23 1056.53,2069 1060.99,2075.76 1065.48,2082.5 1070,2089.23 1074.54,2095.94 1079.12,2102.64 1083.73,2109.32 1088.37,2115.99 1093.03,2122.65 1097.73,2129.29 1102.45,2135.91 1107.21,2142.53 1111.99,2149.13 1116.8,2155.72 1121.65,2162.29 1126.54,2168.82 1131.48,2175.31 1136.51,2181.73 1141.61,2188.07 1146.83,2194.3 1152.16,2200.41 1157.62,2206.39 1163.22,2212.2 1168.99,2217.85 1174.93,2223.3 1181.07,2228.55 1187.41,2233.56 1193.96,2238.34 1200.75,2242.85 1207.77,2247.07 1214.99,2250.99 1222.39,2254.56 1229.95,2257.77 1237.66,2260.58 1245.48,2262.98 1253.41,2264.93 1261.42,2266.41 1269.48,2267.38 1277.58,2267.84 1285.7,2267.75 1293.81,2267.13 1301.89,2266.02 1309.9,2264.43 1317.84,2262.39 1325.67,2259.91 1333.36,2257.02 1340.9,2253.74 1348.25,2250.09 1355.4,2246.1 1362.31,2241.79 1369,2237.18 1375.47,2232.28 1381.72,2227.12 1387.77,2221.71 1393.62,2216.07 1399.27,2210.22 1404.74,2204.18 1410.03,2197.97 1415.15,2191.6 1420.11,2185.1 1424.91,2178.48 1429.56,2171.76 1434.07,2164.96 1438.44,2158.09 1442.69,2151.18 1446.82,2144.21 1450.85,2137.21 1454.79,2130.16 1458.65,2123.08 1462.43,2115.96 1466.16,2108.82 1469.84,2101.65 1473.49,2094.46 1477.1,2087.26 1480.7,2080.04 1484.29,2072.81 1487.84,2065.56 1491.37,2058.3 1494.87,2051.02 1498.33,2043.72 1501.75,2036.4 1505.13,2029.06 1508.45,2021.7 1511.72,2014.32 1514.94,2006.91 1518.09,1999.48 1521.18,1992.02 1524.2,1984.54 1527.15,1977.03 1530.03,1969.49 1532.85,1961.93 1535.61,1954.35 1538.33,1946.74 1540.99,1939.13 1543.61,1931.49 1546.2,1923.84 1548.75,1916.18 1551.27,1908.51 1553.77,1900.83 1556.25,1893.14 1558.72,1885.45 1561.18,1877.75 1563.63,1870.06 1566.09,1862.36 1568.55,1854.67 1571.01,1846.98 1573.48,1839.29 1575.94,1831.6 1578.4,1823.91 1580.85,1816.21 1583.28,1808.52 1585.7,1800.82 1588.1,1793.11 1590.47,1785.4 1592.82,1777.68 1595.14,1769.95 1597.43,1762.21 1599.68,1754.47 1601.91,1746.71 1604.1,1738.94 1606.27,1731.17 1608.41,1723.39 1610.53,1715.6 1612.63,1707.81 1614.71,1700.01 1616.78,1692.2 1618.83,1684.4 1620.87,1676.59 1622.9,1668.77 1624.93,1660.95 1626.94,1653.14 1628.96,1645.32 1630.97,1637.5 1632.99,1629.68 1635,1621.86 1637.02,1614.04 1639.05,1606.22 1641.09,1598.41 1643.13,1590.6 1645.17,1582.79 1647.22,1574.98 1649.26,1567.17 1651.3,1559.36 1653.33,1551.54 1655.35,1543.73 1657.37,1535.91 1659.37,1528.09 1661.35,1520.27 1663.32,1512.44 1665.27,1504.61 1667.2,1496.77 1669.1,1488.93 1670.97,1481.08 1672.82,1473.22 1674.65,1465.36 1676.45,1457.5 1678.23,1449.62 1680,1441.75 1681.75,1433.87 1683.48,1425.98 1685.2,1418.09 1686.91,1410.21 1688.62,1402.31 1690.31,1394.42 1692,1386.53 1693.69,1378.63 1695.38,1370.74 1697.06,1362.84 1698.76,1354.95 1700.45,1347.06 1702.15,1339.16 1703.85,1331.27 1705.56,1323.39 1707.27,1315.5 1708.99,1307.61 1710.71,1299.72 1712.44,1291.84 1714.17,1283.95 1715.9,1276.07 1717.64,1268.19 1719.38,1260.31 1721.13,1252.42 1722.88,1244.54 1724.64,1236.67 1726.4,1228.79 1728.16,1220.91 1729.93,1213.03 1731.69,1205.15 1733.46,1197.28 1735.22,1189.4 1736.97,1181.52 1738.72,1173.63 1740.46,1165.75 1742.19,1157.87 1743.9,1149.98 1745.61,1142.09 1747.29,1134.19 1748.96,1126.3 1750.61,1118.4 1752.24,1110.49 1753.85,1102.58 1755.43,1094.67 1756.99,1086.75 1758.52,1078.82 1760.02,1070.9 1761.51,1062.96 1762.97,1055.03 1764.42,1047.09 1765.85,1039.14 1767.26,1031.19 1768.65,1023.24 1770.03,1015.29 1771.4,1007.33 1772.75,999.38 1774.1,991.42 1775.44,983.45 1776.77,975.49 1778.1,967.53 1779.42,959.56 1780.73,951.6 1782.05,943.63 1783.37,935.67 1784.69,927.7 1786.01,919.74 1787.33,911.77 1788.66,903.81 1790,895.85 1791.34,887.88 1792.68,879.92 1794.03,871.96 1795.38,864.01 1796.73,856.05 1798.08,848.09 1799.43,840.13 1800.78,832.17 1802.14,824.21 1803.49,816.25 1804.83,808.3 1806.18,800.34 1807.52,792.38 1808.85,784.42 1810.18,776.45 1811.51,768.49 1812.82,760.53 1814.13,752.57 1815.44,744.6 1816.73,736.63 1818.01,728.66 1819.29,720.69 1820.55,712.72 1821.8,704.75 1823.04,696.77 1824.28,688.8 1825.5,680.82 1826.71,672.84 1827.92,664.86 1829.11,656.87 1830.3,648.89 1831.48,640.9 1832.65,632.92 1833.82,624.93 1834.98,616.94 1836.13,608.95 1837.28,600.96 1838.42,592.97 1839.56,584.98 1840.69,576.98 1841.82,568.99 1842.94,561 1844.07,553 1845.18,545.01 1846.3,537.01 1847.41,529.02 1848.52,521.02 1849.64,513.03 1850.74,505.03 1851.85,497.03 1852.96,489.04 1854.07,481.04 1855.18,473.04 1856.28,465.05 1857.39,457.05 1858.5,449.06 1859.61,441.06 1860.71,433.07 1861.82,425.07 1862.93,417.07 1864.04,409.08 1865.15,401.08 1866.26,393.09 1867.38,385.09 1868.49,377.1 1869.6,369.1 1870.72,361.11 1871.83,353.11 1872.95,345.12 1874.07,337.13 1875.19,329.13 1876.31,321.14 1877.44,313.15 1878.56,305.15 1879.69,297.16 1880.82,289.17 1881.95,281.17 1883.09,273.18 1884.22,265.19 1885.36,257.2 1886.5,249.21 1887.65,241.22 1888.79,233.23 1889.94,225.24 1891.09,217.25 1892.24,209.26 1893.39,201.27 1894.55,193.28 1895.7,185.29 1896.86,177.3 1898.02,169.31 1899.18,161.33 1900.34,153.34 1901.5,145.35 1902.66,137.36 1903.83,129.37 1904.99,121.39 1906.16,113.4 1907.32,105.41 1908.49,97.42 1909.66,89.44 1910.83,81.45 1911.99,73.46 1913.16,65.47 1914.33,57.49 1915.5,49.5" fill="none" stroke="#ff0000" stroke-width="8" stroke-linejoin="round"/>
<polygon points="317.5,79.5 343.5,34.5 291.5,34.5" fill="#ff0000"/>
<polygon points="477.3,576.3 503.3,531.3 451.3,531.3" fill="#ff0000"/>
<polygon points="637.1,1075.6 663.1,1030.6 611.1,1030.6" fill="#ff0000"/>
<polygon points="796.9,1540.6 822.9,1495.6 770.9,1495.6" fill="#ff0000"/>
<polygon points="956.7,1936.8 982.7,1891.8 930.7,1891.8" fill="#ff0000"/>
<polygon points="1116.5,2215.3 1142.5,2170.3 1090.5,2170.3" fill="#ff0000"/>
<polygon points="1276.3,2333.3 1302.3,2288.3 1250.3,2288.3" fill="#ff0000"/>
<polygon points="1436.1,2237.8 1462.1,2192.8 1410.1,2192.8" fill="#ff0000"/>
<polygon points="1595.9,1856.4 1621.9,1811.4 1569.9,1811.4" fill="#ff0000"/>
<polygon points="1755.7,1134.3 1781.7,1089.3 1729.7,1089.3" fill="#ff0000"/>
<polygon points="1787.66,947.8 1813.66,902.8 1761.66,902.8" fill="#ff0000"/>
<polygon points="1819.62,751.1 1845.62,706.1 1793.62,706.1" fill="#ff0000"/>
<polygon points="1851.58,530 1877.58,485 1825.58,485" fill="#ff0000"/>
<polygon points="1883.54,305 1909.54,260 1857.54,260" fill="#ff0000"/>
<polygon points="1915.5,79.5 1941.5,34.5 1889.5,34.5" fill="#ff0000"/>
</g>
<g id="dt-B">
<polyline points="317.5,49.5 319.95,57.25 322.4,65.01 324.84,72.76 327.29,80.52 329.74,88.27 332.19,96.03 334.64,103.78 337.08,111.53 339.53,119.29 341.98,127.04 344.43,134.8 346.88,142.55 349.32,150.3 351.77,158.06 354.22,165.81 356.67,173.57 359.11,181.32 361.56,189.08 364.01,196.83 366.46,204.59 368.9,212.34 371.35,220.09 373.8,227.85 376.25,235.6 378.69,243.36 381.14,251.11 383.59,258.87 386.03,266.62 388.48,274.38 390.93,282.13 393.37,289.89 395.82,297.64 398.27,305.4 400.71,313.15 403.16,320.91 405.61,328.66 408.05,336.42 410.5,344.17 412.94,351.93 415.39,359.69 417.84,367.44 420.28,375.2 422.73,382.95 425.17,390.71 427.62,398.46 430.06,406.22 432.51,413.98 434.95,421.73 437.39,429.49 439.84,437.24 442.28,445 444.73,452.76 447.17,460.51 449.61,468.27 452.06,476.03 454.5,483.78 456.94,491.54 459.39,499.3 461.83,507.05 464.27,514.81 466.71,522.57 469.16,530.33 471.6,538.08 474.04,545.84 476.48,553.6 478.92,561.36 481.36,569.12 483.81,576.87 486.25,584.63 488.69,592.39 491.13,600.15 493.57,607.91 496.01,615.66 498.45,623.42 500.9,631.18 503.34,638.94 505.78,646.7 508.22,654.45 510.67,662.21 513.11,669.97 515.56,677.72 518.01,685.48 520.45,693.24 522.9,700.99 525.35,708.75 527.8,716.5 530.25,724.26 532.7,732.01 535.16,739.77 537.61,747.52 540.07,755.27 542.52,763.03 544.98,770.78 547.44,778.53 549.91,786.28 552.37,794.03 554.84,801.78 557.3,809.53 559.77,817.28 562.24,825.03 564.72,832.77 567.19,840.52 569.67,848.27 572.15,856.01 574.63,863.76 577.11,871.5 579.6,879.24 582.09,886.98 584.58,894.72 587.07,902.46 589.57,910.2 592.07,917.94 594.57,925.68 597.07,933.41 599.58,941.15 602.09,948.88 604.6,956.61 607.12,964.35 609.64,972.08 612.16,979.8 614.69,987.53 617.22,995.26 619.75,1002.99 622.28,1010.71 624.82,1018.43 627.37,1026.15 629.91,1033.88 632.46,1041.59 635.02,1049.31 637.57,1057.03 640.14,1064.74 642.7,1072.46 645.27,1080.17 647.84,1087.88 650.42,1095.59 653,1103.3 655.58,1111.01 658.17,1118.71 660.76,1126.42 663.35,1134.12 665.95,1141.82 668.55,1149.52 671.16,1157.22 673.77,1164.92 676.38,1172.62 678.99,1180.31 681.61,1188.01 684.23,1195.7 686.86,1203.4 689.49,1211.09 692.12,1218.78 694.75,1226.47 697.39,1234.16 700.03,1241.85 702.67,1249.54 705.32,1257.22 707.97,1264.91 710.62,1272.59 713.28,1280.28 715.94,1287.96 718.6,1295.65 721.26,1303.33 723.93,1311.01 726.6,1318.69 729.27,1326.37 731.94,1334.05 734.62,1341.73 737.3,1349.4 739.99,1357.08 742.67,1364.76 745.36,1372.44 748.05,1380.11 750.74,1387.79 753.44,1395.46 756.14,1403.14 758.84,1410.81 761.54,1418.48 764.24,1426.16 766.95,1433.83 769.66,1441.5 772.37,1449.17 775.08,1456.84 777.8,1464.52 780.52,1472.19 783.24,1479.86 785.96,1487.53 788.68,1495.2 791.41,1502.87 794.14,1510.54 796.87,1518.21 799.6,1525.88 802.33,1533.55 805.07,1541.22 807.81,1548.89 810.56,1556.55 813.31,1564.22 816.06,1571.88 818.82,1579.54 821.59,1587.2 824.36,1594.86 827.14,1602.51 829.93,1610.16 832.73,1617.81 835.54,1625.45 838.36,1633.09 841.18,1640.73 844.02,1648.36 846.87,1655.99 849.74,1663.61 852.61,1671.22 855.5,1678.83 858.4,1686.44 861.32,1694.04 864.25,1701.63 867.19,1709.22 870.15,1716.8 873.13,1724.37 876.13,1731.93 879.14,1739.49 882.18,1747.04 885.23,1754.58 888.3,1762.11 891.39,1769.63 894.5,1777.15 897.63,1784.65 900.78,1792.15 903.96,1799.63 907.16,1807.11 910.38,1814.57 913.62,1822.03 916.9,1829.47 920.19,1836.9 923.51,1844.32 926.86,1851.73 930.23,1859.13 933.63,1866.51 937.06,1873.88 940.52,1881.24 944.01,1888.59 947.52,1895.92 951.07,1903.24 954.65,1910.54 958.26,1917.83 961.9,1925.11 965.57,1932.37 969.27,1939.62 973.01,1946.85 976.78,1954.06 980.58,1961.26 984.42,1968.44 988.29,1975.6 992.19,1982.75 996.13,1989.87 1000.1,1996.98 1004.11,2004.07 1008.15,2011.14 1012.22,2018.19 1016.34,2025.22 1020.48,2032.23 1024.67,2039.22 1028.88,2046.18 1033.14,2053.13 1037.43,2060.05 1041.76,2066.95 1046.13,2073.82 1050.53,2080.68 1054.97,2087.5 1059.45,2094.31 1063.97,2101.09 1068.53,2107.84 1073.12,2114.57 1077.76,2121.27 1082.43,2127.95 1087.15,2134.6 1091.9,2141.22 1096.69,2147.81 1101.52,2154.38 1106.4,2160.91 1111.31,2167.42 1116.27,2173.9 1121.27,2180.35 1126.32,2186.75 1131.44,2193.1 1136.63,2199.39 1141.92,2205.59 1147.3,2211.7 1152.8,2217.7 1158.42,2223.58 1164.19,2229.33 1170.1,2234.94 1176.17,2240.39 1182.42,2245.67 1188.85,2250.76 1195.49,2255.66 1202.33,2260.35 1209.37,2264.8 1216.59,2268.96 1223.98,2272.8 1231.52,2276.27 1239.19,2279.35 1246.98,2281.98 1254.87,2284.13 1262.85,2285.75 1270.88,2286.82 1278.97,2287.28 1287.09,2287.13 1295.21,2286.4 1303.3,2285.11 1311.34,2283.31 1319.29,2281.01 1327.13,2278.26 1334.83,2275.09 1342.37,2271.52 1349.7,2267.6 1356.82,2263.35 1363.69,2258.81 1370.32,2253.98 1376.73,2248.9 1382.92,2243.58 1388.92,2238.03 1394.71,2232.28 1400.33,2226.34 1405.78,2220.22 1411.07,2213.96 1416.2,2207.57 1421.2,2201.06 1426.08,2194.45 1430.83,2187.76 1435.48,2181.01 1440.03,2174.22 1444.5,2167.39 1448.87,2160.51 1453.17,2153.59 1457.38,2146.64 1461.51,2139.65 1465.57,2132.61 1469.55,2125.54 1473.47,2118.43 1477.32,2111.28 1481.11,2104.09 1484.84,2096.87 1488.5,2089.61 1492.1,2082.32 1495.64,2074.99 1499.12,2067.63 1502.53,2060.25 1505.89,2052.83 1509.18,2045.38 1512.4,2037.9 1515.57,2030.4 1518.67,2022.88 1521.71,2015.33 1524.68,2007.76 1527.6,2000.16 1530.46,1992.55 1533.27,1984.92 1536.03,1977.27 1538.75,1969.6 1541.42,1961.92 1544.06,1954.23 1546.67,1946.53 1549.24,1938.81 1551.8,1931.09 1554.33,1923.36 1556.85,1915.63 1559.35,1907.89 1561.85,1900.15 1564.34,1892.4 1566.83,1884.66 1569.33,1876.92 1571.82,1869.17 1574.31,1861.43 1576.8,1853.69 1579.28,1845.94 1581.74,1838.19 1584.19,1830.43 1586.61,1822.67 1589.02,1814.91 1591.4,1807.13 1593.74,1799.35 1596.06,1791.56 1598.34,1783.75 1600.59,1775.94 1602.81,1768.12 1604.99,1760.29 1607.15,1752.45 1609.29,1744.61 1611.4,1736.75 1613.5,1728.9 1615.57,1721.03 1617.63,1713.17 1619.68,1705.29 1621.71,1697.42 1623.74,1689.54 1625.76,1681.66 1627.77,1673.78 1629.78,1665.9 1631.79,1658.02 1633.8,1650.14 1635.82,1642.26 1637.84,1634.38 1639.87,1626.5 1641.91,1618.63 1643.95,1610.75 1646,1602.88 1648.04,1595.01 1650.08,1587.14 1652.12,1579.26 1654.15,1571.39 1656.17,1563.51 1658.18,1555.63 1660.18,1547.75 1662.16,1539.86 1664.12,1531.97 1666.06,1524.08 1667.98,1516.18 1669.87,1508.27 1671.74,1500.36 1673.58,1492.44 1675.4,1484.51 1677.2,1476.58 1678.97,1468.65 1680.73,1460.71 1682.48,1452.76 1684.21,1444.82 1685.93,1436.87 1687.64,1428.92 1689.34,1420.97 1691.03,1413.01 1692.73,1405.06 1694.42,1397.1 1696.11,1389.15 1697.8,1381.19 1699.49,1373.24 1701.19,1365.28 1702.9,1357.33 1704.6,1349.38 1706.31,1341.43 1708.03,1333.48 1709.75,1325.54 1711.48,1317.59 1713.21,1309.64 1714.94,1301.7 1716.68,1293.76 1718.42,1285.81 1720.17,1277.87 1721.92,1269.93 1723.68,1261.99 1725.44,1254.05 1727.2,1246.11 1728.97,1238.17 1730.74,1230.23 1732.51,1222.3 1734.28,1214.36 1736.04,1206.42 1737.79,1198.47 1739.54,1190.53 1741.28,1182.59 1743,1174.64 1744.71,1166.69 1746.41,1158.74 1748.09,1150.78 1749.75,1142.82 1751.4,1134.86 1753.01,1126.89 1754.61,1118.92 1756.18,1110.94 1757.73,1102.96 1759.24,1094.97 1760.74,1086.98 1762.21,1078.98 1763.67,1070.98 1765.1,1062.98 1766.51,1054.97 1767.91,1046.96 1769.29,1038.95 1770.66,1030.93 1772.02,1022.91 1773.36,1014.89 1774.69,1006.87 1776.02,998.84 1777.33,990.82 1778.64,982.79 1779.95,974.76 1781.25,966.73 1782.55,958.71 1783.85,950.68 1785.15,942.65 1786.45,934.62 1787.76,926.59 1789.07,918.56 1790.38,910.54 1791.7,902.51 1793.02,894.49 1794.34,886.46 1795.66,878.44 1796.99,870.41 1798.31,862.39 1799.64,854.37 1800.96,846.34 1802.28,838.32 1803.6,830.29 1804.92,822.27 1806.24,814.25 1807.55,806.22 1808.86,798.19 1810.16,790.17 1811.46,782.14 1812.75,774.11 1814.03,766.08 1815.31,758.05 1816.58,750.02 1817.84,741.99 1819.1,733.96 1820.34,725.92 1821.58,717.88 1822.81,709.85 1824.02,701.81 1825.23,693.76 1826.43,685.72 1827.63,677.68 1828.82,669.63 1829.99,661.59 1831.17,653.54 1832.33,645.49 1833.49,637.44 1834.65,629.4 1835.8,621.34 1836.94,613.29 1838.08,605.24 1839.22,597.19 1840.35,589.14 1841.47,581.08 1842.6,573.03 1843.72,564.97 1844.84,556.92 1845.95,548.86 1847.06,540.81 1848.17,532.75 1849.28,524.69 1850.39,516.64 1851.5,508.58 1852.61,500.52 1853.71,492.47 1854.82,484.41 1855.93,476.35 1857.03,468.3 1858.14,460.24 1859.24,452.18 1860.35,444.13 1861.45,436.07 1862.56,428.01 1863.67,419.96 1864.77,411.9 1865.88,403.84 1866.99,395.79 1868.09,387.73 1869.2,379.68 1870.31,371.62 1871.42,363.56 1872.53,355.51 1873.64,347.45 1874.75,339.4 1875.86,331.34 1876.98,323.29 1878.09,315.23 1879.21,307.18 1880.32,299.12 1881.44,291.07 1882.56,283.01 1883.68,274.96 1884.81,266.91 1885.93,258.85 1887.06,250.8 1888.18,242.75 1889.31,234.69 1890.44,226.64 1891.57,218.59 1892.71,210.53 1893.84,202.48 1894.97,194.43 1896.11,186.38 1897.24,178.32 1898.38,170.27 1899.52,162.22 1900.66,154.17 1901.8,146.12 1902.94,138.07 1904.08,130.01 1905.22,121.96 1906.36,113.91 1907.5,105.86 1908.64,97.81 1909.78,89.76 1910.93,81.7 1912.07,73.65 1913.21,65.6 1914.36,57.55 1915.5,49.5" fill="none" stroke="#0000ff" stroke-width="8" stroke-linejoin="round"/>
<polygon points="317.5,79.5 343.5,34.5 291.5,34.5" fill="#0000ff"/>
<polygon points="477.3,586.2 503.3,541.2 451.3,541.2" fill="#0000ff"/>
<polygon points="637.1,1085.6 663.1,1040.6 611.1,1040.6" fill="#0000ff"/>
<polygon points="796.9,1551.3 822.9,1506.3 770.9,1506.3" fill="#0000ff"/>
<polygon points="956.7,1953.7 982.7,1908.7 930.7,1908.7" fill="#0000ff"/>
<polygon points="1116.5,2232.2 1142.5,2187.2 1090.5,2187.2" fill="#0000ff"/>
<polygon points="1276.3,2352.9 1302.3,2307.9 1250.3,2307.9" fill="#0000ff"/>
<polygon points="1436.1,2262.1 1462.1,2217.1 1410.1,2217.1" fill="#0000ff"/>
<polygon points="1595.9,1881.1 1621.9,1836.1 1569.9,1836.1" fill="#0000ff"/>
<polygon points="1755.7,1154.4 1781.7,1109.4 1729.7,1109.4" fill="#0000ff"/>
<polygon points="1787.66,965.2 1813.66,920.2 1761.66,920.2" fill="#0000ff"/>
<polygon points="1819.62,763.1 1845.62,718.1 1793.62,718.1" fill="#0000ff"/>
<polygon points="1851.58,539 1877.58,494 1825.58,494" fill="#0000ff"/>
<polygon points="1883.54,311 1909.54,266 1857.54,266" fill="#0000ff"/>
<polygon points="1915.5,79.5 1941.5,34.5 1889.5,34.5" fill="#0000ff"/>
</g>
<g id="dt-G">
<polyline points="317.5,49.5 319.91,57.3 322.33,65.11 324.74,72.91 327.16,80.72 329.57,88.52 331.99,96.33 334.4,104.13 336.82,111.94 339.23,119.74 341.65,127.55 344.06,135.35 346.48,143.16 348.89,150.96 351.31,158.77 353.72,166.57 356.14,174.38 358.56,182.18 360.97,189.99 363.39,197.79 365.8,205.6 368.22,213.4 370.64,221.21 373.05,229.01 375.47,236.82 377.88,244.62 380.3,252.43 382.72,260.23 385.14,268.04 387.55,275.84 389.97,283.64 392.39,291.45 394.81,299.25 397.22,307.06 399.64,314.86 402.06,322.67 404.48,330.47 406.9,338.27 409.32,346.08 411.74,353.88 414.16,361.69 416.57,369.49 418.99,377.29 421.42,385.1 423.84,392.9 426.26,400.71 428.68,408.51 431.1,416.31 433.52,424.12 435.94,431.92 438.36,439.72 440.79,447.53 443.21,455.33 445.63,463.13 448.06,470.94 450.48,478.74 452.9,486.54 455.33,494.35 457.75,502.15 460.18,509.95 462.6,517.75 465.03,525.56 467.46,533.36 469.88,541.16 472.31,548.96 474.74,556.77 477.17,564.57 479.59,572.37 482.02,580.17 484.45,587.97 486.88,595.78 489.31,603.58 491.74,611.38 494.17,619.18 496.61,626.98 499.04,634.78 501.47,642.58 503.91,650.38 506.35,658.18 508.78,665.98 511.22,673.78 513.66,681.58 516.1,689.38 518.54,697.18 520.98,704.98 523.43,712.77 525.87,720.57 528.32,728.37 530.77,736.16 533.22,743.96 535.67,751.75 538.12,759.55 540.58,767.34 543.03,775.14 545.49,782.93 547.95,790.72 550.41,798.51 552.87,806.3 555.34,814.09 557.81,821.88 560.28,829.67 562.75,837.46 565.22,845.25 567.7,853.03 570.18,860.82 572.66,868.6 575.14,876.39 577.62,884.17 580.11,891.95 582.6,899.74 585.09,907.52 587.59,915.3 590.09,923.07 592.59,930.85 595.09,938.63 597.6,946.41 600.1,954.18 602.62,961.95 605.13,969.73 607.65,977.5 610.17,985.27 612.69,993.04 615.22,1000.81 617.75,1008.57 620.28,1016.34 622.82,1024.11 625.36,1031.87 627.9,1039.63 630.45,1047.39 633,1055.15 635.56,1062.91 638.11,1070.67 640.67,1078.43 643.24,1086.18 645.81,1093.93 648.38,1101.69 650.95,1109.44 653.53,1117.19 656.12,1124.94 658.7,1132.68 661.29,1140.43 663.88,1148.18 666.48,1155.92 669.08,1163.66 671.69,1171.4 674.29,1179.14 676.9,1186.88 679.52,1194.62 682.14,1202.36 684.76,1210.09 687.38,1217.83 690.01,1225.56 692.64,1233.29 695.28,1241.02 697.92,1248.76 700.56,1256.48 703.2,1264.21 705.85,1271.94 708.51,1279.67 711.16,1287.39 713.82,1295.12 716.48,1302.84 719.15,1310.56 721.82,1318.28 724.49,1326 727.17,1333.72 729.85,1341.44 732.53,1349.16 735.22,1356.87 737.91,1364.59 740.6,1372.3 743.3,1380.02 746,1387.73 748.7,1395.44 751.41,1403.15 754.12,1410.86 756.83,1418.57 759.54,1426.28 762.26,1433.99 764.99,1441.7 767.71,1449.4 770.44,1457.11 773.18,1464.81 775.91,1472.52 778.65,1480.22 781.39,1487.92 784.14,1495.62 786.89,1503.33 789.64,1511.03 792.39,1518.73 795.15,1526.42 797.91,1534.12 800.68,1541.82 803.45,1549.52 806.22,1557.21 809,1564.91 811.78,1572.6 814.57,1580.29 817.37,1587.98 820.17,1595.66 822.98,1603.34 825.8,1611.02 828.62,1618.7 831.46,1626.37 834.31,1634.04 837.16,1641.71 840.03,1649.37 842.9,1657.02 845.79,1664.67 848.69,1672.32 851.61,1679.96 854.53,1687.6 857.47,1695.23 860.43,1702.85 863.4,1710.47 866.38,1718.08 869.38,1725.69 872.4,1733.29 875.43,1740.88 878.48,1748.46 881.55,1756.04 884.63,1763.61 887.74,1771.16 890.86,1778.72 894,1786.26 897.17,1793.79 900.35,1801.32 903.56,1808.83 906.79,1816.34 910.04,1823.83 913.31,1831.32 916.61,1838.79 919.93,1846.26 923.27,1853.71 926.64,1861.15 930.04,1868.58 933.46,1876 936.91,1883.41 940.38,1890.8 943.89,1898.19 947.42,1905.56 950.97,1912.91 954.56,1920.26 958.18,1927.59 961.83,1934.91 965.5,1942.21 969.21,1949.5 972.95,1956.77 976.72,1964.03 980.53,1971.27 984.36,1978.5 988.23,1985.7 992.13,1992.9 996.06,2000.07 1000.03,2007.22 1004.03,2014.36 1008.06,2021.48 1012.13,2028.58 1016.24,2035.65 1020.38,2042.71 1024.55,2049.75 1028.76,2056.76 1033.01,2063.76 1037.29,2070.73 1041.61,2077.68 1045.97,2084.6 1050.36,2091.51 1054.8,2098.38 1059.27,2105.24 1063.78,2112.07 1068.33,2118.87 1072.92,2125.65 1077.55,2132.4 1082.22,2139.12 1086.93,2145.82 1091.68,2152.49 1096.47,2159.13 1101.3,2165.75 1106.18,2172.33 1111.09,2178.89 1116.05,2185.41 1121.05,2191.91 1126.11,2198.36 1131.24,2204.75 1136.44,2211.08 1141.73,2217.33 1147.13,2223.48 1152.64,2229.52 1158.28,2235.45 1164.06,2241.24 1169.99,2246.88 1176.09,2252.36 1182.36,2257.67 1188.82,2262.8 1195.48,2267.72 1202.35,2272.43 1209.42,2276.9 1216.68,2281.07 1224.11,2284.92 1231.68,2288.4 1239.4,2291.48 1247.22,2294.11 1255.15,2296.26 1263.17,2297.88 1271.25,2298.94 1279.38,2299.4 1287.53,2299.24 1295.69,2298.5 1303.83,2297.21 1311.9,2295.39 1319.9,2293.09 1327.78,2290.33 1335.52,2287.14 1343.09,2283.56 1350.46,2279.61 1357.61,2275.34 1364.51,2270.76 1371.18,2265.9 1377.61,2260.77 1383.83,2255.4 1389.83,2249.8 1395.64,2243.98 1401.25,2237.98 1406.68,2231.79 1411.94,2225.45 1417.03,2218.97 1421.97,2212.36 1426.77,2205.65 1431.44,2198.85 1435.98,2191.99 1440.4,2185.07 1444.72,2178.1 1448.94,2171.09 1453.07,2164.03 1457.12,2156.94 1461.09,2149.81 1465,2142.64 1468.84,2135.45 1472.64,2128.22 1476.4,2120.98 1480.12,2113.71 1483.8,2106.42 1487.45,2099.11 1491.06,2091.77 1494.62,2084.41 1498.14,2077.03 1501.6,2069.63 1505.02,2062.2 1508.38,2054.74 1511.68,2047.26 1514.92,2039.76 1518.1,2032.23 1521.21,2024.68 1524.26,2017.09 1527.23,2009.49 1530.14,2001.85 1532.99,1994.2 1535.79,1986.52 1538.53,1978.83 1541.23,1971.12 1543.89,1963.39 1546.51,1955.65 1549.1,1947.9 1551.66,1940.13 1554.2,1932.36 1556.72,1924.59 1559.23,1916.81 1561.73,1909.02 1564.22,1901.24 1566.72,1893.45 1569.22,1885.67 1571.72,1877.89 1574.23,1870.11 1576.72,1862.33 1579.21,1854.54 1581.69,1846.76 1584.16,1838.97 1586.6,1831.17 1589.02,1823.37 1591.42,1815.56 1593.79,1807.75 1596.13,1799.92 1598.43,1792.09 1600.71,1784.24 1602.95,1776.39 1605.16,1768.52 1607.35,1760.65 1609.51,1752.77 1611.65,1744.89 1613.77,1737 1615.87,1729.1 1617.96,1721.2 1620.04,1713.3 1622.1,1705.39 1624.16,1697.48 1626.21,1689.57 1628.25,1681.66 1630.29,1673.75 1632.34,1665.83 1634.38,1657.92 1636.43,1650.01 1638.49,1642.1 1640.55,1634.19 1642.62,1626.28 1644.69,1618.38 1646.77,1610.47 1648.84,1602.57 1650.91,1594.67 1652.97,1586.76 1655.03,1578.85 1657.07,1570.94 1659.1,1563.03 1661.12,1555.11 1663.12,1547.19 1665.1,1539.26 1667.05,1531.33 1668.98,1523.39 1670.89,1515.45 1672.76,1507.5 1674.62,1499.54 1676.44,1491.58 1678.25,1483.61 1680.04,1475.64 1681.81,1467.67 1683.57,1459.69 1685.32,1451.7 1687.05,1443.72 1688.78,1435.73 1690.5,1427.74 1692.21,1419.75 1693.92,1411.76 1695.63,1403.77 1697.35,1395.78 1699.06,1387.79 1700.78,1379.81 1702.51,1371.82 1704.23,1363.83 1705.97,1355.85 1707.71,1347.87 1709.45,1339.88 1711.19,1331.9 1712.94,1323.92 1714.7,1315.94 1716.46,1307.96 1718.22,1299.99 1719.99,1292.01 1721.77,1284.03 1723.55,1276.06 1725.33,1268.09 1727.12,1260.11 1728.91,1252.14 1730.7,1244.17 1732.49,1236.19 1734.27,1228.22 1736.06,1220.25 1737.83,1212.27 1739.6,1204.29 1741.36,1196.31 1743.11,1188.33 1744.84,1180.35 1746.56,1172.36 1748.26,1164.37 1749.94,1156.37 1751.6,1148.37 1753.24,1140.37 1754.85,1132.36 1756.44,1124.35 1758,1116.33 1759.54,1108.31 1761.05,1100.28 1762.54,1092.25 1764.01,1084.21 1765.46,1076.17 1766.89,1068.13 1768.3,1060.08 1769.7,1052.03 1771.08,1043.98 1772.45,1035.92 1773.81,1027.86 1775.16,1019.8 1776.49,1011.74 1777.82,1003.68 1779.15,995.61 1780.46,987.55 1781.77,979.48 1783.08,971.42 1784.39,963.35 1785.7,955.28 1787.01,947.22 1788.32,939.15 1789.63,931.08 1790.95,923.02 1792.27,914.95 1793.58,906.89 1794.9,898.83 1796.23,890.76 1797.55,882.7 1798.87,874.64 1800.19,866.57 1801.51,858.51 1802.82,850.45 1804.14,842.38 1805.45,834.32 1806.76,826.26 1808.07,818.19 1809.37,810.13 1810.67,802.06 1811.97,793.99 1813.26,785.93 1814.54,777.86 1815.82,769.79 1817.1,761.72 1818.36,753.65 1819.62,745.58 1820.88,737.5 1822.12,729.43 1823.36,721.35 1824.59,713.27 1825.82,705.2 1827.03,697.12 1828.25,689.04 1829.45,680.96 1830.65,672.88 1831.84,664.79 1833.03,656.71 1834.21,648.62 1835.39,640.54 1836.56,632.45 1837.73,624.37 1838.89,616.28 1840.05,608.19 1841.2,600.1 1842.35,592.01 1843.49,583.92 1844.64,575.83 1845.77,567.74 1846.9,559.65 1848.03,551.55 1849.16,543.46 1850.28,535.37 1851.4,527.27 1852.52,519.18 1853.64,511.09 1854.75,502.99 1855.86,494.9 1856.96,486.8 1858.07,478.71 1859.17,470.61 1860.27,462.51 1861.37,454.42 1862.47,446.32 1863.56,438.23 1864.66,430.13 1865.75,422.03 1866.84,413.93 1867.93,405.84 1869.02,397.74 1870.1,389.64 1871.19,381.54 1872.27,373.44 1873.35,365.35 1874.44,357.25 1875.52,349.15 1876.6,341.05 1877.68,332.95 1878.76,324.85 1879.84,316.76 1880.92,308.66 1882,300.56 1883.08,292.46 1884.16,284.36 1885.24,276.26 1886.32,268.16 1887.4,260.06 1888.48,251.97 1889.56,243.87 1890.64,235.77 1891.72,227.67 1892.8,219.57 1893.88,211.47 1894.96,203.37 1896.04,195.27 1897.12,187.18 1898.2,179.08 1899.28,170.98 1900.36,162.88 1901.44,154.78 1902.53,146.68 1903.61,138.58 1904.69,130.49 1905.77,122.39 1906.85,114.29 1907.93,106.19 1909.01,98.09 1910.09,89.99 1911.17,81.89 1912.26,73.8 1913.34,65.7 1914.42,57.6 1915.5,49.5" fill="none" stroke="#008000" stroke-width="8" stroke-linejoin="round"/>
<polygon points="317.5,79.5 343.5,34.5 291.5,34.5" fill="#008000"/>
<polygon points="477.3,595 503.3,550 451.3,550" fill="#008000"/>
<polygon points="637.1,1097.6 663.1,1052.6 611.1,1052.6" fill="#008000"/>
<polygon points="796.9,1564.3 822.9,1519.3 770.9,1519.3" fill="#008000"/>
<polygon points="956.7,1963.6 982.7,1918.6 930.7,1918.6" fill="#008000"/>
<polygon points="1116.5,2243 1142.5,2198 1090.5,2198" fill="#008000"/>
<polygon points="1276.3,2364.3 1302.3,2319.3 1250.3,2319.3" fill="#008000"/>
<polygon points="1436.1,2269.8 1462.1,2224.8 1410.1,2224.8" fill="#008000"/>
<polygon points="1595.9,1889.7 1621.9,1844.7 1569.9,1844.7" fill="#008000"/>
<polygon points="1755.7,1169.1 1781.7,1124.1 1729.7,1124.1" fill="#008000"/>
<polygon points="1787.66,981.2 1813.66,936.2 1761.66,936.2" fill="#008000"/>
<polygon points="1819.62,778.1 1845.62,733.1 1793.62,733.1" fill="#008000"/>
<polygon points="1851.58,557 1877.58,512 1825.58,512" fill="#008000"/>
<polygon points="1883.54,324 1909.54,279 1857.54,279" fill="#008000"/>
<polygon points="1915.5,79.5 1941.5,34.5 1889.5,34.5" fill="#008000"/>
</g>
</g>
</svg></body></html>
